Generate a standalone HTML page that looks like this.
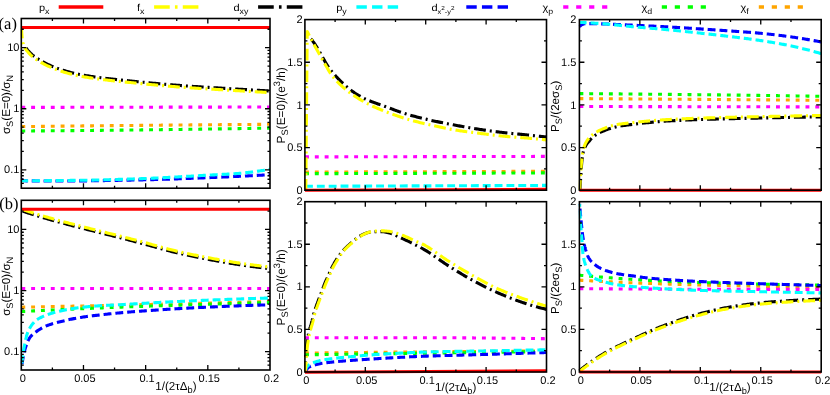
<!DOCTYPE html>
<html><head><meta charset="utf-8"><title>chart</title>
<style>html,body{margin:0;padding:0;background:#fff}svg{display:block}</style>
</head><body>
<svg width="830" height="395" viewBox="0 0 830 395">
<rect width="830" height="395" fill="#fff"/>
<clipPath id="clipLa"><rect x="20.6" y="17.8" width="250.1" height="172.3"/></clipPath>
<g clip-path="url(#clipLa)" fill="none" stroke-width="3.1" stroke-linejoin="round">
<path d="M21.30 126.60 L22.50 126.59 L23.70 126.57 L24.90 126.56 L26.10 126.54 L27.30 126.53 L28.50 126.52 L29.70 126.50 L30.90 126.49 L32.10 126.48 L33.30 126.46 L34.50 126.45 L35.70 126.44 L36.90 126.42 L38.10 126.41 L39.30 126.39 L40.50 126.38 L41.70 126.37 L42.90 126.35 L44.10 126.34 L45.30 126.33 L46.50 126.31 L47.70 126.30 L48.90 126.29 L50.10 126.27 L51.30 126.26 L52.50 126.25 L53.70 126.23 L54.90 126.22 L56.10 126.21 L57.30 126.19 L58.50 126.18 L59.70 126.17 L60.89 126.15 L62.09 126.14 L63.29 126.13 L64.49 126.12 L65.69 126.10 L66.89 126.09 L68.09 126.08 L69.29 126.06 L70.49 126.05 L71.69 126.04 L72.89 126.03 L74.09 126.01 L75.29 126.00 L76.49 125.99 L77.69 125.97 L78.89 125.96 L80.09 125.95 L81.29 125.94 L82.49 125.92 L83.69 125.91 L84.89 125.90 L86.09 125.89 L87.29 125.87 L88.49 125.86 L89.69 125.85 L90.89 125.84 L92.09 125.83 L93.29 125.81 L94.49 125.80 L95.69 125.79 L96.89 125.78 L98.09 125.76 L99.29 125.75 L100.49 125.74 L101.69 125.73 L102.89 125.72 L104.09 125.71 L105.29 125.69 L106.49 125.68 L107.69 125.67 L108.89 125.66 L110.09 125.65 L111.29 125.64 L112.49 125.62 L113.69 125.61 L114.89 125.60 L116.09 125.59 L117.29 125.58 L118.49 125.57 L119.69 125.56 L120.89 125.54 L122.09 125.53 L123.29 125.52 L124.49 125.51 L125.69 125.50 L126.89 125.49 L128.09 125.48 L129.29 125.47 L130.49 125.45 L131.69 125.44 L132.89 125.43 L134.09 125.42 L135.29 125.41 L136.49 125.40 L137.69 125.39 L138.89 125.38 L140.09 125.37 L141.29 125.35 L142.49 125.34 L143.69 125.33 L144.89 125.32 L146.09 125.31 L147.29 125.30 L148.49 125.29 L149.69 125.28 L150.89 125.27 L152.09 125.26 L153.29 125.24 L154.49 125.23 L155.69 125.22 L156.89 125.21 L158.09 125.20 L159.29 125.19 L160.49 125.18 L161.69 125.17 L162.89 125.16 L164.09 125.15 L165.29 125.14 L166.48 125.13 L167.68 125.12 L168.88 125.11 L170.08 125.09 L171.28 125.08 L172.48 125.07 L173.68 125.06 L174.88 125.05 L176.08 125.04 L177.28 125.03 L178.48 125.02 L179.68 125.01 L180.88 125.00 L182.08 124.99 L183.28 124.98 L184.48 124.97 L185.68 124.96 L186.88 124.95 L188.08 124.94 L189.28 124.93 L190.48 124.92 L191.68 124.91 L192.88 124.90 L194.08 124.89 L195.28 124.88 L196.48 124.87 L197.68 124.86 L198.88 124.85 L200.08 124.84 L201.28 124.83 L202.48 124.82 L203.68 124.81 L204.88 124.80 L206.08 124.79 L207.28 124.78 L208.48 124.77 L209.68 124.76 L210.88 124.75 L212.08 124.74 L213.28 124.73 L214.48 124.72 L215.68 124.71 L216.88 124.70 L218.08 124.69 L219.28 124.68 L220.48 124.67 L221.68 124.66 L222.88 124.65 L224.08 124.64 L225.28 124.63 L226.48 124.62 L227.68 124.61 L228.88 124.60 L230.08 124.60 L231.28 124.59 L232.48 124.58 L233.68 124.57 L234.88 124.56 L236.08 124.55 L237.28 124.54 L238.48 124.53 L239.68 124.52 L240.88 124.51 L242.08 124.50 L243.28 124.49 L244.48 124.48 L245.68 124.48 L246.88 124.47 L248.08 124.46 L249.28 124.45 L250.48 124.44 L251.68 124.43 L252.88 124.42 L254.08 124.41 L255.28 124.40 L256.48 124.40 L257.68 124.39 L258.88 124.38 L260.08 124.37 L261.28 124.36 L262.48 124.35 L263.68 124.34 L264.88 124.34 L266.08 124.33 L267.28 124.32 L268.48 124.31 L269.68 124.30 L270.00 124.30" stroke="#ffa500" stroke-dasharray="3.93 5.9"/>
<path d="M21.30 131.00 L22.50 130.99 L23.70 130.98 L24.90 130.98 L26.10 130.97 L27.30 130.96 L28.50 130.95 L29.70 130.94 L30.90 130.93 L32.10 130.93 L33.30 130.92 L34.50 130.91 L35.70 130.90 L36.90 130.89 L38.10 130.88 L39.30 130.87 L40.50 130.86 L41.70 130.86 L42.90 130.85 L44.10 130.84 L45.30 130.83 L46.50 130.82 L47.70 130.81 L48.90 130.80 L50.10 130.79 L51.30 130.78 L52.50 130.77 L53.70 130.76 L54.90 130.75 L56.10 130.74 L57.30 130.73 L58.50 130.72 L59.70 130.71 L60.90 130.70 L62.10 130.69 L63.30 130.68 L64.50 130.67 L65.70 130.66 L66.90 130.65 L68.10 130.64 L69.30 130.63 L70.50 130.62 L71.70 130.61 L72.90 130.60 L74.10 130.59 L75.30 130.58 L76.50 130.57 L77.70 130.56 L78.90 130.55 L80.10 130.54 L81.30 130.53 L82.50 130.52 L83.70 130.50 L84.90 130.49 L86.10 130.48 L87.30 130.47 L88.50 130.46 L89.70 130.45 L90.90 130.44 L92.10 130.43 L93.30 130.41 L94.50 130.40 L95.70 130.39 L96.89 130.38 L98.09 130.37 L99.29 130.36 L100.49 130.35 L101.69 130.33 L102.89 130.32 L104.09 130.31 L105.29 130.30 L106.49 130.29 L107.69 130.27 L108.89 130.26 L110.09 130.25 L111.29 130.24 L112.49 130.23 L113.69 130.21 L114.89 130.20 L116.09 130.19 L117.29 130.18 L118.49 130.16 L119.69 130.15 L120.89 130.14 L122.09 130.13 L123.29 130.11 L124.49 130.10 L125.69 130.09 L126.89 130.07 L128.09 130.06 L129.29 130.05 L130.49 130.04 L131.69 130.02 L132.89 130.01 L134.09 130.00 L135.29 129.98 L136.49 129.97 L137.69 129.96 L138.89 129.94 L140.09 129.93 L141.29 129.91 L142.49 129.90 L143.69 129.89 L144.89 129.87 L146.09 129.86 L147.29 129.85 L148.49 129.83 L149.69 129.82 L150.89 129.80 L152.09 129.79 L153.29 129.77 L154.49 129.76 L155.69 129.75 L156.89 129.73 L158.09 129.72 L159.29 129.70 L160.49 129.69 L161.69 129.67 L162.89 129.66 L164.09 129.64 L165.29 129.63 L166.49 129.61 L167.69 129.60 L168.89 129.58 L170.09 129.57 L171.29 129.55 L172.49 129.54 L173.69 129.52 L174.89 129.51 L176.08 129.49 L177.28 129.48 L178.48 129.46 L179.68 129.44 L180.88 129.43 L182.08 129.41 L183.28 129.40 L184.48 129.38 L185.68 129.37 L186.88 129.35 L188.08 129.33 L189.28 129.32 L190.48 129.30 L191.68 129.28 L192.88 129.27 L194.08 129.25 L195.28 129.24 L196.48 129.22 L197.68 129.20 L198.88 129.19 L200.08 129.17 L201.28 129.15 L202.48 129.14 L203.68 129.12 L204.88 129.10 L206.08 129.09 L207.28 129.07 L208.48 129.05 L209.68 129.03 L210.88 129.02 L212.08 129.00 L213.28 128.98 L214.48 128.97 L215.68 128.95 L216.88 128.93 L218.08 128.91 L219.28 128.90 L220.48 128.88 L221.68 128.86 L222.88 128.84 L224.08 128.82 L225.28 128.81 L226.48 128.79 L227.67 128.77 L228.87 128.75 L230.07 128.73 L231.27 128.72 L232.47 128.70 L233.67 128.68 L234.87 128.66 L236.07 128.64 L237.27 128.62 L238.47 128.61 L239.67 128.59 L240.87 128.57 L242.07 128.55 L243.27 128.53 L244.47 128.51 L245.67 128.49 L246.87 128.48 L248.07 128.46 L249.27 128.44 L250.47 128.42 L251.67 128.40 L252.87 128.38 L254.07 128.36 L255.27 128.34 L256.47 128.32 L257.67 128.30 L258.87 128.28 L260.07 128.26 L261.27 128.24 L262.47 128.22 L263.67 128.20 L264.87 128.19 L266.07 128.17 L267.26 128.15 L268.46 128.13 L269.66 128.11 L270.00 128.10" stroke="#00ff00" stroke-dasharray="3.93 5.9"/>
<path d="M21.30 107.40 L270.00 107.00" stroke="#ff00ff" stroke-dasharray="3.93 5.9"/>
<path d="M21.30 179.30 L22.19 179.91 L22.97 180.45 L23.85 180.79 L25.04 180.82 L26.23 180.83 L27.43 180.85 L28.63 180.86 L29.83 180.88 L31.03 180.89 L32.23 180.90 L33.43 180.91 L34.63 180.92 L35.83 180.93 L37.03 180.94 L38.23 180.95 L39.43 180.96 L40.63 180.96 L41.83 180.97 L43.03 180.97 L44.23 180.98 L45.43 180.98 L46.63 180.99 L47.83 180.99 L49.03 180.99 L50.23 180.99 L51.43 181.00 L52.63 181.00 L53.83 181.00 L55.03 181.00 L56.23 181.00 L57.43 181.00 L58.63 181.00 L59.83 181.00 L61.03 181.00 L62.23 181.00 L63.43 181.00 L64.63 180.99 L65.83 180.99 L67.03 180.99 L68.23 180.98 L69.43 180.98 L70.63 180.97 L71.83 180.96 L73.03 180.96 L74.23 180.95 L75.43 180.94 L76.63 180.93 L77.83 180.92 L79.03 180.91 L80.23 180.90 L81.43 180.89 L82.63 180.88 L83.83 180.86 L85.03 180.85 L86.23 180.84 L87.43 180.82 L88.63 180.81 L89.83 180.79 L91.03 180.78 L92.23 180.76 L93.43 180.74 L94.63 180.73 L95.83 180.71 L97.03 180.69 L98.23 180.67 L99.43 180.65 L100.63 180.64 L101.83 180.62 L103.03 180.60 L104.23 180.58 L105.43 180.56 L106.63 180.54 L107.83 180.52 L109.03 180.49 L110.23 180.47 L111.43 180.45 L112.63 180.43 L113.83 180.41 L115.03 180.39 L116.22 180.36 L117.42 180.34 L118.62 180.32 L119.82 180.30 L121.02 180.27 L122.22 180.25 L123.42 180.23 L124.62 180.20 L125.82 180.18 L127.02 180.16 L128.22 180.13 L129.42 180.11 L130.62 180.08 L131.82 180.06 L133.02 180.04 L134.22 180.01 L135.42 179.99 L136.62 179.97 L137.82 179.94 L139.02 179.92 L140.22 179.90 L141.42 179.87 L142.61 179.85 L143.81 179.82 L145.01 179.79 L146.21 179.77 L147.41 179.74 L148.61 179.71 L149.81 179.68 L151.01 179.65 L152.21 179.62 L153.41 179.59 L154.61 179.56 L155.81 179.52 L157.01 179.49 L158.21 179.46 L159.40 179.42 L160.60 179.39 L161.80 179.35 L163.00 179.31 L164.20 179.28 L165.40 179.24 L166.60 179.20 L167.80 179.16 L168.99 179.12 L170.19 179.08 L171.39 179.04 L172.59 179.00 L173.79 178.96 L174.99 178.92 L176.19 178.88 L177.39 178.84 L178.58 178.79 L179.78 178.75 L180.98 178.71 L182.18 178.67 L183.38 178.62 L184.58 178.58 L185.77 178.53 L186.97 178.49 L188.17 178.44 L189.37 178.40 L190.57 178.35 L191.77 178.31 L192.96 178.26 L194.16 178.22 L195.36 178.17 L196.56 178.12 L197.76 178.08 L198.96 178.03 L200.15 177.99 L201.35 177.94 L202.55 177.89 L203.75 177.85 L204.95 177.80 L206.14 177.75 L207.34 177.71 L208.54 177.66 L209.74 177.61 L210.94 177.56 L212.14 177.52 L213.33 177.47 L214.53 177.42 L215.73 177.37 L216.93 177.32 L218.13 177.27 L219.32 177.22 L220.52 177.17 L221.72 177.11 L222.92 177.06 L224.11 177.01 L225.31 176.95 L226.51 176.90 L227.71 176.85 L228.90 176.79 L230.10 176.74 L231.30 176.68 L232.50 176.63 L233.69 176.57 L234.89 176.51 L236.09 176.46 L237.29 176.40 L238.48 176.34 L239.68 176.28 L240.88 176.23 L242.07 176.17 L243.27 176.11 L244.47 176.05 L245.67 175.99 L246.86 175.93 L248.06 175.87 L249.26 175.81 L250.45 175.74 L251.65 175.68 L252.85 175.62 L254.04 175.56 L255.24 175.50 L256.44 175.43 L257.63 175.37 L258.83 175.31 L260.03 175.24 L261.22 175.18 L262.42 175.11 L263.62 175.05 L264.81 174.98 L266.01 174.92 L267.21 174.85 L268.40 174.79 L269.60 174.72 L270.00 174.70" stroke="#0000ff" stroke-dasharray="7.9 3.95" stroke-dashoffset="1"/>
<path d="M21.30 180.80 L22.50 180.80 L23.70 180.80 L24.90 180.80 L26.10 180.80 L27.30 180.79 L28.50 180.79 L29.70 180.79 L30.90 180.78 L32.10 180.78 L33.30 180.77 L34.50 180.77 L35.70 180.76 L36.90 180.75 L38.10 180.74 L39.30 180.74 L40.50 180.73 L41.70 180.72 L42.90 180.71 L44.10 180.70 L45.30 180.69 L46.50 180.68 L47.70 180.67 L48.90 180.66 L50.10 180.65 L51.30 180.64 L52.50 180.63 L53.70 180.61 L54.90 180.60 L56.10 180.59 L57.30 180.58 L58.50 180.56 L59.70 180.55 L60.90 180.54 L62.10 180.52 L63.30 180.51 L64.50 180.49 L65.70 180.48 L66.90 180.47 L68.10 180.45 L69.30 180.44 L70.50 180.42 L71.70 180.41 L72.90 180.39 L74.10 180.38 L75.30 180.36 L76.50 180.35 L77.70 180.33 L78.90 180.31 L80.09 180.30 L81.29 180.28 L82.49 180.27 L83.69 180.25 L84.89 180.23 L86.09 180.21 L87.29 180.19 L88.49 180.17 L89.69 180.15 L90.89 180.12 L92.09 180.10 L93.29 180.08 L94.49 180.05 L95.69 180.02 L96.89 180.00 L98.09 179.97 L99.29 179.94 L100.49 179.91 L101.69 179.89 L102.89 179.86 L104.09 179.82 L105.28 179.79 L106.48 179.76 L107.68 179.73 L108.88 179.70 L110.08 179.66 L111.28 179.63 L112.48 179.60 L113.68 179.56 L114.88 179.52 L116.08 179.49 L117.28 179.45 L118.47 179.42 L119.67 179.38 L120.87 179.34 L122.07 179.30 L123.27 179.27 L124.47 179.23 L125.67 179.19 L126.87 179.15 L128.06 179.11 L129.26 179.07 L130.46 179.03 L131.66 178.99 L132.86 178.95 L134.06 178.91 L135.26 178.86 L136.45 178.82 L137.65 178.78 L138.85 178.74 L140.05 178.70 L141.25 178.66 L142.45 178.61 L143.65 178.57 L144.84 178.52 L146.04 178.47 L147.24 178.42 L148.44 178.37 L149.64 178.32 L150.83 178.27 L152.03 178.22 L153.23 178.17 L154.43 178.11 L155.62 178.06 L156.82 178.00 L158.02 177.94 L159.22 177.88 L160.41 177.82 L161.61 177.76 L162.81 177.70 L164.00 177.64 L165.20 177.58 L166.40 177.52 L167.59 177.46 L168.79 177.39 L169.99 177.33 L171.18 177.26 L172.38 177.20 L173.58 177.13 L174.77 177.07 L175.97 177.00 L177.17 176.93 L178.36 176.86 L179.56 176.80 L180.75 176.73 L181.95 176.66 L183.15 176.59 L184.34 176.52 L185.54 176.45 L186.74 176.39 L187.93 176.32 L189.13 176.25 L190.32 176.18 L191.52 176.11 L192.72 176.04 L193.91 175.97 L195.11 175.90 L196.30 175.83 L197.50 175.77 L198.70 175.70 L199.89 175.63 L201.09 175.56 L202.28 175.49 L203.48 175.42 L204.68 175.36 L205.87 175.29 L207.07 175.22 L208.26 175.16 L209.46 175.09 L210.66 175.03 L211.85 174.97 L213.05 174.90 L214.25 174.84 L215.44 174.78 L216.64 174.72 L217.84 174.66 L219.04 174.60 L220.23 174.54 L221.43 174.47 L222.63 174.41 L223.82 174.35 L225.02 174.28 L226.22 174.22 L227.41 174.15 L228.61 174.08 L229.80 174.01 L231.00 173.93 L232.19 173.86 L233.39 173.78 L234.58 173.70 L235.78 173.62 L236.97 173.53 L238.17 173.44 L239.36 173.35 L240.55 173.25 L241.74 173.15 L242.93 173.04 L244.12 172.92 L245.31 172.79 L246.50 172.66 L247.68 172.53 L248.87 172.39 L250.05 172.24 L251.23 172.09 L252.41 171.94 L253.59 171.79 L254.77 171.63 L255.95 171.47 L257.13 171.31 L258.30 171.14 L259.48 170.97 L260.65 170.79 L261.82 170.60 L262.99 170.41 L264.16 170.22 L265.33 170.03 L266.50 169.83 L267.66 169.62 L268.83 169.41 L269.99 169.20 L270.00 169.20" stroke="#00ffff" stroke-dasharray="7.9 3.95" stroke-dashoffset="1"/>
<path d="M24.10 44.60 L24.40 45.12 L24.71 45.64 L25.02 46.16 L25.34 46.69 L25.67 47.22 L26.00 47.75 L26.36 48.29 L26.72 48.83 L27.12 49.38 L27.53 49.93 L27.99 50.49 L28.50 51.07 L29.02 51.66 L29.57 52.24 L30.14 52.83 L30.73 53.42 L31.35 54.00 L32.00 54.59 L32.67 55.17 L33.38 55.74 L34.11 56.31 L34.88 56.87 L35.67 57.43 L36.49 57.98 L37.32 58.52 L38.17 59.07 L39.03 59.60 L39.90 60.13 L40.78 60.65 L41.67 61.17 L42.58 61.68 L43.50 62.18 L44.43 62.67 L45.37 63.16 L46.32 63.64 L47.29 64.11 L48.26 64.57 L49.25 65.02 L50.25 65.46 L51.25 65.90 L52.27 66.32 L53.29 66.74 L54.33 67.15 L55.37 67.55 L56.42 67.94 L57.47 68.33 L58.53 68.71 L59.60 69.08 L60.68 69.44 L61.75 69.80 L62.84 70.15 L63.93 70.49 L65.02 70.83 L66.12 71.15 L67.23 71.47 L68.34 71.78 L69.45 72.08 L70.58 72.38 L71.70 72.66 L72.83 72.94 L73.96 73.21 L75.10 73.47 L76.25 73.72 L77.39 73.96 L78.54 74.20 L79.69 74.43 L80.85 74.65 L82.01 74.87 L83.17 75.08 L84.33 75.29 L85.49 75.49 L86.66 75.68 L87.83 75.87 L89.00 76.06 L90.17 76.24 L91.34 76.42 L92.52 76.59 L93.69 76.76 L94.87 76.92 L96.05 77.08 L97.22 77.24 L98.40 77.40 L99.58 77.55 L100.76 77.71 L101.94 77.86 L103.12 78.00 L104.31 78.15 L105.49 78.29 L106.67 78.43 L107.86 78.57 L109.04 78.71 L110.22 78.85 L111.41 78.98 L112.59 79.11 L113.78 79.24 L114.96 79.37 L116.15 79.50 L117.34 79.63 L118.52 79.75 L119.71 79.88 L120.90 80.00 L122.08 80.12 L123.27 80.24 L124.46 80.36 L125.65 80.48 L126.84 80.60 L128.02 80.72 L129.21 80.84 L130.40 80.96 L131.59 81.08 L132.78 81.20 L133.96 81.32 L135.15 81.44 L136.34 81.55 L137.53 81.67 L138.72 81.79 L139.91 81.91 L141.09 82.02 L142.28 82.14 L143.47 82.26 L144.66 82.37 L145.85 82.49 L147.04 82.60 L148.23 82.72 L149.42 82.83 L150.60 82.95 L151.79 83.06 L152.98 83.17 L154.17 83.28 L155.36 83.39 L156.55 83.50 L157.74 83.61 L158.93 83.72 L160.12 83.83 L161.31 83.93 L162.50 84.04 L163.69 84.14 L164.88 84.25 L166.08 84.35 L167.27 84.45 L168.46 84.55 L169.65 84.65 L170.84 84.75 L172.03 84.85 L173.22 84.95 L174.42 85.05 L175.61 85.14 L176.80 85.23 L177.99 85.33 L179.19 85.42 L180.38 85.51 L181.57 85.60 L182.77 85.69 L183.96 85.77 L185.15 85.86 L186.35 85.94 L187.54 86.03 L188.74 86.11 L189.93 86.19 L191.13 86.27 L192.32 86.35 L193.51 86.43 L194.71 86.51 L195.90 86.59 L197.10 86.66 L198.29 86.74 L199.49 86.82 L200.69 86.89 L201.88 86.96 L203.08 87.04 L204.27 87.11 L205.47 87.19 L206.66 87.26 L207.86 87.33 L209.05 87.40 L210.25 87.47 L211.45 87.55 L212.64 87.62 L213.84 87.69 L215.03 87.76 L216.23 87.83 L217.42 87.90 L218.62 87.97 L219.82 88.04 L221.01 88.12 L222.21 88.19 L223.40 88.26 L224.60 88.33 L225.79 88.40 L226.99 88.48 L228.19 88.55 L229.38 88.62 L230.58 88.69 L231.77 88.77 L232.97 88.84 L234.16 88.91 L235.36 88.98 L236.55 89.05 L237.75 89.12 L238.95 89.20 L240.14 89.27 L241.34 89.34 L242.53 89.41 L243.73 89.48 L244.92 89.55 L246.12 89.62 L247.32 89.69 L248.51 89.76 L249.71 89.83 L250.90 89.90 L252.10 89.97 L253.30 90.04 L254.49 90.11 L255.69 90.18 L256.88 90.25 L258.08 90.32 L259.28 90.39 L260.47 90.46 L261.67 90.53 L262.86 90.59 L264.06 90.66 L265.26 90.73 L266.45 90.80 L267.65 90.87 L268.84 90.93 L270.00 91.00" stroke="#000000" stroke-dasharray="11.85 3.95 1.98 3.95" stroke-dashoffset="17.83"/>
<path d="M21.50 28.30 L21.55 29.10 L21.60 29.89 L21.65 30.69 L21.70 31.48 L21.75 32.25 L21.80 33.01 L21.85 33.75 L21.90 34.47 L21.95 35.16 L22.00 35.81 L22.05 36.43 L22.10 37.00 L22.15 37.53 L22.20 38.01 L22.25 38.43 L22.30 38.80 L22.35 39.13 L22.40 39.45 L22.45 39.76 L22.50 40.07 L22.55 40.36 L22.60 40.65 L22.65 40.93 L22.70 41.20 L22.75 41.46 L22.80 41.71 L22.85 41.96 L22.90 42.20 L22.95 42.44 L23.01 42.68 L23.07 42.94 L23.13 43.20 L23.20 43.47 L23.27 43.75 L23.35 44.05 L23.44 44.35 L23.54 44.67 L23.65 45.00 L23.77 45.35 L23.90 45.72 L24.06 46.11 L24.24 46.53 L24.44 46.96 L24.66 47.41 L24.90 47.87 L25.16 48.35 L25.46 48.85 L25.80 49.37 L26.18 49.90 L26.61 50.45 L27.07 51.02 L27.57 51.60 L28.09 52.20 L28.60 52.78 L29.13 53.37 L29.68 53.96 L30.25 54.54 L30.85 55.13 L31.48 55.72 L32.13 56.30 L32.81 56.88 L33.52 57.45 L34.26 58.02 L35.03 58.58 L35.83 59.13 L36.65 59.68 L37.49 60.23 L38.33 60.77 L39.19 61.30 L40.06 61.83 L40.95 62.35 L41.85 62.87 L42.75 63.37 L43.68 63.87 L44.61 64.37 L45.55 64.85 L46.51 65.33 L47.48 65.80 L48.45 66.25 L49.44 66.71 L50.44 67.15 L51.45 67.58 L52.47 68.01 L53.49 68.42 L54.53 68.83 L55.57 69.23 L56.62 69.62 L57.68 70.00 L58.74 70.38 L59.81 70.75 L60.88 71.11 L61.96 71.47 L63.05 71.82 L64.14 72.16 L65.24 72.49 L66.34 72.82 L67.44 73.13 L68.55 73.44 L69.67 73.74 L70.79 74.03 L71.92 74.32 L73.05 74.59 L74.18 74.86 L75.32 75.12 L76.47 75.37 L77.61 75.61 L78.76 75.84 L79.92 76.07 L81.07 76.30 L82.23 76.51 L83.39 76.72 L84.56 76.93 L85.72 77.13 L86.89 77.32 L88.06 77.51 L89.23 77.69 L90.40 77.87 L91.57 78.05 L92.74 78.22 L93.92 78.39 L95.10 78.55 L96.27 78.72 L97.45 78.87 L98.63 79.03 L99.81 79.18 L100.99 79.34 L102.17 79.49 L103.35 79.63 L104.54 79.78 L105.72 79.92 L106.90 80.06 L108.08 80.20 L109.27 80.34 L110.45 80.47 L111.64 80.60 L112.82 80.74 L114.01 80.87 L115.19 81.00 L116.38 81.12 L117.57 81.25 L118.75 81.38 L119.94 81.50 L121.13 81.62 L122.31 81.75 L123.50 81.87 L124.69 81.99 L125.88 82.11 L127.07 82.23 L128.25 82.35 L129.44 82.47 L130.63 82.58 L131.82 82.70 L133.01 82.82 L134.19 82.94 L135.38 83.06 L136.57 83.18 L137.76 83.30 L138.95 83.41 L140.14 83.53 L141.32 83.65 L142.51 83.76 L143.70 83.88 L144.89 84.00 L146.08 84.11 L147.27 84.23 L148.46 84.34 L149.65 84.45 L150.83 84.57 L152.02 84.68 L153.21 84.79 L154.40 84.90 L155.59 85.01 L156.78 85.12 L157.97 85.23 L159.16 85.34 L160.35 85.45 L161.54 85.55 L162.73 85.66 L163.92 85.76 L165.12 85.87 L166.31 85.97 L167.50 86.07 L168.69 86.17 L169.88 86.27 L171.07 86.37 L172.26 86.47 L173.46 86.57 L174.65 86.66 L175.84 86.76 L177.03 86.85 L178.23 86.94 L179.42 87.04 L180.61 87.13 L181.80 87.22 L183.00 87.30 L184.19 87.39 L185.39 87.47 L186.58 87.56 L187.77 87.64 L188.97 87.73 L190.16 87.81 L191.36 87.89 L192.55 87.97 L193.75 88.05 L194.94 88.12 L196.14 88.20 L197.33 88.28 L198.53 88.35 L199.72 88.43 L200.92 88.50 L202.11 88.58 L203.31 88.65 L204.50 88.73 L205.70 88.80 L206.89 88.87 L208.09 88.94 L209.29 89.02 L210.48 89.09 L211.68 89.16 L212.87 89.23 L214.07 89.30 L215.26 89.37 L216.46 89.44 L217.66 89.52 L218.85 89.59 L220.05 89.66 L221.24 89.73 L222.44 89.80 L223.63 89.87 L224.83 89.94 L226.03 90.02 L227.22 90.09 L228.42 90.16 L229.61 90.23 L230.81 90.31 L232.00 90.38 L233.20 90.45 L234.39 90.52 L235.59 90.60 L236.79 90.67 L237.98 90.74 L239.18 90.81 L240.37 90.88 L241.57 90.95 L242.76 91.02 L243.96 91.09 L245.16 91.16 L246.35 91.24 L247.55 91.31 L248.74 91.38 L249.94 91.45 L251.14 91.52 L252.33 91.59 L253.53 91.66 L254.72 91.73 L255.92 91.79 L257.12 91.86 L258.31 91.93 L259.51 92.00 L260.70 92.07 L261.90 92.14 L263.10 92.21 L264.29 92.28 L265.49 92.34 L266.68 92.41 L267.88 92.48 L269.08 92.55 L270.00 92.60" stroke="#ffff00" stroke-dasharray="11.85 3.95 1.98 3.95" stroke-dashoffset="1.79"/>
<path d="M21.30 27.50 L270.00 27.50" stroke="#ff0000"/>
</g>
<clipPath id="clipLb"><rect x="20.6" y="199.6" width="250.1" height="172.3"/></clipPath>
<g clip-path="url(#clipLb)" fill="none" stroke-width="3.1" stroke-linejoin="round">
<path d="M21.30 307.20 L22.50 307.18 L23.70 307.15 L24.90 307.13 L26.10 307.11 L27.30 307.08 L28.50 307.06 L29.70 307.04 L30.90 307.01 L32.10 306.99 L33.30 306.96 L34.49 306.94 L35.69 306.92 L36.89 306.89 L38.09 306.87 L39.29 306.84 L40.49 306.82 L41.69 306.80 L42.89 306.77 L44.09 306.75 L45.29 306.72 L46.49 306.70 L47.69 306.68 L48.89 306.65 L50.09 306.63 L51.29 306.60 L52.49 306.58 L53.69 306.55 L54.89 306.53 L56.09 306.50 L57.29 306.48 L58.49 306.45 L59.68 306.43 L60.88 306.41 L62.08 306.38 L63.28 306.36 L64.48 306.33 L65.68 306.31 L66.88 306.28 L68.08 306.26 L69.28 306.23 L70.48 306.21 L71.68 306.18 L72.88 306.16 L74.08 306.13 L75.28 306.11 L76.48 306.08 L77.68 306.06 L78.88 306.03 L80.08 306.00 L81.28 305.98 L82.47 305.95 L83.67 305.93 L84.87 305.90 L86.07 305.88 L87.27 305.85 L88.47 305.83 L89.67 305.80 L90.87 305.77 L92.07 305.75 L93.27 305.72 L94.47 305.70 L95.67 305.67 L96.87 305.65 L98.07 305.62 L99.27 305.59 L100.47 305.57 L101.67 305.54 L102.87 305.52 L104.06 305.49 L105.26 305.46 L106.46 305.44 L107.66 305.41 L108.86 305.38 L110.06 305.36 L111.26 305.33 L112.46 305.31 L113.66 305.28 L114.86 305.25 L116.06 305.23 L117.26 305.20 L118.46 305.17 L119.66 305.15 L120.86 305.12 L122.06 305.09 L123.26 305.07 L124.45 305.04 L125.65 305.01 L126.85 304.99 L128.05 304.96 L129.25 304.93 L130.45 304.91 L131.65 304.88 L132.85 304.85 L134.05 304.83 L135.25 304.80 L136.45 304.77 L137.65 304.74 L138.85 304.72 L140.05 304.69 L141.25 304.66 L142.45 304.64 L143.65 304.61 L144.84 304.58 L146.04 304.55 L147.24 304.53 L148.44 304.50 L149.64 304.47 L150.84 304.44 L152.04 304.42 L153.24 304.39 L154.44 304.36 L155.64 304.33 L156.84 304.31 L158.04 304.28 L159.24 304.25 L160.44 304.22 L161.64 304.19 L162.83 304.17 L164.03 304.14 L165.23 304.11 L166.43 304.08 L167.63 304.05 L168.83 304.03 L170.03 304.00 L171.23 303.97 L172.43 303.94 L173.63 303.91 L174.83 303.88 L176.03 303.86 L177.23 303.83 L178.43 303.80 L179.63 303.77 L180.82 303.74 L182.02 303.71 L183.22 303.68 L184.42 303.66 L185.62 303.63 L186.82 303.60 L188.02 303.57 L189.22 303.54 L190.42 303.51 L191.62 303.48 L192.82 303.45 L194.02 303.42 L195.22 303.39 L196.42 303.37 L197.62 303.34 L198.81 303.31 L200.01 303.28 L201.21 303.25 L202.41 303.22 L203.61 303.19 L204.81 303.16 L206.01 303.13 L207.21 303.10 L208.41 303.07 L209.61 303.04 L210.81 303.01 L212.01 302.98 L213.21 302.95 L214.40 302.92 L215.60 302.89 L216.80 302.86 L218.00 302.83 L219.20 302.80 L220.40 302.77 L221.60 302.74 L222.80 302.71 L224.00 302.68 L225.20 302.65 L226.40 302.62 L227.60 302.59 L228.80 302.56 L230.00 302.53 L231.19 302.50 L232.39 302.47 L233.59 302.44 L234.79 302.41 L235.99 302.38 L237.19 302.35 L238.39 302.32 L239.59 302.29 L240.79 302.26 L241.99 302.23 L243.19 302.20 L244.39 302.17 L245.59 302.14 L246.78 302.10 L247.98 302.07 L249.18 302.04 L250.38 302.01 L251.58 301.98 L252.78 301.95 L253.98 301.92 L255.18 301.89 L256.38 301.86 L257.58 301.83 L258.78 301.79 L259.98 301.76 L261.17 301.73 L262.37 301.70 L263.57 301.67 L264.77 301.64 L265.97 301.61 L267.17 301.57 L268.37 301.54 L269.57 301.51 L270.00 301.50" stroke="#ffa500" stroke-dasharray="3.93 5.9"/>
<path d="M21.30 311.50 L22.50 311.44 L23.69 311.38 L24.89 311.33 L26.09 311.27 L27.29 311.21 L28.48 311.15 L29.68 311.09 L30.88 311.04 L32.07 310.98 L33.27 310.92 L34.47 310.86 L35.67 310.81 L36.86 310.75 L38.06 310.69 L39.26 310.64 L40.46 310.58 L41.65 310.52 L42.85 310.47 L44.05 310.41 L45.25 310.36 L46.44 310.30 L47.64 310.25 L48.84 310.19 L50.03 310.13 L51.23 310.08 L52.43 310.02 L53.63 309.97 L54.82 309.91 L56.02 309.86 L57.22 309.81 L58.42 309.75 L59.61 309.70 L60.81 309.64 L62.01 309.59 L63.21 309.54 L64.41 309.48 L65.60 309.43 L66.80 309.37 L68.00 309.32 L69.20 309.27 L70.39 309.22 L71.59 309.16 L72.79 309.11 L73.99 309.06 L75.18 309.01 L76.38 308.95 L77.58 308.90 L78.78 308.85 L79.98 308.80 L81.17 308.75 L82.37 308.70 L83.57 308.64 L84.77 308.59 L85.96 308.54 L87.16 308.49 L88.36 308.44 L89.56 308.39 L90.76 308.34 L91.95 308.29 L93.15 308.24 L94.35 308.19 L95.55 308.14 L96.75 308.09 L97.94 308.04 L99.14 308.00 L100.34 307.95 L101.54 307.90 L102.74 307.85 L103.93 307.80 L105.13 307.75 L106.33 307.71 L107.53 307.66 L108.73 307.61 L109.92 307.56 L111.12 307.52 L112.32 307.47 L113.52 307.42 L114.72 307.38 L115.91 307.33 L117.11 307.28 L118.31 307.24 L119.51 307.19 L120.71 307.15 L121.91 307.10 L123.10 307.06 L124.30 307.01 L125.50 306.97 L126.70 306.92 L127.90 306.88 L129.10 306.83 L130.29 306.79 L131.49 306.75 L132.69 306.70 L133.89 306.66 L135.09 306.62 L136.29 306.57 L137.48 306.53 L138.68 306.49 L139.88 306.44 L141.08 306.40 L142.28 306.36 L143.48 306.32 L144.68 306.28 L145.87 306.24 L147.07 306.19 L148.27 306.15 L149.47 306.11 L150.67 306.07 L151.87 306.03 L153.07 305.99 L154.26 305.95 L155.46 305.91 L156.66 305.87 L157.86 305.83 L159.06 305.78 L160.26 305.74 L161.46 305.70 L162.66 305.66 L163.85 305.62 L165.05 305.58 L166.25 305.54 L167.45 305.50 L168.65 305.47 L169.85 305.43 L171.05 305.39 L172.24 305.35 L173.44 305.31 L174.64 305.27 L175.84 305.23 L177.04 305.19 L178.24 305.15 L179.44 305.11 L180.64 305.08 L181.83 305.04 L183.03 305.00 L184.23 304.96 L185.43 304.92 L186.63 304.89 L187.83 304.85 L189.03 304.81 L190.23 304.77 L191.43 304.74 L192.62 304.70 L193.82 304.66 L195.02 304.62 L196.22 304.59 L197.42 304.55 L198.62 304.51 L199.82 304.48 L201.02 304.44 L202.21 304.40 L203.41 304.37 L204.61 304.33 L205.81 304.30 L207.01 304.26 L208.21 304.23 L209.41 304.19 L210.61 304.16 L211.81 304.12 L213.01 304.09 L214.20 304.05 L215.40 304.02 L216.60 303.98 L217.80 303.95 L219.00 303.91 L220.20 303.88 L221.40 303.84 L222.60 303.81 L223.80 303.78 L225.00 303.74 L226.19 303.71 L227.39 303.68 L228.59 303.64 L229.79 303.61 L230.99 303.58 L232.19 303.55 L233.39 303.51 L234.59 303.48 L235.79 303.45 L236.99 303.42 L238.19 303.38 L239.38 303.35 L240.58 303.32 L241.78 303.29 L242.98 303.26 L244.18 303.23 L245.38 303.20 L246.58 303.17 L247.78 303.14 L248.98 303.11 L250.18 303.08 L251.38 303.05 L252.58 303.02 L253.78 302.99 L254.97 302.96 L256.17 302.93 L257.37 302.90 L258.57 302.87 L259.77 302.84 L260.97 302.81 L262.17 302.78 L263.37 302.75 L264.57 302.73 L265.77 302.70 L266.97 302.67 L268.17 302.64 L269.37 302.61 L270.00 302.60" stroke="#00ff00" stroke-dasharray="3.93 5.9"/>
<path d="M21.30 288.50 L270.00 288.50" stroke="#ff00ff" stroke-dasharray="3.93 5.9"/>
<path d="M22.00 364.00 L22.05 363.70 L22.10 363.40 L22.15 363.11 L22.20 362.81 L22.25 362.51 L22.30 362.22 L22.35 361.92 L22.40 361.63 L22.45 361.33 L22.50 361.04 L22.55 360.75 L22.60 360.46 L22.65 360.17 L22.70 359.88 L22.75 359.60 L22.80 359.31 L22.85 359.03 L22.90 358.75 L22.95 358.47 L23.00 358.19 L23.05 357.91 L23.10 357.64 L23.15 357.36 L23.20 357.09 L23.25 356.82 L23.30 356.56 L23.35 356.29 L23.40 356.03 L23.45 355.77 L23.50 355.51 L23.55 355.26 L23.60 355.01 L23.65 354.76 L23.70 354.51 L23.75 354.27 L23.80 354.03 L23.85 353.79 L23.90 353.55 L23.96 353.30 L24.01 353.05 L24.07 352.80 L24.12 352.55 L24.18 352.29 L24.25 352.02 L24.31 351.75 L24.38 351.48 L24.45 351.20 L24.53 350.91 L24.61 350.61 L24.70 350.31 L24.79 349.99 L24.89 349.67 L24.99 349.34 L25.08 349.01 L25.19 348.68 L25.29 348.34 L25.40 348.00 L25.50 347.66 L25.61 347.32 L25.73 346.97 L25.84 346.62 L25.96 346.26 L26.08 345.91 L26.20 345.54 L26.33 345.18 L26.46 344.80 L26.60 344.43 L26.74 344.04 L26.89 343.66 L27.04 343.26 L27.19 342.86 L27.36 342.46 L27.53 342.05 L27.71 341.62 L27.89 341.20 L28.09 340.76 L28.30 340.31 L28.53 339.85 L28.77 339.38 L29.04 338.90 L29.33 338.40 L29.65 337.89 L30.02 337.37 L30.45 336.81 L30.92 336.25 L31.43 335.68 L31.98 335.10 L32.58 334.52 L33.23 333.95 L33.92 333.38 L34.66 332.81 L35.43 332.25 L36.23 331.69 L37.03 331.13 L37.84 330.58 L38.67 330.03 L39.52 329.49 L40.38 328.96 L41.26 328.44 L42.16 327.93 L43.08 327.44 L44.02 326.96 L44.98 326.49 L45.96 326.05 L46.97 325.63 L48.01 325.23 L49.06 324.85 L50.13 324.49 L51.22 324.15 L52.32 323.82 L53.42 323.51 L54.53 323.20 L55.65 322.90 L56.78 322.61 L57.90 322.32 L59.03 322.04 L60.16 321.75 L61.28 321.47 L62.41 321.19 L63.55 320.92 L64.68 320.64 L65.82 320.38 L66.95 320.11 L68.09 319.85 L69.24 319.60 L70.38 319.35 L71.53 319.11 L72.68 318.87 L73.83 318.64 L74.99 318.42 L76.14 318.20 L77.30 317.99 L78.47 317.79 L79.63 317.59 L80.80 317.41 L81.97 317.23 L83.15 317.05 L84.32 316.88 L85.50 316.71 L86.67 316.55 L87.85 316.39 L89.03 316.24 L90.21 316.09 L91.39 315.94 L92.58 315.80 L93.76 315.65 L94.94 315.51 L96.12 315.37 L97.31 315.24 L98.49 315.10 L99.68 314.96 L100.86 314.83 L102.05 314.69 L103.23 314.56 L104.42 314.43 L105.60 314.30 L106.79 314.17 L107.97 314.04 L109.16 313.91 L110.35 313.79 L111.53 313.66 L112.72 313.54 L113.91 313.42 L115.10 313.31 L116.28 313.19 L117.47 313.07 L118.66 312.96 L119.85 312.85 L121.04 312.74 L122.23 312.63 L123.42 312.53 L124.61 312.42 L125.80 312.32 L127.00 312.22 L128.19 312.12 L129.38 312.02 L130.57 311.92 L131.76 311.82 L132.95 311.73 L134.15 311.64 L135.34 311.54 L136.53 311.45 L137.73 311.36 L138.92 311.27 L140.11 311.19 L141.31 311.10 L142.50 311.01 L143.69 310.93 L144.89 310.84 L146.08 310.76 L147.28 310.68 L148.47 310.60 L149.66 310.51 L150.86 310.43 L152.05 310.35 L153.25 310.27 L154.44 310.19 L155.64 310.11 L156.83 310.03 L158.03 309.95 L159.22 309.87 L160.42 309.79 L161.61 309.71 L162.81 309.63 L164.00 309.55 L165.20 309.48 L166.39 309.40 L167.59 309.32 L168.78 309.25 L169.98 309.17 L171.17 309.10 L172.37 309.02 L173.56 308.95 L174.76 308.88 L175.95 308.80 L177.15 308.73 L178.34 308.66 L179.54 308.59 L180.74 308.52 L181.93 308.45 L183.13 308.38 L184.32 308.32 L185.52 308.25 L186.72 308.18 L187.91 308.12 L189.11 308.05 L190.31 307.99 L191.50 307.93 L192.70 307.86 L193.90 307.80 L195.09 307.74 L196.29 307.68 L197.49 307.62 L198.68 307.56 L199.88 307.51 L201.08 307.45 L202.28 307.39 L203.47 307.34 L204.67 307.28 L205.87 307.22 L207.07 307.17 L208.26 307.11 L209.46 307.06 L210.66 307.00 L211.86 306.95 L213.05 306.89 L214.25 306.84 L215.45 306.79 L216.65 306.73 L217.84 306.68 L219.04 306.63 L220.24 306.58 L221.44 306.52 L222.63 306.47 L223.83 306.42 L225.03 306.37 L226.23 306.32 L227.43 306.27 L228.62 306.22 L229.82 306.17 L231.02 306.12 L232.22 306.07 L233.42 306.03 L234.61 305.98 L235.81 305.93 L237.01 305.88 L238.21 305.84 L239.41 305.79 L240.60 305.75 L241.80 305.70 L243.00 305.66 L244.20 305.61 L245.40 305.57 L246.60 305.53 L247.79 305.48 L248.99 305.44 L250.19 305.40 L251.39 305.36 L252.59 305.32 L253.79 305.28 L254.99 305.24 L256.19 305.20 L257.38 305.16 L258.58 305.13 L259.78 305.09 L260.98 305.05 L262.18 305.02 L263.38 304.98 L264.58 304.95 L265.78 304.91 L266.98 304.88 L268.17 304.85 L269.37 304.82 L270.00 304.80" stroke="#0000ff" stroke-dasharray="7.9 3.95"/>
<path d="M21.90 363.20 L21.95 362.79 L22.00 362.38 L22.05 361.96 L22.10 361.56 L22.15 361.15 L22.20 360.74 L22.25 360.34 L22.30 359.93 L22.35 359.53 L22.40 359.13 L22.45 358.73 L22.50 358.34 L22.55 357.94 L22.60 357.55 L22.65 357.17 L22.70 356.78 L22.75 356.40 L22.80 356.02 L22.85 355.64 L22.90 355.27 L22.95 354.90 L23.00 354.53 L23.05 354.17 L23.10 353.81 L23.15 353.45 L23.20 353.10 L23.25 352.75 L23.30 352.41 L23.35 352.07 L23.40 351.73 L23.45 351.40 L23.50 351.08 L23.55 350.75 L23.60 350.44 L23.65 350.13 L23.70 349.82 L23.75 349.52 L23.80 349.23 L23.85 348.94 L23.90 348.65 L23.95 348.37 L24.00 348.10 L24.05 347.83 L24.10 347.56 L24.15 347.30 L24.20 347.03 L24.25 346.76 L24.30 346.50 L24.35 346.23 L24.40 345.97 L24.45 345.71 L24.50 345.45 L24.55 345.19 L24.60 344.93 L24.65 344.67 L24.70 344.42 L24.75 344.16 L24.80 343.91 L24.85 343.66 L24.90 343.41 L24.95 343.16 L25.00 342.91 L25.05 342.66 L25.10 342.42 L25.15 342.17 L25.20 341.93 L25.25 341.69 L25.30 341.45 L25.35 341.21 L25.40 340.97 L25.45 340.72 L25.51 340.48 L25.56 340.23 L25.61 339.98 L25.67 339.73 L25.73 339.48 L25.78 339.23 L25.84 338.97 L25.90 338.71 L25.96 338.45 L26.02 338.19 L26.09 337.92 L26.15 337.65 L26.22 337.38 L26.29 337.10 L26.36 336.82 L26.43 336.54 L26.51 336.25 L26.58 335.95 L26.66 335.66 L26.75 335.35 L26.84 335.05 L26.93 334.73 L27.03 334.41 L27.13 334.08 L27.24 333.74 L27.36 333.39 L27.48 333.03 L27.63 332.65 L27.78 332.26 L27.97 331.85 L28.17 331.40 L28.39 330.95 L28.61 330.49 L28.84 330.02 L29.08 329.55 L29.33 329.07 L29.59 328.58 L29.87 328.08 L30.16 327.58 L30.46 327.07 L30.78 326.55 L31.12 326.02 L31.48 325.48 L31.86 324.93 L32.26 324.38 L32.70 323.82 L33.17 323.25 L33.67 322.68 L34.21 322.10 L34.79 321.53 L35.43 320.96 L36.12 320.39 L36.86 319.84 L37.66 319.29 L38.49 318.76 L39.37 318.25 L40.28 317.75 L41.22 317.28 L42.20 316.83 L43.20 316.40 L44.22 315.98 L45.25 315.58 L46.30 315.18 L47.35 314.78 L48.40 314.39 L49.46 314.01 L50.53 313.64 L51.60 313.29 L52.69 312.94 L53.79 312.61 L54.89 312.30 L56.00 312.00 L57.13 311.71 L58.26 311.44 L59.40 311.18 L60.54 310.92 L61.68 310.67 L62.82 310.42 L63.97 310.18 L65.12 309.94 L66.28 309.71 L67.43 309.49 L68.59 309.28 L69.75 309.07 L70.91 308.86 L72.08 308.67 L73.25 308.48 L74.42 308.30 L75.59 308.13 L76.77 307.96 L77.95 307.80 L79.13 307.66 L80.31 307.52 L81.49 307.38 L82.68 307.25 L83.87 307.12 L85.05 307.00 L86.24 306.88 L87.43 306.77 L88.62 306.66 L89.81 306.55 L91.00 306.45 L92.19 306.35 L93.38 306.25 L94.57 306.16 L95.77 306.07 L96.96 305.98 L98.15 305.90 L99.35 305.82 L100.54 305.74 L101.74 305.66 L102.93 305.59 L104.13 305.52 L105.33 305.45 L106.52 305.39 L107.72 305.32 L108.92 305.26 L110.11 305.21 L111.31 305.15 L112.51 305.09 L113.70 305.04 L114.90 304.98 L116.10 304.93 L117.30 304.87 L118.49 304.81 L119.69 304.75 L120.89 304.69 L122.09 304.63 L123.28 304.56 L124.48 304.49 L125.67 304.42 L126.87 304.35 L128.07 304.28 L129.26 304.21 L130.46 304.13 L131.65 304.06 L132.85 303.98 L134.04 303.91 L135.24 303.83 L136.43 303.76 L137.63 303.68 L138.82 303.61 L140.02 303.54 L141.21 303.47 L142.41 303.40 L143.61 303.33 L144.80 303.26 L146.00 303.19 L147.20 303.13 L148.39 303.06 L149.59 303.00 L150.78 302.93 L151.98 302.87 L153.18 302.80 L154.37 302.74 L155.57 302.67 L156.77 302.61 L157.96 302.54 L159.16 302.48 L160.36 302.41 L161.55 302.35 L162.75 302.29 L163.95 302.22 L165.14 302.16 L166.34 302.10 L167.54 302.04 L168.73 301.97 L169.93 301.91 L171.13 301.85 L172.32 301.79 L173.52 301.73 L174.72 301.67 L175.91 301.61 L177.11 301.55 L178.31 301.49 L179.51 301.43 L180.70 301.38 L181.90 301.32 L183.10 301.26 L184.29 301.20 L185.49 301.15 L186.69 301.09 L187.89 301.04 L189.08 300.98 L190.28 300.93 L191.48 300.87 L192.68 300.82 L193.87 300.76 L195.07 300.71 L196.27 300.66 L197.47 300.61 L198.67 300.56 L199.86 300.51 L201.06 300.46 L202.26 300.41 L203.46 300.36 L204.65 300.31 L205.85 300.26 L207.05 300.21 L208.25 300.16 L209.45 300.11 L210.64 300.06 L211.84 300.01 L213.04 299.96 L214.24 299.92 L215.44 299.87 L216.64 299.82 L217.83 299.77 L219.03 299.73 L220.23 299.68 L221.43 299.63 L222.63 299.59 L223.82 299.54 L225.02 299.50 L226.22 299.45 L227.42 299.41 L228.62 299.36 L229.82 299.32 L231.01 299.27 L232.21 299.23 L233.41 299.18 L234.61 299.14 L235.81 299.10 L237.01 299.05 L238.20 299.01 L239.40 298.97 L240.60 298.93 L241.80 298.88 L243.00 298.84 L244.20 298.80 L245.40 298.76 L246.59 298.72 L247.79 298.68 L248.99 298.64 L250.19 298.60 L251.39 298.56 L252.59 298.52 L253.79 298.48 L254.99 298.45 L256.18 298.41 L257.38 298.37 L258.58 298.33 L259.78 298.30 L260.98 298.26 L262.18 298.23 L263.38 298.19 L264.58 298.15 L265.78 298.12 L266.97 298.09 L268.17 298.05 L269.37 298.02 L270.00 298.00" stroke="#00ffff" stroke-dasharray="7.9 3.95"/>
<path d="M21.50 210.80 L22.58 211.15 L23.67 211.51 L24.75 211.86 L25.84 212.21 L26.93 212.56 L28.02 212.91 L29.11 213.25 L30.20 213.60 L31.29 213.94 L32.38 214.29 L33.47 214.63 L34.56 214.97 L35.66 215.31 L36.75 215.65 L37.85 215.98 L38.95 216.32 L40.05 216.65 L41.14 216.98 L42.24 217.31 L43.35 217.64 L44.45 217.97 L45.55 218.29 L46.66 218.62 L47.76 218.94 L48.87 219.26 L49.98 219.58 L51.09 219.90 L52.20 220.21 L53.31 220.52 L54.42 220.83 L55.53 221.14 L56.65 221.45 L57.76 221.76 L58.88 222.06 L60.00 222.37 L61.11 222.67 L62.23 222.97 L63.35 223.27 L64.47 223.57 L65.59 223.86 L66.71 224.16 L67.84 224.45 L68.96 224.75 L70.08 225.04 L71.21 225.34 L72.33 225.63 L73.45 225.92 L74.58 226.21 L75.70 226.50 L76.83 226.79 L77.95 227.08 L79.08 227.37 L80.20 227.66 L81.33 227.95 L82.46 228.24 L83.58 228.53 L84.71 228.82 L85.83 229.11 L86.96 229.40 L88.08 229.69 L89.21 229.97 L90.34 230.26 L91.46 230.54 L92.59 230.83 L93.72 231.11 L94.85 231.40 L95.98 231.68 L97.11 231.96 L98.24 232.24 L99.37 232.52 L100.50 232.80 L101.63 233.08 L102.76 233.36 L103.89 233.64 L105.02 233.92 L106.15 234.20 L107.28 234.48 L108.41 234.76 L109.54 235.04 L110.67 235.32 L111.80 235.60 L112.93 235.89 L114.06 236.17 L115.19 236.45 L116.32 236.74 L117.45 237.02 L118.58 237.31 L119.71 237.59 L120.83 237.88 L121.96 238.17 L123.08 238.46 L124.21 238.75 L125.34 239.04 L126.46 239.33 L127.58 239.62 L128.71 239.91 L129.83 240.21 L130.96 240.50 L132.08 240.79 L133.20 241.09 L134.33 241.38 L135.45 241.68 L136.57 241.97 L137.69 242.27 L138.82 242.56 L139.94 242.86 L141.06 243.16 L142.18 243.45 L143.30 243.75 L144.42 244.06 L145.54 244.36 L146.65 244.67 L147.77 244.97 L148.88 245.28 L150.00 245.59 L151.11 245.90 L152.22 246.22 L153.34 246.53 L154.45 246.84 L155.56 247.15 L156.67 247.46 L157.79 247.78 L158.90 248.09 L160.01 248.40 L161.13 248.70 L162.24 249.01 L163.36 249.32 L164.48 249.62 L165.60 249.92 L166.71 250.22 L167.84 250.51 L168.96 250.81 L170.08 251.09 L171.21 251.38 L172.34 251.66 L173.47 251.94 L174.60 252.21 L175.74 252.48 L176.88 252.75 L178.01 253.01 L179.15 253.27 L180.29 253.53 L181.43 253.79 L182.58 254.05 L183.72 254.30 L184.86 254.55 L186.01 254.80 L187.15 255.05 L188.30 255.30 L189.45 255.54 L190.60 255.79 L191.74 256.03 L192.89 256.27 L194.04 256.51 L195.20 256.74 L196.35 256.98 L197.50 257.21 L198.65 257.44 L199.81 257.67 L200.96 257.90 L202.12 258.13 L203.27 258.35 L204.43 258.58 L205.58 258.80 L206.74 259.02 L207.90 259.24 L209.06 259.46 L210.22 259.67 L211.38 259.89 L212.54 260.10 L213.70 260.32 L214.86 260.53 L216.02 260.74 L217.18 260.95 L218.35 261.16 L219.51 261.37 L220.67 261.58 L221.83 261.78 L223.00 261.99 L224.16 262.19 L225.33 262.39 L226.49 262.59 L227.66 262.79 L228.82 262.99 L229.99 263.18 L231.16 263.38 L232.33 263.57 L233.49 263.76 L234.66 263.95 L235.83 264.14 L237.00 264.32 L238.18 264.50 L239.35 264.68 L240.52 264.86 L241.69 265.04 L242.87 265.21 L244.04 265.38 L245.22 265.55 L246.40 265.71 L247.57 265.88 L248.75 266.04 L249.93 266.20 L251.11 266.35 L252.29 266.51 L253.47 266.66 L254.65 266.82 L255.83 266.97 L257.01 267.11 L258.19 267.26 L259.37 267.40 L260.55 267.54 L261.74 267.68 L262.92 267.82 L264.11 267.96 L265.29 268.09 L266.48 268.22 L267.66 268.35 L268.85 268.48 L270.00 268.60" stroke="#000000" stroke-dasharray="11.6 3.87 1.93 3.87" stroke-dashoffset="20.02"/>
<path d="M21.50 209.20 L22.58 209.55 L23.67 209.91 L24.75 210.26 L25.84 210.61 L26.93 210.96 L28.02 211.31 L29.11 211.65 L30.20 212.00 L31.29 212.34 L32.38 212.69 L33.47 213.03 L34.56 213.37 L35.66 213.71 L36.75 214.05 L37.85 214.38 L38.95 214.72 L40.05 215.05 L41.14 215.38 L42.24 215.71 L43.35 216.04 L44.45 216.37 L45.55 216.69 L46.66 217.02 L47.76 217.34 L48.87 217.66 L49.98 217.98 L51.09 218.30 L52.20 218.61 L53.31 218.92 L54.42 219.23 L55.53 219.54 L56.65 219.85 L57.76 220.16 L58.88 220.46 L60.00 220.77 L61.11 221.07 L62.23 221.37 L63.35 221.67 L64.47 221.97 L65.59 222.26 L66.71 222.56 L67.84 222.85 L68.96 223.15 L70.08 223.44 L71.21 223.74 L72.33 224.03 L73.45 224.32 L74.58 224.61 L75.70 224.90 L76.83 225.19 L77.95 225.48 L79.08 225.77 L80.20 226.06 L81.33 226.35 L82.46 226.64 L83.58 226.93 L84.71 227.22 L85.83 227.51 L86.96 227.80 L88.08 228.09 L89.21 228.37 L90.34 228.66 L91.46 228.94 L92.59 229.23 L93.72 229.51 L94.85 229.80 L95.98 230.08 L97.11 230.36 L98.24 230.64 L99.37 230.92 L100.50 231.20 L101.63 231.48 L102.76 231.76 L103.89 232.04 L105.02 232.32 L106.15 232.60 L107.28 232.88 L108.41 233.16 L109.54 233.44 L110.67 233.72 L111.80 234.00 L112.93 234.29 L114.06 234.57 L115.19 234.85 L116.32 235.14 L117.45 235.42 L118.58 235.71 L119.71 235.99 L120.83 236.28 L121.96 236.57 L123.08 236.86 L124.21 237.15 L125.34 237.44 L126.46 237.73 L127.58 238.02 L128.71 238.31 L129.83 238.61 L130.96 238.90 L132.08 239.19 L133.20 239.49 L134.33 239.78 L135.45 240.08 L136.57 240.37 L137.69 240.67 L138.82 240.96 L139.94 241.26 L141.06 241.56 L142.18 241.85 L143.30 242.15 L144.42 242.46 L145.54 242.76 L146.65 243.07 L147.77 243.37 L148.88 243.68 L150.00 243.99 L151.11 244.30 L152.22 244.62 L153.34 244.93 L154.45 245.24 L155.56 245.55 L156.67 245.86 L157.79 246.18 L158.90 246.49 L160.01 246.80 L161.13 247.10 L162.24 247.41 L163.36 247.72 L164.48 248.02 L165.60 248.32 L166.71 248.62 L167.84 248.91 L168.96 249.21 L170.08 249.49 L171.21 249.78 L172.34 250.06 L173.47 250.34 L174.60 250.61 L175.74 250.88 L176.88 251.15 L178.01 251.41 L179.15 251.67 L180.29 251.93 L181.43 252.19 L182.58 252.45 L183.72 252.70 L184.86 252.95 L186.01 253.20 L187.15 253.45 L188.30 253.70 L189.45 253.94 L190.60 254.19 L191.74 254.43 L192.89 254.67 L194.04 254.91 L195.20 255.14 L196.35 255.38 L197.50 255.61 L198.65 255.84 L199.81 256.07 L200.96 256.30 L202.12 256.53 L203.27 256.75 L204.43 256.98 L205.58 257.20 L206.74 257.42 L207.90 257.64 L209.06 257.86 L210.22 258.07 L211.38 258.29 L212.54 258.50 L213.70 258.72 L214.86 258.93 L216.02 259.14 L217.18 259.35 L218.35 259.56 L219.51 259.77 L220.67 259.98 L221.83 260.18 L223.00 260.39 L224.16 260.59 L225.33 260.79 L226.49 260.99 L227.66 261.19 L228.82 261.39 L229.99 261.58 L231.16 261.78 L232.33 261.97 L233.49 262.16 L234.66 262.35 L235.83 262.54 L237.00 262.72 L238.18 262.90 L239.35 263.08 L240.52 263.26 L241.69 263.44 L242.87 263.61 L244.04 263.78 L245.22 263.95 L246.40 264.11 L247.57 264.28 L248.75 264.44 L249.93 264.60 L251.11 264.75 L252.29 264.91 L253.47 265.06 L254.65 265.22 L255.83 265.37 L257.01 265.51 L258.19 265.66 L259.37 265.80 L260.55 265.94 L261.74 266.08 L262.92 266.22 L264.11 266.36 L265.29 266.49 L266.48 266.62 L267.66 266.75 L268.85 266.88 L270.00 267.00" stroke="#ffff00" stroke-dasharray="11.6 3.87 1.93 3.87" stroke-dashoffset="20.02"/>
<path d="M21.30 209.20 L270.00 209.20" stroke="#ff0000"/>
</g>
<clipPath id="clipMa"><rect x="304.2" y="18.9" width="243" height="173.2"/></clipPath>
<g clip-path="url(#clipMa)" fill="none" stroke-width="3.1" stroke-linejoin="round">
<path d="M305.00 172.10 L546.50 171.30" stroke="#ffa500" stroke-dasharray="3.93 5.9"/>
<path d="M305.00 173.70 L546.50 172.90" stroke="#00ff00" stroke-dasharray="3.93 5.9"/>
<path d="M305.00 156.90 L546.50 156.40" stroke="#ff00ff" stroke-dasharray="3.93 5.9"/>
<path d="M305.00 186.30 L546.50 185.40" stroke="#00ffff" stroke-dasharray="7.9 3.95"/>
<path d="M309.40 38.40 L310.60 38.60 L311.72 39.59 L312.15 40.20 L312.52 40.76 L312.89 41.30 L313.28 41.84 L313.70 42.43 L314.11 43.00 L314.50 43.57 L314.88 44.13 L315.24 44.69 L315.60 45.25 L315.95 45.79 L316.29 46.34 L316.63 46.88 L316.96 47.42 L317.28 47.96 L317.61 48.49 L317.93 49.02 L318.25 49.55 L318.57 50.08 L318.89 50.62 L319.20 51.15 L319.50 51.67 L319.80 52.20 L320.09 52.71 L320.38 53.22 L320.66 53.73 L320.93 54.24 L321.21 54.75 L321.49 55.25 L321.76 55.76 L322.04 56.26 L322.31 56.77 L322.59 57.27 L322.87 57.78 L323.16 58.29 L323.45 58.80 L323.75 59.31 L324.05 59.83 L324.36 60.35 L324.66 60.88 L324.96 61.40 L325.26 61.92 L325.56 62.44 L325.86 62.96 L326.17 63.48 L326.48 64.00 L326.80 64.52 L327.12 65.05 L327.45 65.58 L327.79 66.12 L328.15 66.66 L328.52 67.20 L328.91 67.75 L329.32 68.32 L329.74 68.88 L330.17 69.45 L330.61 70.03 L331.06 70.60 L331.52 71.18 L331.99 71.76 L332.47 72.34 L332.97 72.93 L333.47 73.52 L333.98 74.10 L334.50 74.70 L335.03 75.29 L335.57 75.88 L336.11 76.47 L336.66 77.07 L337.22 77.67 L337.78 78.26 L338.34 78.86 L338.91 79.45 L339.49 80.05 L340.08 80.64 L340.68 81.24 L341.30 81.83 L341.92 82.42 L342.56 83.01 L343.22 83.61 L343.88 84.20 L344.55 84.80 L345.22 85.39 L345.89 85.98 L346.57 86.57 L347.26 87.17 L347.95 87.75 L348.65 88.34 L349.35 88.93 L350.07 89.51 L350.80 90.09 L351.54 90.67 L352.30 91.24 L353.07 91.80 L353.86 92.36 L354.67 92.91 L355.50 93.46 L356.34 94.00 L357.20 94.53 L358.08 95.06 L358.96 95.58 L359.86 96.09 L360.77 96.60 L361.69 97.10 L362.62 97.59 L363.57 98.07 L364.53 98.55 L365.50 99.02 L366.48 99.47 L367.47 99.92 L368.47 100.36 L369.48 100.78 L370.51 101.20 L371.54 101.61 L372.59 102.01 L373.64 102.40 L374.69 102.78 L375.75 103.17 L376.82 103.54 L377.89 103.92 L378.96 104.29 L380.03 104.66 L381.10 105.03 L382.17 105.41 L383.23 105.79 L384.30 106.17 L385.36 106.56 L386.41 106.95 L387.47 107.34 L388.53 107.73 L389.58 108.12 L390.63 108.52 L391.69 108.91 L392.74 109.30 L393.79 109.70 L394.85 110.09 L395.90 110.47 L396.96 110.86 L398.02 111.24 L399.09 111.62 L400.15 112.00 L401.22 112.37 L402.29 112.73 L403.37 113.09 L404.45 113.45 L405.54 113.79 L406.63 114.13 L407.73 114.46 L408.83 114.78 L409.94 115.10 L411.05 115.41 L412.16 115.72 L413.28 116.02 L414.40 116.32 L415.52 116.62 L416.64 116.91 L417.77 117.20 L418.90 117.48 L420.03 117.76 L421.16 118.03 L422.29 118.31 L423.43 118.58 L424.56 118.85 L425.70 119.11 L426.84 119.37 L427.98 119.63 L429.12 119.89 L430.26 120.15 L431.41 120.40 L432.55 120.66 L433.69 120.91 L434.84 121.15 L435.99 121.40 L437.13 121.64 L438.28 121.88 L439.43 122.12 L440.58 122.36 L441.74 122.59 L442.89 122.82 L444.04 123.05 L445.20 123.28 L446.35 123.51 L447.51 123.73 L448.67 123.95 L449.82 124.17 L450.98 124.39 L452.14 124.61 L453.30 124.83 L454.46 125.04 L455.62 125.26 L456.78 125.47 L457.94 125.68 L459.10 125.89 L460.27 126.11 L461.43 126.31 L462.59 126.52 L463.75 126.73 L464.92 126.94 L466.08 127.14 L467.24 127.34 L468.41 127.55 L469.57 127.75 L470.74 127.94 L471.91 128.14 L473.07 128.33 L474.24 128.52 L475.41 128.71 L476.58 128.90 L477.75 129.08 L478.92 129.26 L480.10 129.44 L481.27 129.61 L482.45 129.79 L483.62 129.96 L484.79 130.13 L485.97 130.30 L487.15 130.46 L488.32 130.63 L489.50 130.79 L490.68 130.95 L491.86 131.11 L493.03 131.27 L494.21 131.43 L495.39 131.58 L496.57 131.73 L497.76 131.88 L498.94 132.03 L500.12 132.17 L501.30 132.31 L502.48 132.46 L503.67 132.59 L504.85 132.73 L506.04 132.86 L507.22 132.99 L508.41 133.12 L509.60 133.24 L510.78 133.36 L511.97 133.48 L513.16 133.60 L514.35 133.71 L515.54 133.83 L516.73 133.94 L517.92 134.05 L519.10 134.16 L520.29 134.28 L521.48 134.39 L522.67 134.50 L523.86 134.62 L525.05 134.73 L526.24 134.85 L527.43 134.97 L528.62 135.09 L529.80 135.21 L530.99 135.34 L532.18 135.46 L533.36 135.59 L534.55 135.71 L535.74 135.84 L536.92 135.96 L538.11 136.09 L539.30 136.22 L540.48 136.35 L541.67 136.47 L542.86 136.60 L544.04 136.73 L545.23 136.86 L546.41 136.99 L546.50 137.00" stroke="#000000" stroke-dasharray="11.85 3.95 1.98 3.95" stroke-dashoffset="20.07"/>
<path d="M305.80 190.00 L307.20 31.60 L307.48 32.11 L307.75 32.61 L308.03 33.12 L308.30 33.62 L308.57 34.12 L308.83 34.62 L309.10 35.12 L309.36 35.62 L309.62 36.12 L309.87 36.61 L310.12 37.10 L310.36 37.58 L310.61 38.07 L310.85 38.55 L311.10 39.03 L311.35 39.51 L311.60 40.00 L311.86 40.49 L312.12 40.99 L312.38 41.48 L312.65 41.98 L312.92 42.48 L313.18 42.98 L313.45 43.48 L313.73 43.98 L314.00 44.48 L314.27 44.98 L314.55 45.49 L314.83 45.99 L315.10 46.50 L315.38 47.00 L315.66 47.51 L315.94 48.02 L316.22 48.52 L316.50 49.03 L316.78 49.54 L317.06 50.05 L317.34 50.56 L317.62 51.06 L317.90 51.57 L318.18 52.08 L318.47 52.59 L318.75 53.10 L319.03 53.61 L319.32 54.12 L319.60 54.63 L319.89 55.14 L320.18 55.65 L320.46 56.16 L320.75 56.67 L321.04 57.19 L321.33 57.70 L321.62 58.21 L321.92 58.73 L322.21 59.24 L322.51 59.76 L322.80 60.28 L323.10 60.79 L323.40 61.31 L323.70 61.83 L324.00 62.35 L324.30 62.87 L324.60 63.39 L324.90 63.91 L325.21 64.43 L325.51 64.95 L325.82 65.47 L326.12 66.00 L326.43 66.52 L326.74 67.04 L327.05 67.57 L327.35 68.09 L327.66 68.62 L327.96 69.14 L328.25 69.66 L328.54 70.17 L328.83 70.69 L329.12 71.20 L329.41 71.71 L329.72 72.22 L330.03 72.74 L330.36 73.27 L330.72 73.80 L331.10 74.34 L331.52 74.91 L331.96 75.48 L332.40 76.05 L332.86 76.63 L333.33 77.21 L333.81 77.79 L334.30 78.37 L334.81 78.96 L335.33 79.55 L335.86 80.14 L336.40 80.73 L336.96 81.32 L337.53 81.91 L338.11 82.51 L338.70 83.10 L339.31 83.69 L339.93 84.29 L340.56 84.88 L341.19 85.48 L341.84 86.07 L342.50 86.66 L343.16 87.26 L343.84 87.85 L344.52 88.43 L345.22 89.02 L345.92 89.60 L346.64 90.19 L347.38 90.76 L348.12 91.34 L348.88 91.92 L349.64 92.49 L350.42 93.05 L351.20 93.62 L352.00 94.18 L352.80 94.74 L353.62 95.30 L354.44 95.85 L355.26 96.41 L356.09 96.96 L356.93 97.50 L357.78 98.05 L358.63 98.59 L359.49 99.12 L360.36 99.66 L361.23 100.18 L362.12 100.71 L363.01 101.22 L363.92 101.74 L364.83 102.24 L365.75 102.74 L366.69 103.23 L367.63 103.72 L368.58 104.20 L369.55 104.67 L370.51 105.14 L371.49 105.61 L372.47 106.07 L373.46 106.52 L374.45 106.97 L375.45 107.41 L376.46 107.85 L377.47 108.29 L378.48 108.72 L379.50 109.14 L380.52 109.57 L381.55 109.98 L382.58 110.40 L383.62 110.81 L384.66 111.22 L385.70 111.62 L386.74 112.03 L387.78 112.43 L388.83 112.83 L389.88 113.22 L390.93 113.62 L391.98 114.01 L393.04 114.40 L394.10 114.78 L395.16 115.16 L396.23 115.54 L397.29 115.91 L398.37 116.28 L399.44 116.64 L400.52 117.00 L401.60 117.36 L402.68 117.71 L403.77 118.06 L404.86 118.40 L405.96 118.73 L407.06 119.06 L408.16 119.39 L409.27 119.71 L410.37 120.02 L411.49 120.33 L412.60 120.64 L413.72 120.94 L414.84 121.23 L415.96 121.53 L417.09 121.82 L418.21 122.10 L419.34 122.38 L420.47 122.66 L421.60 122.94 L422.74 123.21 L423.87 123.48 L425.01 123.75 L426.15 124.01 L427.29 124.27 L428.43 124.53 L429.57 124.79 L430.71 125.05 L431.85 125.30 L433.00 125.55 L434.14 125.81 L435.29 126.06 L436.43 126.31 L437.58 126.56 L438.72 126.81 L439.87 127.05 L441.02 127.29 L442.17 127.54 L443.32 127.77 L444.47 128.01 L445.62 128.24 L446.77 128.47 L447.93 128.70 L449.08 128.92 L450.24 129.14 L451.40 129.35 L452.57 129.56 L453.73 129.76 L454.90 129.95 L456.06 130.15 L457.23 130.33 L458.40 130.51 L459.58 130.69 L460.75 130.86 L461.93 131.03 L463.10 131.19 L464.28 131.35 L465.46 131.51 L466.64 131.67 L467.82 131.82 L469.00 131.97 L470.18 132.12 L471.36 132.27 L472.54 132.41 L473.72 132.56 L474.91 132.71 L476.09 132.85 L477.27 133.00 L478.45 133.14 L479.63 133.29 L480.82 133.44 L482.00 133.59 L483.18 133.74 L484.36 133.89 L485.54 134.05 L486.72 134.20 L487.90 134.35 L489.08 134.50 L490.26 134.65 L491.44 134.80 L492.62 134.95 L493.80 135.10 L494.99 135.24 L496.17 135.39 L497.35 135.53 L498.53 135.66 L499.72 135.80 L500.90 135.92 L502.09 136.05 L503.28 136.17 L504.47 136.29 L505.66 136.40 L506.85 136.51 L508.04 136.61 L509.23 136.71 L510.42 136.81 L511.61 136.90 L512.80 136.99 L514.00 137.08 L515.19 137.17 L516.38 137.26 L517.58 137.34 L518.77 137.43 L519.97 137.52 L521.16 137.60 L522.35 137.69 L523.55 137.78 L524.74 137.87 L525.93 137.97 L527.12 138.07 L528.32 138.17 L529.51 138.27 L530.70 138.38 L531.89 138.48 L533.08 138.59 L534.27 138.70 L535.46 138.81 L536.65 138.92 L537.84 139.04 L539.03 139.15 L540.22 139.27 L541.40 139.39 L542.59 139.50 L543.78 139.62 L544.97 139.74 L546.16 139.86 L546.50 139.90" stroke="#ffff00" stroke-dasharray="11.85 3.95 1.98 3.95" stroke-dashoffset="0.95"/>
<path d="M305.00 190.20 L546.50 189.30" stroke="#ff0000"/>
</g>
<clipPath id="clipMb"><rect x="304.2" y="201" width="243" height="172.9"/></clipPath>
<g clip-path="url(#clipMb)" fill="none" stroke-width="3.1" stroke-linejoin="round">
<path d="M305.00 353.10 L306.20 353.09 L307.40 353.07 L308.60 353.06 L309.80 353.04 L311.00 353.03 L312.20 353.02 L313.40 353.00 L314.60 352.99 L315.80 352.98 L317.00 352.96 L318.20 352.95 L319.40 352.93 L320.60 352.92 L321.80 352.91 L323.00 352.89 L324.20 352.88 L325.40 352.87 L326.60 352.85 L327.80 352.84 L329.00 352.83 L330.20 352.81 L331.40 352.80 L332.60 352.79 L333.80 352.77 L335.00 352.76 L336.20 352.75 L337.40 352.73 L338.60 352.72 L339.80 352.71 L341.00 352.69 L342.20 352.68 L343.40 352.67 L344.59 352.66 L345.79 352.64 L346.99 352.63 L348.19 352.62 L349.39 352.60 L350.59 352.59 L351.79 352.58 L352.99 352.57 L354.19 352.55 L355.39 352.54 L356.59 352.53 L357.79 352.52 L358.99 352.50 L360.19 352.49 L361.39 352.48 L362.59 352.47 L363.79 352.46 L364.99 352.44 L366.19 352.43 L367.39 352.42 L368.59 352.41 L369.79 352.40 L370.99 352.38 L372.19 352.37 L373.39 352.36 L374.59 352.35 L375.79 352.34 L376.99 352.33 L378.19 352.32 L379.39 352.31 L380.59 352.29 L381.79 352.28 L382.99 352.27 L384.19 352.26 L385.39 352.25 L386.59 352.24 L387.79 352.23 L388.99 352.22 L390.19 352.21 L391.39 352.20 L392.59 352.19 L393.79 352.17 L394.99 352.16 L396.19 352.15 L397.39 352.14 L398.59 352.13 L399.79 352.12 L400.99 352.11 L402.19 352.10 L403.39 352.09 L404.59 352.08 L405.79 352.07 L406.99 352.06 L408.19 352.05 L409.39 352.03 L410.59 352.02 L411.79 352.01 L412.99 352.00 L414.19 351.99 L415.39 351.98 L416.59 351.97 L417.79 351.96 L418.99 351.95 L420.19 351.94 L421.39 351.93 L422.59 351.92 L423.79 351.91 L424.99 351.90 L426.19 351.89 L427.39 351.88 L428.59 351.87 L429.79 351.86 L430.99 351.85 L432.19 351.84 L433.39 351.83 L434.59 351.82 L435.79 351.81 L436.99 351.80 L438.19 351.79 L439.39 351.78 L440.59 351.77 L441.79 351.76 L442.99 351.75 L444.19 351.74 L445.39 351.73 L446.59 351.72 L447.79 351.71 L448.99 351.70 L450.19 351.69 L451.39 351.68 L452.59 351.67 L453.79 351.66 L454.99 351.65 L456.19 351.64 L457.39 351.63 L458.59 351.62 L459.79 351.61 L460.99 351.60 L462.19 351.59 L463.39 351.58 L464.59 351.57 L465.78 351.56 L466.98 351.55 L468.18 351.54 L469.38 351.53 L470.58 351.52 L471.78 351.51 L472.98 351.50 L474.18 351.49 L475.38 351.49 L476.58 351.48 L477.78 351.47 L478.98 351.46 L480.18 351.45 L481.38 351.44 L482.58 351.43 L483.78 351.42 L484.98 351.41 L486.18 351.40 L487.38 351.39 L488.58 351.39 L489.78 351.38 L490.98 351.37 L492.18 351.36 L493.38 351.35 L494.58 351.34 L495.78 351.33 L496.98 351.32 L498.18 351.32 L499.38 351.31 L500.58 351.30 L501.78 351.29 L502.98 351.28 L504.18 351.27 L505.38 351.26 L506.58 351.26 L507.78 351.25 L508.98 351.24 L510.18 351.23 L511.38 351.22 L512.58 351.21 L513.78 351.21 L514.98 351.20 L516.18 351.19 L517.38 351.18 L518.58 351.17 L519.78 351.17 L520.98 351.16 L522.18 351.15 L523.38 351.14 L524.58 351.14 L525.78 351.13 L526.98 351.12 L528.18 351.11 L529.38 351.10 L530.58 351.10 L531.78 351.09 L532.98 351.08 L534.18 351.07 L535.38 351.07 L536.58 351.06 L537.78 351.05 L538.98 351.04 L540.18 351.04 L541.38 351.03 L542.58 351.02 L543.78 351.02 L544.98 351.01 L546.18 351.00 L546.50 351.00" stroke="#ffa500" stroke-dasharray="3.93 5.9"/>
<path d="M305.00 354.80 L306.20 354.78 L307.40 354.77 L308.60 354.75 L309.80 354.74 L311.00 354.72 L312.20 354.70 L313.40 354.69 L314.60 354.67 L315.80 354.66 L317.00 354.64 L318.20 354.62 L319.40 354.61 L320.60 354.59 L321.80 354.58 L323.00 354.56 L324.20 354.54 L325.40 354.53 L326.60 354.51 L327.80 354.50 L329.00 354.48 L330.20 354.46 L331.40 354.45 L332.60 354.43 L333.79 354.42 L334.99 354.40 L336.19 354.38 L337.39 354.37 L338.59 354.35 L339.79 354.34 L340.99 354.32 L342.19 354.30 L343.39 354.29 L344.59 354.27 L345.79 354.26 L346.99 354.24 L348.19 354.22 L349.39 354.21 L350.59 354.19 L351.79 354.18 L352.99 354.16 L354.19 354.14 L355.39 354.13 L356.59 354.11 L357.79 354.10 L358.99 354.08 L360.19 354.06 L361.39 354.05 L362.59 354.03 L363.79 354.02 L364.99 354.00 L366.19 353.98 L367.39 353.97 L368.59 353.95 L369.79 353.94 L370.99 353.92 L372.19 353.90 L373.39 353.89 L374.59 353.87 L375.79 353.86 L376.99 353.84 L378.19 353.82 L379.39 353.81 L380.59 353.79 L381.79 353.78 L382.99 353.76 L384.19 353.74 L385.39 353.73 L386.59 353.71 L387.79 353.70 L388.99 353.68 L390.18 353.66 L391.38 353.65 L392.58 353.63 L393.78 353.62 L394.98 353.60 L396.18 353.59 L397.38 353.57 L398.58 353.55 L399.78 353.54 L400.98 353.52 L402.18 353.51 L403.38 353.49 L404.58 353.47 L405.78 353.46 L406.98 353.44 L408.18 353.43 L409.38 353.41 L410.58 353.39 L411.78 353.38 L412.98 353.36 L414.18 353.35 L415.38 353.33 L416.58 353.31 L417.78 353.30 L418.98 353.28 L420.18 353.27 L421.38 353.25 L422.58 353.24 L423.78 353.22 L424.98 353.20 L426.18 353.19 L427.38 353.17 L428.58 353.16 L429.78 353.14 L430.98 353.12 L432.18 353.11 L433.38 353.09 L434.58 353.08 L435.78 353.06 L436.98 353.04 L438.18 353.03 L439.38 353.01 L440.58 353.00 L441.78 352.98 L442.98 352.97 L444.18 352.95 L445.38 352.93 L446.57 352.92 L447.77 352.90 L448.97 352.89 L450.17 352.87 L451.37 352.85 L452.57 352.84 L453.77 352.82 L454.97 352.81 L456.17 352.79 L457.37 352.77 L458.57 352.76 L459.77 352.74 L460.97 352.73 L462.17 352.71 L463.37 352.70 L464.57 352.68 L465.77 352.66 L466.97 352.65 L468.17 352.63 L469.37 352.62 L470.57 352.60 L471.77 352.58 L472.97 352.57 L474.17 352.55 L475.37 352.54 L476.57 352.52 L477.77 352.51 L478.97 352.49 L480.17 352.47 L481.37 352.46 L482.57 352.44 L483.77 352.43 L484.97 352.41 L486.17 352.39 L487.37 352.38 L488.57 352.36 L489.77 352.35 L490.97 352.33 L492.17 352.32 L493.37 352.30 L494.57 352.28 L495.77 352.27 L496.97 352.25 L498.17 352.24 L499.37 352.22 L500.57 352.20 L501.77 352.19 L502.97 352.17 L504.16 352.16 L505.36 352.14 L506.56 352.13 L507.76 352.11 L508.96 352.09 L510.16 352.08 L511.36 352.06 L512.56 352.05 L513.76 352.03 L514.96 352.01 L516.16 352.00 L517.36 351.98 L518.56 351.97 L519.76 351.95 L520.96 351.94 L522.16 351.92 L523.36 351.90 L524.56 351.89 L525.76 351.87 L526.96 351.86 L528.16 351.84 L529.36 351.83 L530.56 351.81 L531.76 351.79 L532.96 351.78 L534.16 351.76 L535.36 351.75 L536.56 351.73 L537.76 351.71 L538.96 351.70 L540.16 351.68 L541.36 351.67 L542.56 351.65 L543.76 351.64 L544.96 351.62 L546.16 351.60 L546.50 351.60" stroke="#00ff00" stroke-dasharray="3.93 5.9"/>
<path d="M305.00 337.80 L306.20 337.80 L307.40 337.79 L308.60 337.79 L309.80 337.79 L311.00 337.79 L312.20 337.78 L313.40 337.78 L314.60 337.78 L315.80 337.77 L317.00 337.77 L318.20 337.77 L319.40 337.77 L320.60 337.76 L321.80 337.76 L323.00 337.76 L324.20 337.76 L325.40 337.76 L326.60 337.75 L327.80 337.75 L329.00 337.75 L330.20 337.75 L331.40 337.75 L332.60 337.74 L333.80 337.74 L335.00 337.74 L336.20 337.74 L337.40 337.74 L338.60 337.74 L339.80 337.73 L341.00 337.73 L342.20 337.73 L343.40 337.73 L344.60 337.73 L345.80 337.73 L347.00 337.73 L348.20 337.72 L349.40 337.72 L350.60 337.72 L351.80 337.72 L353.00 337.72 L354.20 337.72 L355.40 337.72 L356.60 337.72 L357.80 337.72 L359.00 337.71 L360.20 337.71 L361.40 337.71 L362.60 337.71 L363.80 337.71 L365.00 337.71 L366.20 337.71 L367.40 337.71 L368.60 337.71 L369.80 337.71 L371.00 337.71 L372.20 337.71 L373.40 337.71 L374.60 337.71 L375.80 337.71 L377.00 337.71 L378.20 337.70 L379.40 337.70 L380.60 337.70 L381.80 337.70 L383.00 337.70 L384.20 337.70 L385.40 337.70 L386.60 337.70 L387.80 337.70 L389.00 337.70 L390.20 337.70 L391.40 337.70 L392.60 337.70 L393.80 337.70 L395.00 337.70 L396.20 337.70 L397.40 337.70 L398.60 337.70 L399.80 337.70 L401.00 337.70 L402.20 337.70 L403.40 337.70 L404.60 337.70 L405.80 337.70 L407.00 337.70 L408.20 337.70 L409.40 337.70 L410.60 337.70 L411.80 337.70 L413.00 337.70 L414.20 337.70 L415.40 337.70 L416.60 337.70 L417.80 337.70 L419.00 337.70 L420.20 337.70 L421.40 337.70 L422.60 337.70 L423.80 337.70 L425.00 337.70 L426.20 337.70 L427.40 337.70 L428.60 337.71 L429.80 337.71 L431.00 337.71 L432.20 337.71 L433.40 337.72 L434.60 337.72 L435.80 337.72 L437.00 337.72 L438.20 337.73 L439.40 337.73 L440.60 337.74 L441.80 337.74 L443.00 337.74 L444.20 337.75 L445.40 337.75 L446.60 337.76 L447.80 337.76 L449.00 337.77 L450.20 337.78 L451.40 337.78 L452.60 337.79 L453.80 337.79 L455.00 337.80 L456.20 337.81 L457.40 337.81 L458.60 337.82 L459.80 337.83 L461.00 337.83 L462.20 337.84 L463.40 337.85 L464.60 337.86 L465.80 337.87 L467.00 337.87 L468.20 337.88 L469.40 337.89 L470.60 337.90 L471.80 337.91 L473.00 337.92 L474.20 337.93 L475.40 337.94 L476.60 337.95 L477.80 337.96 L479.00 337.97 L480.20 337.98 L481.40 337.99 L482.60 338.00 L483.80 338.01 L485.00 338.02 L486.20 338.03 L487.40 338.04 L488.60 338.05 L489.80 338.06 L491.00 338.07 L492.20 338.08 L493.40 338.10 L494.60 338.11 L495.80 338.12 L497.00 338.13 L498.20 338.14 L499.40 338.16 L500.60 338.17 L501.80 338.18 L503.00 338.19 L504.20 338.21 L505.40 338.22 L506.60 338.23 L507.80 338.24 L509.00 338.26 L510.20 338.27 L511.40 338.28 L512.60 338.30 L513.79 338.31 L514.99 338.32 L516.19 338.34 L517.39 338.35 L518.59 338.36 L519.79 338.38 L520.99 338.39 L522.19 338.41 L523.39 338.42 L524.59 338.43 L525.79 338.45 L526.99 338.46 L528.19 338.48 L529.39 338.49 L530.59 338.50 L531.79 338.52 L532.99 338.53 L534.19 338.55 L535.39 338.56 L536.59 338.58 L537.79 338.59 L538.99 338.61 L540.19 338.62 L541.39 338.64 L542.59 338.65 L543.79 338.67 L544.99 338.68 L546.19 338.70 L546.50 338.70" stroke="#ff00ff" stroke-dasharray="3.93 5.9"/>
<path d="M305.50 371.50 L305.73 371.03 L305.97 370.57 L306.24 370.10 L306.57 369.58 L306.93 369.04 L307.32 368.51 L307.75 367.98 L308.29 367.48 L309.07 367.01 L310.00 366.56 L311.02 366.17 L312.09 365.83 L313.19 365.51 L314.30 365.18 L315.40 364.85 L316.50 364.53 L317.61 364.22 L318.74 363.94 L319.87 363.69 L321.02 363.48 L322.19 363.29 L323.36 363.11 L324.54 362.94 L325.71 362.78 L326.89 362.64 L328.08 362.50 L329.26 362.36 L330.45 362.24 L331.63 362.12 L332.82 362.00 L334.01 361.88 L335.20 361.76 L336.39 361.65 L337.58 361.53 L338.77 361.43 L339.96 361.32 L341.15 361.22 L342.34 361.12 L343.53 361.02 L344.72 360.93 L345.91 360.83 L347.11 360.74 L348.30 360.65 L349.49 360.56 L350.69 360.47 L351.88 360.38 L353.07 360.29 L354.27 360.21 L355.46 360.12 L356.65 360.03 L357.85 359.94 L359.04 359.86 L360.24 359.77 L361.43 359.69 L362.62 359.61 L363.82 359.53 L365.01 359.44 L366.21 359.36 L367.40 359.28 L368.60 359.21 L369.79 359.13 L370.99 359.05 L372.18 358.98 L373.38 358.90 L374.57 358.83 L375.77 358.75 L376.96 358.68 L378.16 358.60 L379.35 358.53 L380.55 358.46 L381.75 358.39 L382.94 358.32 L384.14 358.25 L385.33 358.18 L386.53 358.11 L387.72 358.04 L388.92 357.97 L390.12 357.90 L391.31 357.83 L392.51 357.76 L393.70 357.70 L394.90 357.63 L396.10 357.56 L397.29 357.50 L398.49 357.43 L399.69 357.37 L400.88 357.31 L402.08 357.24 L403.28 357.18 L404.47 357.12 L405.67 357.06 L406.87 357.00 L408.06 356.94 L409.26 356.88 L410.46 356.82 L411.66 356.77 L412.85 356.71 L414.05 356.65 L415.25 356.60 L416.45 356.54 L417.64 356.49 L418.84 356.44 L420.04 356.39 L421.24 356.34 L422.43 356.29 L423.63 356.24 L424.83 356.20 L426.03 356.16 L427.23 356.11 L428.43 356.07 L429.63 356.03 L430.82 355.99 L432.02 355.95 L433.22 355.91 L434.42 355.87 L435.62 355.84 L436.82 355.80 L438.02 355.76 L439.22 355.73 L440.41 355.69 L441.61 355.66 L442.81 355.62 L444.01 355.59 L445.21 355.55 L446.41 355.52 L447.61 355.49 L448.81 355.45 L450.01 355.42 L451.21 355.39 L452.40 355.36 L453.60 355.33 L454.80 355.29 L456.00 355.26 L457.20 355.23 L458.40 355.20 L459.60 355.17 L460.80 355.13 L462.00 355.10 L463.20 355.07 L464.40 355.04 L465.60 355.01 L466.79 354.97 L467.99 354.94 L469.19 354.91 L470.39 354.88 L471.59 354.84 L472.79 354.81 L473.99 354.78 L475.19 354.74 L476.39 354.71 L477.59 354.67 L478.79 354.64 L479.98 354.60 L481.18 354.56 L482.38 354.53 L483.58 354.49 L484.78 354.46 L485.98 354.42 L487.18 354.38 L488.38 354.35 L489.58 354.31 L490.77 354.27 L491.97 354.24 L493.17 354.20 L494.37 354.16 L495.57 354.12 L496.77 354.09 L497.97 354.05 L499.17 354.01 L500.37 353.98 L501.56 353.94 L502.76 353.90 L503.96 353.86 L505.16 353.83 L506.36 353.79 L507.56 353.75 L508.76 353.71 L509.96 353.68 L511.15 353.64 L512.35 353.60 L513.55 353.56 L514.75 353.53 L515.95 353.49 L517.15 353.45 L518.35 353.41 L519.55 353.37 L520.74 353.34 L521.94 353.30 L523.14 353.26 L524.34 353.22 L525.54 353.18 L526.74 353.14 L527.94 353.11 L529.14 353.07 L530.34 353.03 L531.53 352.99 L532.73 352.95 L533.93 352.91 L535.13 352.87 L536.33 352.83 L537.53 352.79 L538.73 352.76 L539.92 352.72 L541.12 352.68 L542.32 352.64 L543.52 352.60 L544.72 352.56 L545.92 352.52 L546.50 352.50" stroke="#0000ff" stroke-dasharray="7.9 3.95"/>
<path d="M305.50 371.00 L305.56 370.74 L305.62 370.48 L305.67 370.23 L305.73 369.97 L305.79 369.72 L305.85 369.45 L305.92 369.18 L305.99 368.91 L306.07 368.62 L306.17 368.31 L306.31 367.99 L306.53 367.54 L306.81 367.07 L307.14 366.58 L307.57 366.06 L308.12 365.53 L308.81 364.99 L309.60 364.47 L310.46 363.97 L311.40 363.51 L312.40 363.08 L313.43 362.68 L314.47 362.28 L315.53 361.91 L316.60 361.55 L317.69 361.21 L318.79 360.90 L319.91 360.62 L321.05 360.37 L322.20 360.14 L323.36 359.92 L324.52 359.72 L325.68 359.53 L326.85 359.35 L328.03 359.17 L329.20 359.01 L330.38 358.85 L331.56 358.70 L332.74 358.55 L333.92 358.41 L335.11 358.26 L336.29 358.12 L337.47 357.98 L338.66 357.85 L339.84 357.72 L341.03 357.59 L342.22 357.47 L343.40 357.35 L344.59 357.23 L345.78 357.11 L346.97 357.00 L348.16 356.89 L349.35 356.78 L350.54 356.67 L351.73 356.56 L352.92 356.45 L354.11 356.34 L355.30 356.24 L356.49 356.13 L357.68 356.02 L358.87 355.92 L360.06 355.81 L361.25 355.71 L362.44 355.60 L363.63 355.50 L364.82 355.40 L366.02 355.30 L367.21 355.20 L368.40 355.11 L369.59 355.01 L370.78 354.92 L371.98 354.83 L373.17 354.74 L374.36 354.65 L375.56 354.57 L376.75 354.49 L377.95 354.41 L379.14 354.33 L380.34 354.26 L381.53 354.18 L382.73 354.11 L383.92 354.03 L385.12 353.96 L386.31 353.89 L387.51 353.82 L388.71 353.75 L389.90 353.68 L391.10 353.62 L392.29 353.55 L393.49 353.48 L394.69 353.42 L395.88 353.36 L397.08 353.29 L398.28 353.23 L399.47 353.17 L400.67 353.11 L401.87 353.05 L403.06 352.99 L404.26 352.93 L405.46 352.87 L406.66 352.81 L407.85 352.75 L409.05 352.69 L410.25 352.63 L411.44 352.57 L412.64 352.51 L413.84 352.45 L415.04 352.40 L416.23 352.34 L417.43 352.28 L418.63 352.23 L419.82 352.18 L421.02 352.13 L422.22 352.08 L423.42 352.04 L424.62 352.01 L425.82 351.97 L427.02 351.94 L428.22 351.91 L429.41 351.88 L430.61 351.85 L431.81 351.82 L433.01 351.79 L434.21 351.77 L435.41 351.74 L436.61 351.72 L437.81 351.69 L439.01 351.67 L440.21 351.64 L441.41 351.62 L442.61 351.60 L443.81 351.58 L445.01 351.56 L446.21 351.53 L447.41 351.51 L448.61 351.49 L449.81 351.47 L451.01 351.45 L452.21 351.44 L453.41 351.42 L454.60 351.40 L455.80 351.38 L457.00 351.36 L458.20 351.34 L459.40 351.33 L460.60 351.31 L461.80 351.29 L463.00 351.27 L464.20 351.25 L465.40 351.24 L466.60 351.22 L467.80 351.20 L469.00 351.18 L470.20 351.16 L471.40 351.14 L472.60 351.13 L473.80 351.11 L475.00 351.09 L476.20 351.07 L477.40 351.05 L478.60 351.02 L479.80 351.00 L481.00 350.98 L482.20 350.96 L483.40 350.94 L484.60 350.92 L485.80 350.90 L487.00 350.87 L488.20 350.85 L489.40 350.83 L490.60 350.81 L491.79 350.79 L492.99 350.77 L494.19 350.74 L495.39 350.72 L496.59 350.70 L497.79 350.68 L498.99 350.66 L500.19 350.64 L501.39 350.61 L502.59 350.59 L503.79 350.57 L504.99 350.55 L506.19 350.53 L507.39 350.51 L508.59 350.48 L509.79 350.46 L510.99 350.44 L512.19 350.42 L513.39 350.40 L514.59 350.38 L515.79 350.35 L516.99 350.33 L518.19 350.31 L519.39 350.29 L520.59 350.27 L521.79 350.25 L522.98 350.22 L524.18 350.20 L525.38 350.18 L526.58 350.16 L527.78 350.14 L528.98 350.12 L530.18 350.09 L531.38 350.07 L532.58 350.05 L533.78 350.03 L534.98 350.01 L536.18 349.99 L537.38 349.96 L538.58 349.94 L539.78 349.92 L540.98 349.90 L542.18 349.88 L543.38 349.86 L544.58 349.83 L545.78 349.81 L546.50 349.80" stroke="#00ffff" stroke-dasharray="7.9 3.95"/>
<path d="M304.30 371.60 L304.35 371.12 L304.40 370.65 L304.45 370.16 L304.50 369.67 L304.55 369.17 L304.60 368.66 L304.65 368.14 L304.70 367.60 L304.75 367.04 L304.80 366.47 L304.85 365.87 L304.90 365.25 L304.95 364.62 L305.00 363.97 L305.05 363.31 L305.10 362.64 L305.15 361.96 L305.20 361.26 L305.25 360.57 L305.30 359.87 L305.35 359.16 L305.40 358.46 L305.45 357.75 L305.50 357.05 L305.55 356.35 L305.60 355.65 L305.65 354.97 L305.70 354.29 L305.75 353.63 L305.80 352.97 L305.85 352.33 L305.90 351.71 L305.95 351.10 L306.00 350.52 L306.05 349.95 L306.10 349.41 L306.15 348.89 L306.20 348.40 L306.25 347.93 L306.30 347.50 L306.35 347.08 L306.40 346.68 L306.45 346.27 L306.50 345.88 L306.55 345.49 L306.60 345.11 L306.65 344.73 L306.70 344.36 L306.75 343.99 L306.80 343.63 L306.85 343.28 L306.90 342.93 L306.95 342.59 L307.00 342.25 L307.05 341.92 L307.10 341.59 L307.15 341.27 L307.20 340.95 L307.25 340.63 L307.30 340.32 L307.35 340.02 L307.40 339.72 L307.45 339.42 L307.50 339.13 L307.55 338.84 L307.60 338.56 L307.65 338.28 L307.70 338.00 L307.75 337.73 L307.80 337.46 L307.85 337.19 L307.90 336.93 L307.95 336.67 L308.00 336.41 L308.05 336.16 L308.10 335.90 L308.15 335.65 L308.20 335.41 L308.25 335.16 L308.30 334.92 L308.35 334.68 L308.40 334.44 L308.45 334.20 L308.50 333.96 L308.55 333.71 L308.61 333.47 L308.66 333.22 L308.72 332.97 L308.77 332.72 L308.83 332.46 L308.89 332.20 L308.95 331.94 L309.02 331.67 L309.09 331.40 L309.15 331.12 L309.22 330.84 L309.30 330.56 L309.37 330.27 L309.45 329.98 L309.53 329.68 L309.61 329.38 L309.70 329.07 L309.78 328.76 L309.87 328.45 L309.96 328.14 L310.06 327.82 L310.15 327.49 L310.25 327.17 L310.35 326.84 L310.44 326.51 L310.54 326.18 L310.64 325.85 L310.74 325.52 L310.84 325.19 L310.94 324.86 L311.04 324.53 L311.13 324.20 L311.23 323.88 L311.32 323.56 L311.41 323.24 L311.50 322.92 L311.58 322.61 L311.67 322.31 L311.75 322.00 L311.82 321.70 L311.90 321.41 L311.97 321.12 L312.05 320.83 L312.12 320.55 L312.19 320.27 L312.25 319.99 L312.32 319.71 L312.39 319.44 L312.45 319.17 L312.52 318.89 L312.58 318.62 L312.65 318.35 L312.71 318.08 L312.78 317.81 L312.84 317.54 L312.90 317.27 L312.97 317.00 L313.03 316.73 L313.10 316.46 L313.16 316.19 L313.23 315.91 L313.30 315.64 L313.37 315.36 L313.44 315.08 L313.51 314.80 L313.58 314.52 L313.65 314.23 L313.73 313.94 L313.81 313.65 L313.89 313.35 L313.97 313.05 L314.06 312.74 L314.15 312.42 L314.25 312.10 L314.35 311.77 L314.45 311.44 L314.55 311.11 L314.66 310.77 L314.77 310.42 L314.88 310.08 L314.99 309.73 L315.11 309.38 L315.23 309.02 L315.35 308.66 L315.47 308.29 L315.60 307.93 L315.73 307.56 L315.86 307.18 L316.00 306.81 L316.13 306.43 L316.27 306.05 L316.41 305.67 L316.55 305.28 L316.69 304.90 L316.83 304.51 L316.97 304.12 L317.11 303.73 L317.26 303.35 L317.40 302.96 L317.54 302.57 L317.68 302.19 L317.82 301.80 L317.96 301.42 L318.10 301.03 L318.25 300.64 L318.39 300.25 L318.54 299.86 L318.69 299.46 L318.84 299.07 L318.99 298.67 L319.14 298.27 L319.30 297.87 L319.45 297.47 L319.61 297.06 L319.76 296.66 L319.92 296.26 L320.08 295.85 L320.23 295.45 L320.39 295.05 L320.55 294.64 L320.70 294.24 L320.86 293.83 L321.01 293.43 L321.17 293.02 L321.32 292.62 L321.48 292.22 L321.63 291.82 L321.78 291.42 L321.93 291.02 L322.08 290.63 L322.23 290.23 L322.37 289.84 L322.51 289.45 L322.66 289.06 L322.80 288.67 L322.94 288.28 L323.09 287.89 L323.23 287.51 L323.37 287.12 L323.52 286.73 L323.66 286.34 L323.81 285.95 L323.96 285.55 L324.11 285.16 L324.26 284.76 L324.41 284.36 L324.57 283.96 L324.72 283.56 L324.89 283.15 L325.05 282.74 L325.22 282.32 L325.40 281.90 L325.58 281.48 L325.77 281.05 L325.96 280.61 L326.17 280.16 L326.37 279.71 L326.59 279.26 L326.80 278.80 L327.02 278.34 L327.25 277.87 L327.47 277.40 L327.69 276.94 L327.91 276.47 L328.12 276.01 L328.33 275.55 L328.54 275.09 L328.74 274.64 L328.93 274.20 L329.12 273.76 L329.30 273.32 L329.48 272.89 L329.66 272.46 L329.85 272.03 L330.03 271.61 L330.21 271.18 L330.39 270.74 L330.58 270.31 L330.77 269.88 L330.97 269.44 L331.17 268.99 L331.39 268.54 L331.61 268.08 L331.85 267.61 L332.09 267.13 L332.35 266.64 L332.61 266.15 L332.87 265.66 L333.14 265.16 L333.41 264.66 L333.70 264.16 L333.98 263.65 L334.28 263.13 L334.58 262.62 L334.89 262.10 L335.20 261.57 L335.52 261.05 L335.86 260.52 L336.19 259.98 L336.54 259.44 L336.90 258.90 L337.26 258.35 L337.64 257.80 L338.02 257.24 L338.41 256.68 L338.81 256.12 L339.22 255.56 L339.63 254.99 L340.06 254.43 L340.50 253.85 L340.94 253.28 L341.40 252.70 L341.88 252.12 L342.36 251.54 L342.86 250.96 L343.38 250.37 L343.91 249.79 L344.47 249.20 L345.04 248.60 L345.62 248.01 L346.23 247.42 L346.85 246.83 L347.48 246.24 L348.13 245.64 L348.79 245.05 L349.46 244.46 L350.14 243.87 L350.82 243.28 L351.52 242.69 L352.21 242.10 L352.91 241.51 L353.60 240.90 L354.28 240.30 L354.95 239.71 L355.62 239.12 L356.30 238.53 L357.00 237.95 L357.73 237.39 L358.50 236.85 L359.34 236.34 L360.26 235.86 L361.21 235.38 L362.17 234.90 L363.13 234.43 L364.11 233.98 L365.11 233.55 L366.14 233.14 L367.19 232.77 L368.27 232.45 L369.39 232.18 L370.54 231.99 L371.72 231.89 L372.92 231.82 L374.12 231.76 L375.31 231.71 L376.51 231.67 L377.71 231.64 L378.91 231.61 L380.11 231.60 L381.31 231.61 L382.51 231.69 L383.70 231.83 L384.88 232.01 L386.04 232.22 L387.20 232.44 L388.36 232.67 L389.50 232.96 L390.62 233.29 L391.70 233.68 L392.76 234.09 L393.78 234.52 L394.79 234.97 L395.78 235.44 L396.76 235.91 L397.74 236.38 L398.71 236.85 L399.68 237.31 L400.66 237.77 L401.66 238.21 L402.66 238.66 L403.65 239.12 L404.65 239.58 L405.63 240.04 L406.61 240.50 L407.59 240.97 L408.57 241.44 L409.54 241.92 L410.50 242.39 L411.47 242.87 L412.43 243.35 L413.39 243.84 L414.34 244.32 L415.30 244.80 L416.25 245.29 L417.21 245.77 L418.16 246.26 L419.10 246.75 L420.05 247.25 L420.99 247.75 L421.92 248.25 L422.84 248.76 L423.76 249.28 L424.66 249.80 L425.56 250.33 L426.44 250.87 L427.31 251.41 L428.17 251.96 L429.02 252.51 L429.86 253.06 L430.69 253.62 L431.52 254.18 L432.34 254.74 L433.15 255.30 L433.96 255.87 L434.76 256.43 L435.57 257.00 L436.37 257.56 L437.17 258.13 L437.97 258.70 L438.76 259.26 L439.56 259.83 L440.37 260.39 L441.17 260.95 L441.98 261.51 L442.79 262.07 L443.61 262.63 L444.43 263.18 L445.26 263.73 L446.10 264.28 L446.95 264.82 L447.80 265.37 L448.65 265.91 L449.50 266.45 L450.36 267.00 L451.21 267.54 L452.07 268.08 L452.93 268.62 L453.78 269.16 L454.64 269.70 L455.51 270.24 L456.37 270.78 L457.23 271.32 L458.10 271.85 L458.97 272.39 L459.84 272.92 L460.72 273.45 L461.59 273.99 L462.47 274.51 L463.35 275.04 L464.24 275.57 L465.13 276.09 L466.02 276.61 L466.91 277.14 L467.81 277.65 L468.72 278.17 L469.62 278.68 L470.53 279.19 L471.45 279.70 L472.37 280.20 L473.30 280.71 L474.22 281.21 L475.16 281.70 L476.09 282.20 L477.03 282.70 L477.97 283.19 L478.91 283.68 L479.85 284.17 L480.80 284.66 L481.75 285.15 L482.70 285.63 L483.66 286.11 L484.61 286.59 L485.57 287.07 L486.54 287.54 L487.51 288.02 L488.48 288.49 L489.45 288.95 L490.43 289.42 L491.41 289.88 L492.39 290.34 L493.38 290.79 L494.37 291.25 L495.36 291.70 L496.36 292.14 L497.36 292.59 L498.37 293.03 L499.38 293.46 L500.39 293.89 L501.41 294.33 L502.43 294.75 L503.45 295.18 L504.47 295.60 L505.49 296.03 L506.52 296.45 L507.55 296.86 L508.58 297.28 L509.62 297.69 L510.66 298.10 L511.70 298.50 L512.74 298.90 L513.79 299.30 L514.84 299.70 L515.89 300.09 L516.94 300.48 L518.00 300.86 L519.06 301.24 L520.13 301.62 L521.20 301.99 L522.27 302.36 L523.34 302.73 L524.42 303.09 L525.50 303.44 L526.59 303.79 L527.67 304.14 L528.77 304.48 L529.86 304.82 L530.95 305.16 L532.05 305.49 L533.15 305.82 L534.26 306.14 L535.36 306.46 L536.47 306.78 L537.58 307.09 L538.70 307.39 L539.81 307.70 L540.93 308.00 L542.05 308.29 L543.18 308.58 L544.31 308.86 L545.44 309.14 L546.50 309.40" stroke="#000000" stroke-dasharray="11.85 3.95 1.98 3.95" stroke-dashoffset="1.35"/>
<path d="M305.20 372.00 L305.25 371.52 L305.30 371.05 L305.35 370.56 L305.40 370.07 L305.45 369.57 L305.50 369.06 L305.55 368.54 L305.60 368.00 L305.65 367.44 L305.70 366.87 L305.75 366.27 L305.80 365.65 L305.85 365.02 L305.90 364.37 L305.95 363.71 L306.00 363.04 L306.05 362.36 L306.10 361.66 L306.15 360.97 L306.20 360.27 L306.25 359.56 L306.30 358.86 L306.35 358.15 L306.40 357.45 L306.45 356.75 L306.50 356.05 L306.55 355.37 L306.60 354.69 L306.65 354.03 L306.70 353.37 L306.75 352.73 L306.80 352.11 L306.85 351.50 L306.90 350.92 L306.95 350.35 L307.00 349.81 L307.05 349.29 L307.10 348.80 L307.15 348.33 L307.20 347.90 L307.25 347.48 L307.30 347.08 L307.35 346.67 L307.40 346.28 L307.45 345.89 L307.50 345.51 L307.55 345.13 L307.60 344.76 L307.65 344.39 L307.70 344.03 L307.75 343.68 L307.80 343.33 L307.85 342.99 L307.90 342.65 L307.95 342.32 L308.00 341.99 L308.05 341.67 L308.10 341.35 L308.15 341.03 L308.20 340.72 L308.25 340.42 L308.30 340.12 L308.35 339.82 L308.40 339.53 L308.45 339.24 L308.50 338.96 L308.55 338.68 L308.60 338.40 L308.65 338.13 L308.70 337.86 L308.75 337.59 L308.80 337.33 L308.85 337.07 L308.90 336.81 L308.95 336.56 L309.00 336.30 L309.05 336.05 L309.10 335.81 L309.15 335.56 L309.20 335.32 L309.25 335.08 L309.30 334.84 L309.35 334.60 L309.40 334.36 L309.45 334.11 L309.51 333.87 L309.56 333.62 L309.62 333.37 L309.67 333.12 L309.73 332.86 L309.79 332.60 L309.85 332.34 L309.92 332.07 L309.99 331.80 L310.05 331.52 L310.12 331.24 L310.20 330.96 L310.27 330.67 L310.35 330.38 L310.43 330.08 L310.51 329.78 L310.60 329.47 L310.68 329.16 L310.77 328.85 L310.86 328.54 L310.96 328.22 L311.05 327.89 L311.15 327.57 L311.25 327.24 L311.34 326.91 L311.44 326.58 L311.54 326.25 L311.64 325.92 L311.74 325.59 L311.84 325.26 L311.94 324.93 L312.03 324.60 L312.13 324.28 L312.22 323.96 L312.31 323.64 L312.40 323.32 L312.48 323.01 L312.57 322.71 L312.65 322.40 L312.72 322.10 L312.80 321.81 L312.87 321.52 L312.95 321.23 L313.02 320.95 L313.09 320.67 L313.15 320.39 L313.22 320.11 L313.29 319.84 L313.35 319.57 L313.42 319.29 L313.48 319.02 L313.55 318.75 L313.61 318.48 L313.68 318.21 L313.74 317.94 L313.80 317.67 L313.87 317.40 L313.93 317.13 L314.00 316.86 L314.06 316.59 L314.13 316.31 L314.20 316.04 L314.27 315.76 L314.34 315.48 L314.41 315.20 L314.48 314.92 L314.55 314.63 L314.63 314.34 L314.71 314.05 L314.79 313.75 L314.87 313.45 L314.96 313.14 L315.05 312.82 L315.15 312.50 L315.25 312.17 L315.35 311.84 L315.45 311.51 L315.56 311.17 L315.67 310.82 L315.78 310.48 L315.89 310.13 L316.01 309.78 L316.13 309.42 L316.25 309.06 L316.37 308.69 L316.50 308.33 L316.63 307.96 L316.76 307.58 L316.90 307.21 L317.03 306.83 L317.17 306.45 L317.31 306.07 L317.45 305.68 L317.59 305.30 L317.73 304.91 L317.87 304.52 L318.01 304.13 L318.16 303.75 L318.30 303.36 L318.44 302.97 L318.58 302.59 L318.72 302.20 L318.86 301.82 L319.00 301.43 L319.15 301.04 L319.29 300.65 L319.44 300.26 L319.59 299.86 L319.74 299.47 L319.89 299.07 L320.04 298.67 L320.20 298.27 L320.35 297.87 L320.51 297.46 L320.66 297.06 L320.82 296.66 L320.98 296.25 L321.13 295.85 L321.29 295.45 L321.45 295.04 L321.60 294.64 L321.76 294.23 L321.91 293.83 L322.07 293.42 L322.22 293.02 L322.38 292.62 L322.53 292.22 L322.68 291.82 L322.83 291.42 L322.98 291.03 L323.13 290.63 L323.27 290.24 L323.41 289.85 L323.56 289.46 L323.70 289.07 L323.84 288.68 L323.99 288.29 L324.13 287.91 L324.27 287.52 L324.42 287.13 L324.56 286.74 L324.71 286.35 L324.86 285.95 L325.01 285.56 L325.16 285.16 L325.31 284.76 L325.47 284.36 L325.62 283.96 L325.79 283.55 L325.95 283.14 L326.12 282.72 L326.30 282.30 L326.48 281.88 L326.67 281.45 L326.86 281.01 L327.07 280.56 L327.27 280.11 L327.49 279.66 L327.70 279.20 L327.92 278.74 L328.15 278.27 L328.37 277.80 L328.59 277.34 L328.81 276.87 L329.02 276.41 L329.23 275.95 L329.44 275.49 L329.64 275.04 L329.83 274.60 L330.02 274.16 L330.20 273.72 L330.38 273.29 L330.56 272.86 L330.75 272.43 L330.93 272.01 L331.11 271.58 L331.29 271.14 L331.48 270.71 L331.67 270.28 L331.87 269.84 L332.07 269.39 L332.29 268.94 L332.51 268.48 L332.75 268.01 L333.00 267.53 L333.25 267.04 L333.51 266.55 L333.78 266.05 L334.05 265.55 L334.33 265.05 L334.62 264.54 L334.92 264.03 L335.22 263.51 L335.52 262.99 L335.84 262.47 L336.16 261.94 L336.48 261.41 L336.82 260.88 L337.15 260.34 L337.50 259.80 L337.84 259.26 L338.20 258.72 L338.55 258.17 L338.91 257.62 L339.26 257.07 L339.62 256.53 L339.99 255.98 L340.35 255.43 L340.72 254.88 L341.10 254.32 L341.49 253.77 L341.88 253.21 L342.29 252.65 L342.71 252.08 L343.14 251.52 L343.60 250.95 L344.08 250.37 L344.58 249.79 L345.12 249.21 L345.68 248.62 L346.25 248.03 L346.85 247.44 L347.47 246.85 L348.11 246.26 L348.76 245.67 L349.43 245.08 L350.11 244.49 L350.81 243.90 L351.50 243.31 L352.21 242.72 L352.91 242.13 L353.61 241.53 L354.30 240.94 L354.98 240.34 L355.66 239.75 L356.34 239.16 L357.04 238.58 L357.76 238.00 L358.50 237.44 L359.29 236.90 L360.13 236.38 L361.04 235.87 L361.95 235.36 L362.87 234.86 L363.80 234.37 L364.75 233.89 L365.72 233.44 L366.71 233.00 L367.73 232.60 L368.78 232.23 L369.88 231.92 L371.00 231.68 L372.17 231.51 L373.34 231.35 L374.53 231.20 L375.71 231.07 L376.90 230.96 L378.09 230.88 L379.28 230.82 L380.48 230.80 L381.68 230.81 L382.88 230.85 L384.08 230.91 L385.28 230.98 L386.47 231.07 L387.66 231.17 L388.85 231.29 L390.04 231.47 L391.20 231.69 L392.35 231.96 L393.48 232.26 L394.59 232.59 L395.69 232.94 L396.77 233.30 L397.85 233.67 L398.92 234.04 L399.99 234.41 L401.06 234.78 L402.13 235.16 L403.20 235.55 L404.24 235.96 L405.27 236.39 L406.29 236.83 L407.30 237.28 L408.29 237.73 L409.28 238.19 L410.27 238.65 L411.25 239.11 L412.24 239.57 L413.22 240.03 L414.21 240.48 L415.21 240.93 L416.22 241.37 L417.22 241.80 L418.24 242.24 L419.25 242.68 L420.26 243.12 L421.26 243.57 L422.25 244.03 L423.24 244.50 L424.20 244.99 L425.16 245.48 L426.09 246.00 L427.00 246.52 L427.89 247.05 L428.77 247.59 L429.63 248.14 L430.48 248.69 L431.32 249.25 L432.15 249.81 L432.97 250.37 L433.78 250.94 L434.58 251.50 L435.38 252.07 L436.18 252.64 L436.97 253.21 L437.76 253.78 L438.55 254.35 L439.34 254.92 L440.13 255.48 L440.93 256.05 L441.72 256.61 L442.53 257.18 L443.33 257.73 L444.15 258.29 L444.97 258.84 L445.81 259.39 L446.65 259.93 L447.50 260.47 L448.36 261.01 L449.22 261.56 L450.08 262.10 L450.94 262.64 L451.80 263.17 L452.67 263.71 L453.53 264.25 L454.40 264.79 L455.27 265.32 L456.14 265.86 L457.01 266.39 L457.89 266.92 L458.76 267.45 L459.64 267.98 L460.52 268.51 L461.40 269.04 L462.29 269.57 L463.17 270.09 L464.06 270.62 L464.95 271.14 L465.85 271.66 L466.74 272.19 L467.64 272.70 L468.54 273.22 L469.44 273.74 L470.35 274.25 L471.26 274.77 L472.17 275.28 L473.08 275.79 L474.00 276.30 L474.91 276.81 L475.83 277.32 L476.75 277.83 L477.66 278.34 L478.58 278.85 L479.50 279.35 L480.42 279.86 L481.34 280.36 L482.26 280.87 L483.19 281.37 L484.12 281.87 L485.05 282.37 L485.98 282.87 L486.92 283.37 L487.86 283.86 L488.80 284.35 L489.74 284.84 L490.69 285.32 L491.65 285.80 L492.61 286.28 L493.57 286.75 L494.54 287.22 L495.52 287.69 L496.50 288.15 L497.48 288.60 L498.47 289.06 L499.47 289.50 L500.48 289.94 L501.49 290.37 L502.50 290.80 L503.52 291.23 L504.54 291.65 L505.57 292.07 L506.60 292.49 L507.64 292.90 L508.67 293.30 L509.72 293.71 L510.76 294.11 L511.81 294.51 L512.86 294.90 L513.91 295.29 L514.97 295.68 L516.02 296.07 L517.08 296.45 L518.15 296.83 L519.21 297.21 L520.27 297.59 L521.34 297.97 L522.41 298.34 L523.48 298.72 L524.55 299.09 L525.62 299.46 L526.69 299.83 L527.76 300.20 L528.83 300.57 L529.91 300.94 L530.98 301.30 L532.06 301.66 L533.14 302.02 L534.23 302.37 L535.31 302.72 L536.40 303.08 L537.48 303.42 L538.57 303.77 L539.66 304.11 L540.76 304.45 L541.85 304.79 L542.95 305.13 L544.04 305.46 L545.14 305.79 L546.24 306.12 L546.50 306.20" stroke="#ffff00" stroke-dasharray="11.85 3.95 1.98 3.95" stroke-dashoffset="1.35"/>
<path d="M305.00 372.30 L546.50 370.80" stroke="#ff0000"/>
</g>
<clipPath id="clipRa"><rect x="578.7" y="18.9" width="243.2" height="173.2"/></clipPath>
<g clip-path="url(#clipRa)" fill="none" stroke-width="3.1" stroke-linejoin="round">
<path d="M579.40 98.60 L580.60 98.61 L581.80 98.61 L583.00 98.62 L584.20 98.63 L585.40 98.64 L586.60 98.65 L587.80 98.65 L589.00 98.66 L590.20 98.67 L591.40 98.68 L592.60 98.68 L593.80 98.69 L595.00 98.70 L596.20 98.71 L597.40 98.71 L598.60 98.72 L599.80 98.73 L601.00 98.74 L602.20 98.74 L603.40 98.75 L604.60 98.76 L605.80 98.77 L607.00 98.77 L608.20 98.78 L609.40 98.79 L610.60 98.80 L611.80 98.81 L613.00 98.81 L614.20 98.82 L615.40 98.83 L616.60 98.84 L617.80 98.84 L619.00 98.85 L620.20 98.86 L621.40 98.87 L622.60 98.88 L623.80 98.88 L625.00 98.89 L626.20 98.90 L627.40 98.91 L628.60 98.92 L629.80 98.92 L631.00 98.93 L632.20 98.94 L633.40 98.95 L634.60 98.95 L635.80 98.96 L637.00 98.97 L638.20 98.98 L639.40 98.99 L640.60 98.99 L641.80 99.00 L643.00 99.01 L644.20 99.02 L645.40 99.03 L646.60 99.03 L647.80 99.04 L649.00 99.05 L650.20 99.06 L651.40 99.07 L652.60 99.07 L653.80 99.08 L655.00 99.09 L656.20 99.10 L657.40 99.11 L658.60 99.11 L659.80 99.12 L661.00 99.13 L662.20 99.14 L663.40 99.15 L664.60 99.16 L665.80 99.16 L667.00 99.17 L668.20 99.18 L669.40 99.19 L670.60 99.20 L671.80 99.20 L673.00 99.21 L674.20 99.22 L675.40 99.23 L676.60 99.24 L677.80 99.25 L679.00 99.25 L680.20 99.26 L681.40 99.27 L682.60 99.28 L683.80 99.29 L685.00 99.30 L686.20 99.30 L687.40 99.31 L688.60 99.32 L689.80 99.33 L691.00 99.34 L692.20 99.35 L693.40 99.35 L694.59 99.36 L695.79 99.37 L696.99 99.38 L698.19 99.39 L699.39 99.40 L700.59 99.40 L701.79 99.41 L702.99 99.42 L704.19 99.43 L705.39 99.44 L706.59 99.45 L707.79 99.45 L708.99 99.46 L710.19 99.47 L711.39 99.48 L712.59 99.49 L713.79 99.50 L714.99 99.51 L716.19 99.51 L717.39 99.52 L718.59 99.53 L719.79 99.54 L720.99 99.55 L722.19 99.56 L723.39 99.57 L724.59 99.57 L725.79 99.58 L726.99 99.59 L728.19 99.60 L729.39 99.61 L730.59 99.62 L731.79 99.63 L732.99 99.64 L734.19 99.64 L735.39 99.65 L736.59 99.66 L737.79 99.67 L738.99 99.68 L740.19 99.69 L741.39 99.70 L742.59 99.70 L743.79 99.71 L744.99 99.72 L746.19 99.73 L747.39 99.74 L748.59 99.75 L749.79 99.76 L750.99 99.77 L752.19 99.78 L753.39 99.78 L754.59 99.79 L755.79 99.80 L756.99 99.81 L758.19 99.82 L759.39 99.83 L760.59 99.84 L761.79 99.85 L762.99 99.86 L764.19 99.86 L765.39 99.87 L766.59 99.88 L767.79 99.89 L768.99 99.90 L770.19 99.91 L771.39 99.92 L772.59 99.93 L773.79 99.94 L774.99 99.95 L776.19 99.95 L777.39 99.96 L778.59 99.97 L779.79 99.98 L780.99 99.99 L782.19 100.00 L783.39 100.01 L784.59 100.02 L785.79 100.03 L786.99 100.04 L788.19 100.05 L789.39 100.05 L790.59 100.06 L791.79 100.07 L792.99 100.08 L794.19 100.09 L795.39 100.10 L796.59 100.11 L797.79 100.12 L798.99 100.13 L800.19 100.14 L801.39 100.15 L802.59 100.16 L803.79 100.16 L804.99 100.17 L806.19 100.18 L807.39 100.19 L808.59 100.20 L809.79 100.21 L810.99 100.22 L812.19 100.23 L813.39 100.24 L814.59 100.25 L815.79 100.26 L816.99 100.27 L818.19 100.28 L819.39 100.29 L820.59 100.30 L821.20 100.30" stroke="#ffa500" stroke-dasharray="3.93 5.9"/>
<path d="M579.40 93.60 L580.60 93.61 L581.80 93.62 L583.00 93.63 L584.20 93.63 L585.40 93.64 L586.60 93.65 L587.80 93.66 L589.00 93.67 L590.20 93.68 L591.40 93.69 L592.60 93.70 L593.80 93.71 L595.00 93.72 L596.20 93.72 L597.40 93.73 L598.60 93.74 L599.80 93.75 L601.00 93.76 L602.20 93.77 L603.40 93.78 L604.60 93.79 L605.80 93.80 L607.00 93.81 L608.20 93.82 L609.40 93.83 L610.60 93.84 L611.80 93.85 L613.00 93.86 L614.20 93.87 L615.40 93.88 L616.60 93.89 L617.80 93.90 L619.00 93.91 L620.20 93.92 L621.40 93.93 L622.60 93.94 L623.80 93.95 L625.00 93.96 L626.20 93.97 L627.40 93.98 L628.60 93.99 L629.80 94.00 L631.00 94.02 L632.20 94.03 L633.40 94.04 L634.60 94.05 L635.80 94.06 L637.00 94.07 L638.20 94.08 L639.40 94.09 L640.60 94.10 L641.80 94.11 L643.00 94.12 L644.20 94.14 L645.40 94.15 L646.60 94.16 L647.80 94.17 L649.00 94.18 L650.20 94.19 L651.39 94.20 L652.59 94.22 L653.79 94.23 L654.99 94.24 L656.19 94.25 L657.39 94.26 L658.59 94.27 L659.79 94.29 L660.99 94.30 L662.19 94.31 L663.39 94.32 L664.59 94.33 L665.79 94.34 L666.99 94.36 L668.19 94.37 L669.39 94.38 L670.59 94.39 L671.79 94.40 L672.99 94.42 L674.19 94.43 L675.39 94.44 L676.59 94.45 L677.79 94.47 L678.99 94.48 L680.19 94.49 L681.39 94.50 L682.59 94.52 L683.79 94.53 L684.99 94.54 L686.19 94.55 L687.39 94.57 L688.59 94.58 L689.79 94.59 L690.99 94.60 L692.19 94.62 L693.39 94.63 L694.59 94.64 L695.79 94.65 L696.99 94.67 L698.19 94.68 L699.39 94.69 L700.59 94.71 L701.79 94.72 L702.99 94.73 L704.19 94.75 L705.39 94.76 L706.59 94.77 L707.79 94.79 L708.99 94.80 L710.19 94.81 L711.39 94.83 L712.59 94.84 L713.79 94.85 L714.99 94.87 L716.19 94.88 L717.39 94.89 L718.59 94.91 L719.79 94.92 L720.99 94.94 L722.19 94.95 L723.39 94.96 L724.59 94.98 L725.79 94.99 L726.99 95.01 L728.19 95.02 L729.39 95.04 L730.59 95.05 L731.79 95.07 L732.99 95.08 L734.19 95.09 L735.39 95.11 L736.58 95.12 L737.78 95.14 L738.98 95.15 L740.18 95.17 L741.38 95.18 L742.58 95.20 L743.78 95.21 L744.98 95.23 L746.18 95.24 L747.38 95.26 L748.58 95.28 L749.78 95.29 L750.98 95.31 L752.18 95.32 L753.38 95.34 L754.58 95.35 L755.78 95.37 L756.98 95.38 L758.18 95.40 L759.38 95.42 L760.58 95.43 L761.78 95.45 L762.98 95.46 L764.18 95.48 L765.38 95.50 L766.58 95.51 L767.78 95.53 L768.98 95.55 L770.18 95.56 L771.38 95.58 L772.58 95.59 L773.78 95.61 L774.98 95.63 L776.18 95.64 L777.38 95.66 L778.58 95.68 L779.78 95.69 L780.98 95.71 L782.18 95.73 L783.38 95.74 L784.58 95.76 L785.78 95.78 L786.98 95.80 L788.18 95.81 L789.38 95.83 L790.58 95.85 L791.78 95.86 L792.97 95.88 L794.17 95.90 L795.37 95.92 L796.57 95.93 L797.77 95.95 L798.97 95.97 L800.17 95.99 L801.37 96.00 L802.57 96.02 L803.77 96.04 L804.97 96.06 L806.17 96.07 L807.37 96.09 L808.57 96.11 L809.77 96.13 L810.97 96.15 L812.17 96.16 L813.37 96.18 L814.57 96.20 L815.77 96.22 L816.97 96.24 L818.17 96.25 L819.37 96.27 L820.57 96.29 L821.20 96.30" stroke="#00ff00" stroke-dasharray="3.93 5.9"/>
<path d="M579.40 106.50 L821.20 106.90" stroke="#ff00ff" stroke-dasharray="3.93 5.9"/>
<path d="M579.50 26.70 L580.06 26.11 L580.65 25.54 L581.30 25.00 L582.09 24.56 L583.11 24.15 L584.17 23.82 L585.29 23.62 L586.48 23.60 L587.68 23.61 L588.88 23.62 L590.08 23.64 L591.28 23.66 L592.48 23.68 L593.68 23.70 L594.88 23.73 L596.08 23.76 L597.28 23.79 L598.48 23.83 L599.68 23.86 L600.88 23.89 L602.08 23.92 L603.28 23.95 L604.48 23.99 L605.67 24.03 L606.87 24.07 L608.07 24.11 L609.27 24.15 L610.47 24.20 L611.67 24.25 L612.86 24.30 L614.06 24.35 L615.26 24.40 L616.46 24.45 L617.66 24.51 L618.85 24.56 L620.05 24.62 L621.25 24.67 L622.45 24.73 L623.64 24.78 L624.84 24.84 L626.04 24.90 L627.23 24.95 L628.43 25.01 L629.63 25.07 L630.83 25.12 L632.02 25.17 L633.22 25.23 L634.42 25.28 L635.62 25.33 L636.81 25.39 L638.01 25.44 L639.21 25.50 L640.41 25.55 L641.61 25.60 L642.80 25.66 L644.00 25.71 L645.20 25.77 L646.40 25.83 L647.59 25.88 L648.79 25.94 L649.99 25.99 L651.18 26.05 L652.38 26.11 L653.58 26.17 L654.78 26.23 L655.97 26.29 L657.17 26.35 L658.37 26.41 L659.56 26.47 L660.76 26.53 L661.96 26.59 L663.15 26.65 L664.35 26.72 L665.55 26.78 L666.74 26.85 L667.94 26.92 L669.14 26.98 L670.33 27.05 L671.53 27.12 L672.72 27.19 L673.92 27.26 L675.12 27.33 L676.31 27.40 L677.51 27.48 L678.70 27.55 L679.90 27.62 L681.09 27.70 L682.29 27.77 L683.48 27.85 L684.68 27.92 L685.88 28.00 L687.07 28.07 L688.27 28.15 L689.46 28.23 L690.66 28.30 L691.85 28.38 L693.05 28.46 L694.24 28.53 L695.44 28.61 L696.63 28.69 L697.83 28.76 L699.02 28.84 L700.22 28.92 L701.41 29.00 L702.61 29.08 L703.80 29.15 L705.00 29.23 L706.19 29.31 L707.39 29.39 L708.58 29.47 L709.77 29.56 L710.97 29.64 L712.16 29.72 L713.36 29.80 L714.55 29.88 L715.75 29.96 L716.94 30.05 L718.14 30.13 L719.33 30.21 L720.52 30.29 L721.72 30.38 L722.91 30.46 L724.11 30.55 L725.30 30.63 L726.49 30.71 L727.69 30.80 L728.88 30.88 L730.08 30.96 L731.27 31.04 L732.47 31.13 L733.66 31.21 L734.85 31.29 L736.05 31.37 L737.24 31.45 L738.44 31.53 L739.63 31.61 L740.83 31.70 L742.02 31.78 L743.22 31.86 L744.41 31.95 L745.60 32.04 L746.80 32.12 L747.99 32.21 L749.18 32.30 L750.38 32.40 L751.57 32.49 L752.76 32.59 L753.95 32.69 L755.15 32.79 L756.34 32.89 L757.53 32.99 L758.72 33.10 L759.91 33.21 L761.10 33.32 L762.29 33.44 L763.48 33.56 L764.66 33.68 L765.85 33.80 L767.04 33.92 L768.22 34.05 L769.41 34.18 L770.60 34.31 L771.78 34.44 L772.97 34.58 L774.15 34.72 L775.33 34.86 L776.52 35.00 L777.70 35.14 L778.88 35.29 L780.07 35.43 L781.25 35.58 L782.43 35.73 L783.61 35.88 L784.79 36.04 L785.97 36.19 L787.15 36.35 L788.33 36.51 L789.51 36.67 L790.68 36.83 L791.86 37.00 L793.04 37.17 L794.21 37.34 L795.39 37.51 L796.56 37.69 L797.73 37.87 L798.90 38.05 L800.08 38.24 L801.25 38.43 L802.42 38.62 L803.58 38.81 L804.75 39.01 L805.92 39.20 L807.08 39.40 L808.25 39.61 L809.41 39.81 L810.58 40.02 L811.74 40.22 L812.90 40.44 L814.06 40.65 L815.23 40.86 L816.39 41.08 L817.54 41.30 L818.70 41.52 L819.86 41.74 L821.02 41.96 L821.20 42.00" stroke="#0000ff" stroke-dasharray="7.9 3.95" stroke-dashoffset="1.1"/>
<path d="M579.50 22.40 L580.70 22.45 L581.90 22.49 L583.09 22.55 L584.29 22.60 L585.49 22.66 L586.69 22.71 L587.88 22.78 L589.08 22.84 L590.28 22.90 L591.47 22.97 L592.67 23.04 L593.87 23.11 L595.06 23.19 L596.26 23.26 L597.45 23.34 L598.65 23.42 L599.84 23.50 L601.04 23.58 L602.23 23.67 L603.42 23.76 L604.62 23.85 L605.81 23.95 L607.00 24.06 L608.19 24.17 L609.38 24.28 L610.57 24.40 L611.76 24.52 L612.94 24.64 L614.13 24.76 L615.32 24.89 L616.50 25.01 L617.69 25.14 L618.88 25.27 L620.06 25.40 L621.25 25.53 L622.43 25.66 L623.62 25.79 L624.81 25.92 L625.99 26.04 L627.18 26.17 L628.37 26.29 L629.55 26.41 L630.74 26.52 L631.93 26.64 L633.12 26.75 L634.31 26.86 L635.50 26.96 L636.69 27.07 L637.88 27.17 L639.07 27.27 L640.27 27.38 L641.46 27.48 L642.65 27.58 L643.84 27.68 L645.03 27.77 L646.22 27.87 L647.42 27.97 L648.61 28.07 L649.80 28.17 L650.99 28.27 L652.18 28.37 L653.37 28.47 L654.57 28.57 L655.76 28.67 L656.95 28.77 L658.14 28.87 L659.33 28.98 L660.52 29.08 L661.71 29.19 L662.90 29.30 L664.09 29.41 L665.28 29.52 L666.47 29.63 L667.66 29.75 L668.85 29.86 L670.04 29.98 L671.23 30.09 L672.42 30.21 L673.60 30.33 L674.79 30.45 L675.98 30.57 L677.17 30.69 L678.36 30.81 L679.54 30.93 L680.73 31.06 L681.92 31.18 L683.10 31.30 L684.29 31.43 L685.48 31.55 L686.67 31.68 L687.85 31.80 L689.04 31.93 L690.23 32.06 L691.41 32.18 L692.60 32.31 L693.78 32.44 L694.97 32.56 L696.16 32.69 L697.34 32.82 L698.53 32.95 L699.72 33.08 L700.90 33.21 L702.09 33.34 L703.27 33.47 L704.46 33.60 L705.65 33.73 L706.83 33.86 L708.02 33.99 L709.20 34.12 L710.39 34.25 L711.57 34.39 L712.76 34.52 L713.94 34.66 L715.13 34.79 L716.31 34.93 L717.49 35.06 L718.68 35.20 L719.86 35.34 L721.05 35.48 L722.23 35.62 L723.41 35.76 L724.60 35.90 L725.78 36.04 L726.96 36.18 L728.15 36.32 L729.33 36.46 L730.51 36.60 L731.70 36.75 L732.88 36.89 L734.06 37.03 L735.25 37.17 L736.43 37.32 L737.61 37.46 L738.79 37.60 L739.98 37.75 L741.16 37.90 L742.34 38.04 L743.52 38.19 L744.70 38.34 L745.88 38.49 L747.06 38.65 L748.24 38.80 L749.42 38.96 L750.60 39.12 L751.78 39.28 L752.96 39.44 L754.13 39.60 L755.31 39.77 L756.49 39.94 L757.66 40.11 L758.84 40.28 L760.01 40.46 L761.19 40.63 L762.36 40.81 L763.53 40.99 L764.70 41.17 L765.88 41.36 L767.05 41.54 L768.22 41.73 L769.39 41.92 L770.55 42.11 L771.72 42.31 L772.89 42.50 L774.06 42.70 L775.22 42.90 L776.39 43.11 L777.55 43.32 L778.71 43.52 L779.88 43.74 L781.04 43.95 L782.20 44.17 L783.36 44.39 L784.51 44.61 L785.67 44.83 L786.83 45.06 L787.98 45.29 L789.13 45.53 L790.29 45.77 L791.44 46.01 L792.58 46.25 L793.73 46.50 L794.87 46.76 L796.02 47.01 L797.16 47.27 L798.30 47.54 L799.44 47.81 L800.57 48.08 L801.71 48.35 L802.84 48.63 L803.97 48.91 L805.10 49.20 L806.23 49.48 L807.35 49.77 L808.48 50.07 L809.60 50.36 L810.72 50.66 L811.84 50.96 L812.96 51.27 L814.08 51.58 L815.19 51.88 L816.30 52.20 L817.42 52.51 L818.53 52.83 L819.64 53.15 L820.74 53.47 L821.20 53.60" stroke="#00ffff" stroke-dasharray="7.9 3.95" stroke-dashoffset="0.8"/>
<path d="M579.91 190.02 L579.96 189.19 L580.01 188.36 L580.06 187.53 L580.11 186.72 L580.16 185.90 L580.21 185.10 L580.26 184.29 L580.31 183.49 L580.36 182.70 L580.41 181.91 L580.46 181.13 L580.51 180.35 L580.56 179.58 L580.61 178.81 L580.66 178.05 L580.71 177.30 L580.76 176.54 L580.81 175.80 L580.86 175.06 L580.91 174.32 L580.96 173.58 L581.01 172.83 L581.06 172.07 L581.11 171.31 L581.16 170.55 L581.21 169.79 L581.26 169.03 L581.31 168.28 L581.36 167.55 L581.41 166.82 L581.46 166.12 L581.51 165.43 L581.56 164.77 L581.61 164.14 L581.66 163.53 L581.71 162.96 L581.76 162.43 L581.81 161.93 L581.86 161.46 L581.91 160.99 L581.96 160.53 L582.01 160.07 L582.06 159.62 L582.11 159.18 L582.16 158.74 L582.21 158.31 L582.26 157.89 L582.31 157.48 L582.36 157.07 L582.41 156.66 L582.46 156.27 L582.51 155.88 L582.56 155.50 L582.61 155.13 L582.66 154.77 L582.71 154.41 L582.78 154.07 L582.85 153.73 L582.91 153.41 L582.98 153.09 L583.05 152.78 L583.11 152.48 L583.18 152.19 L583.25 151.91 L583.31 151.64 L583.38 151.37 L583.45 151.12 L583.51 150.88 L583.58 150.65 L583.65 150.42 L583.72 150.19 L583.81 149.94 L583.90 149.68 L584.01 149.39 L584.13 149.09 L584.25 148.79 L584.38 148.48 L584.51 148.17 L584.65 147.85 L584.79 147.53 L584.94 147.20 L585.10 146.87 L585.27 146.53 L585.45 146.18 L585.63 145.83 L585.83 145.47 L586.05 145.10 L586.27 144.73 L586.51 144.35 L586.78 143.96 L587.06 143.57 L587.36 143.17 L587.70 142.76 L588.06 142.35 L588.45 141.93 L588.88 141.51 L589.30 141.07 L589.67 140.56 L590.06 140.05 L590.49 139.54 L590.94 139.02 L591.44 138.50 L591.97 137.97 L592.56 137.44 L593.19 136.91 L593.86 136.38 L594.58 135.85 L595.31 135.32 L596.08 134.80 L596.87 134.29 L597.68 133.79 L598.52 133.30 L599.38 132.83 L600.27 132.38 L601.20 131.94 L602.15 131.52 L603.14 131.11 L604.13 130.70 L605.14 130.30 L606.16 129.90 L607.18 129.51 L608.21 129.13 L609.25 128.76 L610.30 128.41 L611.35 128.07 L612.41 127.74 L613.49 127.44 L614.57 127.15 L615.66 126.89 L616.77 126.65 L617.89 126.42 L619.02 126.22 L620.17 126.03 L621.32 125.84 L622.48 125.67 L623.64 125.51 L624.81 125.35 L625.98 125.20 L627.16 125.05 L628.34 124.91 L629.52 124.77 L630.71 124.62 L631.89 124.48 L633.07 124.33 L634.26 124.19 L635.44 124.04 L636.62 123.90 L637.80 123.75 L638.99 123.62 L640.17 123.48 L641.35 123.34 L642.53 123.21 L643.72 123.08 L644.90 122.95 L646.09 122.83 L647.27 122.71 L648.46 122.59 L649.64 122.47 L650.83 122.35 L652.02 122.24 L653.21 122.13 L654.39 122.02 L655.58 121.91 L656.77 121.80 L657.96 121.70 L659.15 121.60 L660.34 121.50 L661.53 121.40 L662.72 121.31 L663.91 121.22 L665.10 121.14 L666.29 121.07 L667.49 121.00 L668.68 120.94 L669.88 120.87 L671.07 120.81 L672.27 120.75 L673.46 120.69 L674.66 120.64 L675.85 120.58 L677.05 120.52 L678.25 120.47 L679.45 120.41 L680.64 120.35 L681.84 120.29 L683.04 120.24 L684.23 120.18 L685.43 120.12 L686.63 120.07 L687.82 120.01 L689.02 119.96 L690.22 119.90 L691.41 119.85 L692.61 119.80 L693.80 119.76 L695.00 119.71 L696.20 119.67 L697.39 119.63 L698.59 119.59 L699.79 119.54 L700.99 119.50 L702.18 119.47 L703.38 119.43 L704.58 119.39 L705.78 119.35 L706.98 119.32 L708.17 119.28 L709.37 119.25 L710.57 119.21 L711.77 119.18 L712.97 119.14 L714.17 119.11 L715.37 119.08 L716.56 119.05 L717.76 119.01 L718.96 118.98 L720.16 118.95 L721.36 118.92 L722.56 118.89 L723.76 118.86 L724.96 118.83 L726.16 118.80 L727.35 118.77 L728.55 118.74 L729.75 118.71 L730.95 118.68 L732.15 118.65 L733.35 118.62 L734.55 118.59 L735.75 118.57 L736.95 118.54 L738.14 118.51 L739.34 118.48 L740.54 118.46 L741.74 118.43 L742.94 118.40 L744.14 118.38 L745.34 118.35 L746.54 118.33 L747.74 118.30 L748.94 118.27 L750.14 118.25 L751.34 118.22 L752.54 118.20 L753.74 118.17 L754.94 118.15 L756.13 118.12 L757.33 118.09 L758.53 118.07 L759.73 118.04 L760.93 118.01 L762.13 117.99 L763.33 117.96 L764.53 117.93 L765.73 117.91 L766.93 117.88 L768.13 117.85 L769.33 117.83 L770.53 117.80 L771.73 117.77 L772.93 117.75 L774.13 117.72 L775.33 117.70 L776.52 117.67 L777.72 117.64 L778.92 117.62 L780.12 117.59 L781.32 117.57 L782.52 117.54 L783.72 117.52 L784.92 117.50 L786.12 117.47 L787.32 117.45 L788.52 117.43 L789.71 117.41 L790.91 117.38 L792.11 117.36 L793.31 117.34 L794.51 117.32 L795.71 117.30 L796.91 117.28 L798.11 117.26 L799.31 117.24 L800.51 117.22 L801.71 117.20 L802.91 117.18 L804.11 117.16 L805.31 117.14 L806.51 117.12 L807.71 117.10 L808.91 117.08 L810.10 117.06 L811.30 117.04 L812.50 117.02 L813.70 117.01 L814.90 116.99 L816.10 116.97 L817.30 116.95 L818.50 116.94 L819.70 116.92 L820.90 116.90 L821.22 116.90" stroke="#000000" stroke-dasharray="11.85 3.95 1.98 3.95" stroke-dashoffset="0.71"/>
<path d="M579.60 190.00 L579.65 189.17 L579.70 188.34 L579.75 187.52 L579.80 186.70 L579.85 185.88 L579.90 185.08 L579.95 184.27 L580.00 183.47 L580.05 182.68 L580.10 181.89 L580.15 181.11 L580.20 180.33 L580.25 179.56 L580.30 178.79 L580.35 178.03 L580.40 177.27 L580.45 176.52 L580.50 175.78 L580.55 175.04 L580.60 174.30 L580.65 173.56 L580.70 172.81 L580.75 172.05 L580.80 171.29 L580.85 170.53 L580.90 169.77 L580.95 169.01 L581.00 168.26 L581.05 167.52 L581.10 166.80 L581.15 166.09 L581.20 165.41 L581.25 164.75 L581.30 164.11 L581.35 163.51 L581.40 162.93 L581.45 162.40 L581.50 161.90 L581.55 161.43 L581.60 160.96 L581.65 160.50 L581.70 160.04 L581.75 159.59 L581.80 159.15 L581.85 158.71 L581.90 158.28 L581.95 157.85 L582.00 157.44 L582.05 157.03 L582.10 156.62 L582.15 156.23 L582.20 155.84 L582.25 155.46 L582.30 155.09 L582.35 154.73 L582.40 154.37 L582.45 154.02 L582.50 153.68 L582.55 153.35 L582.60 153.03 L582.65 152.71 L582.70 152.41 L582.75 152.11 L582.80 151.83 L582.85 151.55 L582.90 151.28 L582.95 151.02 L583.00 150.78 L583.05 150.54 L583.10 150.30 L583.16 150.05 L583.22 149.79 L583.30 149.51 L583.38 149.21 L583.47 148.90 L583.56 148.59 L583.66 148.26 L583.76 147.94 L583.86 147.60 L583.97 147.26 L584.09 146.91 L584.21 146.56 L584.34 146.19 L584.47 145.82 L584.62 145.43 L584.77 145.04 L584.94 144.63 L585.11 144.22 L585.31 143.79 L585.51 143.35 L585.74 142.89 L585.99 142.42 L586.25 141.93 L586.55 141.43 L586.87 140.92 L587.22 140.39 L587.60 139.84 L588.00 139.29 L588.43 138.73 L588.90 138.16 L589.40 137.59 L589.95 137.02 L590.54 136.44 L591.18 135.86 L591.86 135.29 L592.58 134.72 L593.33 134.15 L594.11 133.59 L594.92 133.04 L595.75 132.51 L596.61 131.98 L597.50 131.47 L598.41 130.97 L599.35 130.49 L600.31 130.03 L601.31 129.60 L602.32 129.17 L603.35 128.75 L604.38 128.34 L605.42 127.94 L606.47 127.55 L607.53 127.18 L608.60 126.81 L609.68 126.46 L610.77 126.12 L611.87 125.80 L612.98 125.50 L614.11 125.21 L615.24 124.95 L616.38 124.72 L617.54 124.50 L618.70 124.31 L619.87 124.12 L621.05 123.95 L622.22 123.79 L623.40 123.64 L624.58 123.49 L625.77 123.35 L626.95 123.22 L628.14 123.09 L629.32 122.96 L630.51 122.83 L631.69 122.70 L632.88 122.57 L634.06 122.43 L635.25 122.30 L636.44 122.17 L637.62 122.05 L638.81 121.92 L639.99 121.80 L641.18 121.67 L642.37 121.55 L643.56 121.44 L644.75 121.32 L645.94 121.21 L647.13 121.10 L648.32 121.00 L649.51 120.90 L650.70 120.79 L651.89 120.69 L653.08 120.59 L654.27 120.50 L655.47 120.40 L656.66 120.31 L657.85 120.22 L659.04 120.13 L660.24 120.05 L661.43 119.97 L662.63 119.89 L663.82 119.81 L665.02 119.74 L666.21 119.67 L667.41 119.60 L668.61 119.54 L669.80 119.47 L671.00 119.41 L672.20 119.35 L673.39 119.30 L674.59 119.24 L675.79 119.18 L676.98 119.12 L678.18 119.07 L679.38 119.01 L680.58 118.95 L681.77 118.90 L682.97 118.84 L684.17 118.78 L685.37 118.72 L686.56 118.67 L687.76 118.61 L688.96 118.56 L690.16 118.51 L691.35 118.46 L692.55 118.41 L693.75 118.36 L694.95 118.31 L696.15 118.27 L697.34 118.23 L698.54 118.19 L699.74 118.15 L700.94 118.11 L702.14 118.07 L703.34 118.03 L704.54 117.99 L705.74 117.95 L706.93 117.92 L708.13 117.88 L709.33 117.85 L710.53 117.81 L711.73 117.78 L712.93 117.74 L714.13 117.71 L715.33 117.68 L716.53 117.65 L717.73 117.61 L718.92 117.58 L720.12 117.55 L721.32 117.52 L722.52 117.49 L723.72 117.46 L724.92 117.43 L726.12 117.40 L727.32 117.37 L728.52 117.34 L729.72 117.31 L730.92 117.28 L732.12 117.25 L733.32 117.22 L734.51 117.19 L735.71 117.17 L736.91 117.14 L738.11 117.11 L739.31 117.08 L740.51 117.06 L741.71 117.03 L742.91 117.00 L744.11 116.98 L745.31 116.95 L746.51 116.93 L747.71 116.90 L748.91 116.88 L750.11 116.85 L751.31 116.82 L752.51 116.80 L753.71 116.77 L754.90 116.75 L756.10 116.72 L757.30 116.69 L758.50 116.67 L759.70 116.64 L760.90 116.61 L762.10 116.59 L763.30 116.56 L764.50 116.53 L765.70 116.51 L766.90 116.48 L768.10 116.45 L769.30 116.43 L770.50 116.40 L771.70 116.37 L772.90 116.35 L774.10 116.32 L775.30 116.30 L776.49 116.27 L777.69 116.24 L778.89 116.22 L780.09 116.19 L781.29 116.17 L782.49 116.15 L783.69 116.12 L784.89 116.10 L786.09 116.07 L787.29 116.05 L788.49 116.03 L789.69 116.01 L790.89 115.98 L792.09 115.96 L793.29 115.94 L794.49 115.92 L795.69 115.90 L796.89 115.88 L798.09 115.86 L799.29 115.84 L800.49 115.82 L801.69 115.80 L802.89 115.78 L804.08 115.76 L805.28 115.74 L806.48 115.72 L807.68 115.70 L808.88 115.68 L810.08 115.66 L811.28 115.64 L812.48 115.62 L813.68 115.61 L814.88 115.59 L816.08 115.57 L817.28 115.55 L818.48 115.54 L819.68 115.52 L820.88 115.50 L821.20 115.50" stroke="#ffff00" stroke-dasharray="11.85 3.95 1.98 3.95" stroke-dashoffset="2"/>
<path d="M579.40 190.20 L821.20 190.20" stroke="#ff0000"/>
</g>
<clipPath id="clipRb"><rect x="578.7" y="201" width="243.2" height="172.9"/></clipPath>
<g clip-path="url(#clipRb)" fill="none" stroke-width="3.1" stroke-linejoin="round">
<path d="M579.40 280.20 L580.60 280.27 L581.79 280.34 L582.99 280.41 L584.18 280.47 L585.38 280.54 L586.58 280.61 L587.77 280.67 L588.97 280.74 L590.17 280.81 L591.36 280.87 L592.56 280.94 L593.76 281.00 L594.95 281.06 L596.15 281.13 L597.35 281.19 L598.54 281.25 L599.74 281.31 L600.94 281.38 L602.13 281.44 L603.33 281.50 L604.53 281.56 L605.72 281.62 L606.92 281.68 L608.12 281.74 L609.31 281.80 L610.51 281.85 L611.71 281.91 L612.91 281.97 L614.10 282.03 L615.30 282.08 L616.50 282.14 L617.70 282.19 L618.89 282.25 L620.09 282.30 L621.29 282.36 L622.49 282.41 L623.68 282.46 L624.88 282.52 L626.08 282.57 L627.28 282.62 L628.47 282.67 L629.67 282.72 L630.87 282.77 L632.07 282.82 L633.27 282.87 L634.46 282.92 L635.66 282.97 L636.86 283.01 L638.06 283.06 L639.26 283.11 L640.45 283.15 L641.65 283.20 L642.85 283.24 L644.05 283.29 L645.25 283.33 L646.45 283.37 L647.64 283.42 L648.84 283.46 L650.04 283.50 L651.24 283.54 L652.44 283.58 L653.64 283.62 L654.84 283.66 L656.03 283.70 L657.23 283.74 L658.43 283.78 L659.63 283.82 L660.83 283.85 L662.03 283.89 L663.23 283.93 L664.43 283.96 L665.63 284.00 L666.82 284.04 L668.02 284.07 L669.22 284.11 L670.42 284.14 L671.62 284.17 L672.82 284.21 L674.02 284.24 L675.22 284.27 L676.42 284.31 L677.62 284.34 L678.81 284.37 L680.01 284.40 L681.21 284.43 L682.41 284.47 L683.61 284.50 L684.81 284.53 L686.01 284.56 L687.21 284.59 L688.41 284.62 L689.61 284.65 L690.81 284.68 L692.01 284.71 L693.21 284.74 L694.40 284.77 L695.60 284.79 L696.80 284.82 L698.00 284.85 L699.20 284.88 L700.40 284.91 L701.60 284.94 L702.80 284.97 L704.00 284.99 L705.20 285.02 L706.40 285.05 L707.60 285.08 L708.80 285.11 L710.00 285.14 L711.20 285.16 L712.39 285.19 L713.59 285.22 L714.79 285.25 L715.99 285.28 L717.19 285.30 L718.39 285.33 L719.59 285.36 L720.79 285.39 L721.99 285.41 L723.19 285.44 L724.39 285.47 L725.59 285.49 L726.79 285.52 L727.99 285.55 L729.19 285.58 L730.38 285.60 L731.58 285.63 L732.78 285.66 L733.98 285.68 L735.18 285.71 L736.38 285.74 L737.58 285.76 L738.78 285.79 L739.98 285.81 L741.18 285.84 L742.38 285.87 L743.58 285.89 L744.78 285.92 L745.98 285.94 L747.18 285.97 L748.38 285.99 L749.58 286.02 L750.78 286.05 L751.97 286.07 L753.17 286.10 L754.37 286.12 L755.57 286.15 L756.77 286.17 L757.97 286.19 L759.17 286.22 L760.37 286.24 L761.57 286.27 L762.77 286.29 L763.97 286.32 L765.17 286.34 L766.37 286.36 L767.57 286.39 L768.77 286.41 L769.97 286.43 L771.17 286.46 L772.37 286.48 L773.57 286.50 L774.77 286.53 L775.97 286.55 L777.16 286.57 L778.36 286.59 L779.56 286.62 L780.76 286.64 L781.96 286.66 L783.16 286.68 L784.36 286.70 L785.56 286.73 L786.76 286.75 L787.96 286.77 L789.16 286.79 L790.36 286.81 L791.56 286.83 L792.76 286.85 L793.96 286.87 L795.16 286.89 L796.36 286.92 L797.56 286.94 L798.76 286.96 L799.96 286.98 L801.16 287.00 L802.36 287.01 L803.56 287.03 L804.76 287.05 L805.96 287.07 L807.16 287.09 L808.36 287.11 L809.56 287.13 L810.75 287.15 L811.95 287.17 L813.15 287.18 L814.35 287.20 L815.55 287.22 L816.75 287.24 L817.95 287.25 L819.15 287.27 L820.35 287.29 L821.20 287.30" stroke="#ffa500" stroke-dasharray="3.93 5.9"/>
<path d="M579.40 275.20 L580.59 275.31 L581.78 275.42 L582.97 275.53 L584.16 275.63 L585.35 275.74 L586.54 275.85 L587.73 275.95 L588.92 276.06 L590.11 276.16 L591.30 276.26 L592.50 276.37 L593.69 276.47 L594.88 276.57 L596.07 276.67 L597.26 276.77 L598.45 276.87 L599.64 276.97 L600.84 277.07 L602.03 277.16 L603.22 277.26 L604.41 277.36 L605.61 277.45 L606.80 277.54 L607.99 277.64 L609.18 277.73 L610.38 277.82 L611.57 277.91 L612.76 278.00 L613.96 278.09 L615.15 278.18 L616.34 278.27 L617.54 278.36 L618.73 278.44 L619.92 278.53 L621.12 278.61 L622.31 278.70 L623.51 278.78 L624.70 278.86 L625.89 278.94 L627.09 279.02 L628.28 279.10 L629.48 279.18 L630.67 279.26 L631.87 279.34 L633.06 279.42 L634.26 279.49 L635.45 279.57 L636.65 279.64 L637.84 279.71 L639.04 279.78 L640.24 279.85 L641.43 279.92 L642.63 279.99 L643.82 280.06 L645.02 280.13 L646.22 280.20 L647.41 280.26 L648.61 280.33 L649.80 280.39 L651.00 280.45 L652.20 280.51 L653.40 280.58 L654.59 280.64 L655.79 280.70 L656.99 280.76 L658.18 280.82 L659.38 280.88 L660.58 280.94 L661.77 281.00 L662.97 281.05 L664.17 281.11 L665.37 281.17 L666.56 281.22 L667.76 281.28 L668.96 281.33 L670.16 281.39 L671.35 281.44 L672.55 281.49 L673.75 281.54 L674.95 281.60 L676.14 281.65 L677.34 281.70 L678.54 281.75 L679.74 281.79 L680.94 281.84 L682.13 281.89 L683.33 281.94 L684.53 281.98 L685.73 282.03 L686.93 282.07 L688.13 282.11 L689.32 282.16 L690.52 282.20 L691.72 282.24 L692.92 282.28 L694.12 282.32 L695.32 282.36 L696.52 282.40 L697.71 282.43 L698.91 282.47 L700.11 282.50 L701.31 282.54 L702.51 282.57 L703.71 282.61 L704.91 282.64 L706.11 282.68 L707.31 282.71 L708.51 282.75 L709.70 282.78 L710.90 282.81 L712.10 282.85 L713.30 282.88 L714.50 282.92 L715.70 282.95 L716.90 282.98 L718.10 283.02 L719.30 283.05 L720.50 283.09 L721.69 283.12 L722.89 283.15 L724.09 283.19 L725.29 283.22 L726.49 283.25 L727.69 283.28 L728.89 283.32 L730.09 283.35 L731.29 283.38 L732.49 283.41 L733.69 283.44 L734.89 283.48 L736.08 283.51 L737.28 283.54 L738.48 283.57 L739.68 283.60 L740.88 283.63 L742.08 283.66 L743.28 283.69 L744.48 283.72 L745.68 283.75 L746.88 283.78 L748.08 283.81 L749.28 283.84 L750.48 283.87 L751.67 283.90 L752.87 283.93 L754.07 283.96 L755.27 283.99 L756.47 284.01 L757.67 284.04 L758.87 284.07 L760.07 284.09 L761.27 284.12 L762.47 284.15 L763.67 284.17 L764.87 284.20 L766.07 284.23 L767.27 284.25 L768.47 284.28 L769.67 284.30 L770.86 284.32 L772.06 284.35 L773.26 284.37 L774.46 284.40 L775.66 284.42 L776.86 284.44 L778.06 284.46 L779.26 284.49 L780.46 284.51 L781.66 284.53 L782.86 284.55 L784.06 284.57 L785.26 284.59 L786.46 284.61 L787.66 284.63 L788.86 284.65 L790.06 284.67 L791.26 284.69 L792.46 284.70 L793.66 284.72 L794.86 284.74 L796.06 284.76 L797.26 284.77 L798.46 284.79 L799.66 284.80 L800.86 284.82 L802.06 284.83 L803.26 284.85 L804.46 284.86 L805.66 284.87 L806.86 284.89 L808.06 284.90 L809.26 284.91 L810.46 284.92 L811.66 284.93 L812.86 284.94 L814.06 284.95 L815.26 284.96 L816.45 284.97 L817.65 284.98 L818.85 284.99 L820.05 284.99 L821.20 285.00" stroke="#00ff00" stroke-dasharray="3.93 5.9"/>
<path d="M579.40 288.60 L580.60 288.61 L581.80 288.62 L583.00 288.63 L584.20 288.64 L585.40 288.65 L586.60 288.66 L587.80 288.67 L589.00 288.68 L590.20 288.69 L591.40 288.70 L592.60 288.72 L593.80 288.73 L595.00 288.74 L596.20 288.75 L597.40 288.76 L598.60 288.77 L599.80 288.78 L601.00 288.79 L602.20 288.80 L603.40 288.81 L604.60 288.82 L605.80 288.83 L607.00 288.84 L608.20 288.85 L609.40 288.86 L610.60 288.87 L611.80 288.88 L613.00 288.89 L614.20 288.90 L615.40 288.90 L616.60 288.91 L617.80 288.92 L619.00 288.93 L620.20 288.94 L621.40 288.95 L622.60 288.96 L623.80 288.97 L625.00 288.97 L626.20 288.98 L627.40 288.99 L628.60 289.00 L629.80 289.00 L631.00 289.01 L632.20 289.02 L633.40 289.03 L634.60 289.03 L635.80 289.04 L637.00 289.05 L638.20 289.05 L639.40 289.06 L640.60 289.06 L641.80 289.07 L643.00 289.07 L644.20 289.08 L645.40 289.08 L646.60 289.09 L647.80 289.09 L649.00 289.10 L650.20 289.10 L651.40 289.10 L652.60 289.11 L653.80 289.11 L655.00 289.12 L656.20 289.12 L657.40 289.12 L658.60 289.13 L659.80 289.13 L661.00 289.13 L662.20 289.14 L663.40 289.14 L664.60 289.14 L665.80 289.15 L667.00 289.15 L668.20 289.15 L669.40 289.16 L670.60 289.16 L671.80 289.16 L673.00 289.17 L674.20 289.17 L675.40 289.17 L676.60 289.18 L677.80 289.18 L679.00 289.18 L680.20 289.19 L681.40 289.19 L682.60 289.19 L683.80 289.20 L685.00 289.20 L686.20 289.20 L687.40 289.21 L688.60 289.21 L689.80 289.21 L691.00 289.22 L692.20 289.22 L693.40 289.22 L694.60 289.23 L695.80 289.23 L697.00 289.23 L698.20 289.23 L699.40 289.24 L700.60 289.24 L701.80 289.24 L703.00 289.25 L704.20 289.25 L705.40 289.25 L706.60 289.25 L707.80 289.26 L709.00 289.26 L710.20 289.26 L711.40 289.27 L712.60 289.27 L713.80 289.27 L715.00 289.27 L716.20 289.28 L717.40 289.28 L718.60 289.28 L719.80 289.28 L721.00 289.29 L722.20 289.29 L723.40 289.29 L724.60 289.29 L725.80 289.30 L727.00 289.30 L728.20 289.30 L729.40 289.30 L730.60 289.31 L731.80 289.31 L733.00 289.31 L734.20 289.31 L735.40 289.32 L736.60 289.32 L737.80 289.32 L739.00 289.32 L740.20 289.32 L741.40 289.33 L742.60 289.33 L743.80 289.33 L745.00 289.33 L746.20 289.33 L747.40 289.34 L748.60 289.34 L749.80 289.34 L751.00 289.34 L752.20 289.34 L753.40 289.35 L754.60 289.35 L755.80 289.35 L757.00 289.35 L758.20 289.35 L759.40 289.35 L760.60 289.36 L761.80 289.36 L763.00 289.36 L764.20 289.36 L765.40 289.36 L766.60 289.36 L767.80 289.37 L769.00 289.37 L770.20 289.37 L771.40 289.37 L772.60 289.37 L773.80 289.37 L775.00 289.37 L776.20 289.38 L777.40 289.38 L778.60 289.38 L779.80 289.38 L781.00 289.38 L782.20 289.38 L783.40 289.38 L784.60 289.38 L785.80 289.38 L787.00 289.39 L788.20 289.39 L789.40 289.39 L790.60 289.39 L791.80 289.39 L793.00 289.39 L794.20 289.39 L795.40 289.39 L796.60 289.39 L797.80 289.39 L799.00 289.39 L800.20 289.39 L801.40 289.40 L802.60 289.40 L803.80 289.40 L805.00 289.40 L806.20 289.40 L807.40 289.40 L808.60 289.40 L809.80 289.40 L811.00 289.40 L812.20 289.40 L813.40 289.40 L814.60 289.40 L815.80 289.40 L817.00 289.40 L818.20 289.40 L819.40 289.40 L820.60 289.40 L821.20 289.40" stroke="#ff00ff" stroke-dasharray="3.93 5.9"/>
<path d="M579.60 204.00 L579.65 204.61 L579.70 205.22 L579.75 205.83 L579.80 206.43 L579.85 207.03 L579.90 207.63 L579.95 208.22 L580.00 208.81 L580.05 209.39 L580.10 209.98 L580.15 210.56 L580.20 211.13 L580.25 211.70 L580.30 212.27 L580.35 212.84 L580.40 213.40 L580.45 213.96 L580.50 214.52 L580.55 215.07 L580.60 215.62 L580.65 216.17 L580.70 216.71 L580.75 217.25 L580.80 217.79 L580.85 218.32 L580.90 218.86 L580.95 219.38 L581.00 219.91 L581.05 220.43 L581.10 220.95 L581.15 221.47 L581.20 221.98 L581.25 222.49 L581.30 223.00 L581.35 223.50 L581.40 224.01 L581.45 224.50 L581.50 225.00 L581.55 225.50 L581.60 225.99 L581.65 226.49 L581.70 226.99 L581.75 227.49 L581.80 227.99 L581.85 228.48 L581.90 228.97 L581.95 229.46 L582.00 229.94 L582.05 230.41 L582.10 230.88 L582.15 231.34 L582.20 231.80 L582.25 232.24 L582.30 232.67 L582.35 233.09 L582.40 233.50 L582.45 233.90 L582.50 234.28 L582.55 234.65 L582.60 235.00 L582.65 235.34 L582.70 235.68 L582.75 236.02 L582.80 236.35 L582.85 236.67 L582.90 237.00 L582.95 237.32 L583.00 237.63 L583.05 237.95 L583.10 238.25 L583.15 238.56 L583.20 238.86 L583.25 239.16 L583.30 239.45 L583.35 239.74 L583.40 240.03 L583.45 240.32 L583.50 240.60 L583.55 240.87 L583.60 241.15 L583.65 241.42 L583.70 241.68 L583.75 241.95 L583.80 242.21 L583.85 242.46 L583.90 242.72 L583.95 242.97 L584.00 243.21 L584.05 243.46 L584.10 243.70 L584.15 243.94 L584.20 244.18 L584.26 244.42 L584.31 244.67 L584.37 244.92 L584.43 245.18 L584.49 245.44 L584.55 245.71 L584.61 245.97 L584.68 246.25 L584.75 246.52 L584.82 246.81 L584.90 247.09 L584.98 247.39 L585.06 247.69 L585.14 247.99 L585.22 248.29 L585.31 248.60 L585.39 248.91 L585.48 249.22 L585.57 249.53 L585.66 249.85 L585.76 250.17 L585.85 250.49 L585.95 250.82 L586.05 251.15 L586.15 251.48 L586.26 251.82 L586.37 252.16 L586.48 252.51 L586.60 252.86 L586.72 253.22 L586.85 253.58 L586.98 253.95 L587.12 254.33 L587.26 254.72 L587.42 255.11 L587.58 255.51 L587.76 255.93 L587.95 256.36 L588.16 256.80 L588.39 257.25 L588.66 257.73 L588.97 258.24 L589.31 258.76 L589.68 259.30 L590.07 259.85 L590.50 260.41 L590.96 260.97 L591.46 261.54 L592.00 262.12 L592.59 262.70 L593.21 263.28 L593.88 263.85 L594.59 264.43 L595.32 265.00 L596.07 265.57 L596.85 266.13 L597.66 266.67 L598.51 267.20 L599.38 267.72 L600.29 268.21 L601.23 268.68 L602.21 269.12 L603.23 269.54 L604.26 269.94 L605.31 270.34 L606.37 270.71 L607.44 271.08 L608.52 271.43 L609.61 271.76 L610.71 272.08 L611.82 272.39 L612.94 272.68 L614.07 272.96 L615.20 273.22 L616.35 273.47 L617.50 273.70 L618.65 273.92 L619.82 274.12 L620.98 274.31 L622.15 274.49 L623.33 274.66 L624.50 274.83 L625.68 274.98 L626.86 275.14 L628.04 275.29 L629.22 275.44 L630.40 275.59 L631.58 275.75 L632.76 275.91 L633.94 276.07 L635.11 276.24 L636.29 276.41 L637.46 276.59 L638.64 276.76 L639.81 276.93 L640.99 277.10 L642.17 277.26 L643.34 277.42 L644.52 277.58 L645.70 277.73 L646.88 277.87 L648.07 278.00 L649.25 278.13 L650.44 278.24 L651.63 278.35 L652.82 278.46 L654.01 278.56 L655.20 278.67 L656.39 278.77 L657.59 278.87 L658.78 278.97 L659.97 279.06 L661.16 279.16 L662.35 279.25 L663.55 279.34 L664.74 279.43 L665.93 279.52 L667.13 279.60 L668.32 279.69 L669.52 279.77 L670.71 279.85 L671.90 279.93 L673.10 280.01 L674.29 280.09 L675.49 280.17 L676.68 280.24 L677.88 280.32 L679.08 280.39 L680.27 280.46 L681.47 280.53 L682.66 280.60 L683.86 280.67 L685.05 280.73 L686.25 280.80 L687.45 280.87 L688.64 280.93 L689.84 280.99 L691.04 281.06 L692.23 281.12 L693.43 281.18 L694.63 281.24 L695.82 281.30 L697.02 281.36 L698.22 281.41 L699.42 281.47 L700.61 281.53 L701.81 281.59 L703.01 281.64 L704.21 281.69 L705.40 281.75 L706.60 281.80 L707.80 281.85 L709.00 281.91 L710.19 281.96 L711.39 282.01 L712.59 282.06 L713.79 282.10 L714.99 282.15 L716.18 282.20 L717.38 282.25 L718.58 282.29 L719.78 282.34 L720.98 282.38 L722.18 282.43 L723.37 282.47 L724.57 282.52 L725.77 282.56 L726.97 282.60 L728.17 282.65 L729.37 282.69 L730.56 282.73 L731.76 282.77 L732.96 282.81 L734.16 282.86 L735.36 282.90 L736.56 282.94 L737.76 282.98 L738.95 283.02 L740.15 283.06 L741.35 283.10 L742.55 283.13 L743.75 283.17 L744.95 283.21 L746.15 283.25 L747.35 283.29 L748.54 283.33 L749.74 283.37 L750.94 283.41 L752.14 283.45 L753.34 283.48 L754.54 283.52 L755.74 283.56 L756.94 283.60 L758.13 283.64 L759.33 283.68 L760.53 283.72 L761.73 283.76 L762.93 283.80 L764.13 283.83 L765.33 283.87 L766.53 283.91 L767.72 283.95 L768.92 283.99 L770.12 284.03 L771.32 284.06 L772.52 284.10 L773.72 284.14 L774.92 284.18 L776.12 284.21 L777.31 284.25 L778.51 284.29 L779.71 284.32 L780.91 284.36 L782.11 284.40 L783.31 284.43 L784.51 284.47 L785.71 284.51 L786.91 284.54 L788.10 284.58 L789.30 284.61 L790.50 284.65 L791.70 284.69 L792.90 284.72 L794.10 284.76 L795.30 284.79 L796.50 284.82 L797.70 284.86 L798.90 284.89 L800.09 284.93 L801.29 284.96 L802.49 285.00 L803.69 285.03 L804.89 285.06 L806.09 285.10 L807.29 285.13 L808.49 285.16 L809.69 285.19 L810.89 285.23 L812.09 285.26 L813.28 285.29 L814.48 285.32 L815.68 285.36 L816.88 285.39 L818.08 285.42 L819.28 285.45 L820.48 285.48 L821.20 285.50" stroke="#0000ff" stroke-dasharray="7.9 3.95" stroke-dashoffset="7.24"/>
<path d="M579.60 204.00 L579.65 205.11 L579.70 206.22 L579.75 207.31 L579.80 208.39 L579.85 209.45 L579.90 210.50 L579.95 211.54 L580.00 212.56 L580.05 213.57 L580.10 214.56 L580.15 215.53 L580.20 216.49 L580.25 217.43 L580.30 218.35 L580.35 219.25 L580.40 220.13 L580.45 221.00 L580.50 221.84 L580.55 222.66 L580.60 223.46 L580.65 224.24 L580.70 225.00 L580.75 225.73 L580.80 226.44 L580.85 227.13 L580.90 227.79 L580.95 228.44 L581.00 229.07 L581.05 229.69 L581.10 230.29 L581.15 230.88 L581.20 231.47 L581.25 232.04 L581.30 232.61 L581.35 233.17 L581.40 233.73 L581.45 234.29 L581.50 234.85 L581.55 235.42 L581.60 235.99 L581.65 236.56 L581.70 237.15 L581.75 237.74 L581.80 238.35 L581.85 238.97 L581.90 239.60 L581.95 240.26 L582.00 240.96 L582.05 241.68 L582.10 242.43 L582.15 243.20 L582.20 243.98 L582.25 244.76 L582.30 245.55 L582.35 246.33 L582.40 247.11 L582.45 247.87 L582.50 248.61 L582.55 249.33 L582.60 250.02 L582.65 250.67 L582.70 251.28 L582.75 251.84 L582.80 252.35 L582.85 252.81 L582.90 253.20 L582.95 253.56 L583.00 253.90 L583.05 254.24 L583.10 254.58 L583.15 254.91 L583.20 255.23 L583.25 255.54 L583.30 255.85 L583.35 256.15 L583.40 256.44 L583.45 256.73 L583.50 257.01 L583.55 257.29 L583.60 257.56 L583.65 257.83 L583.70 258.09 L583.75 258.34 L583.80 258.59 L583.85 258.83 L583.90 259.07 L583.95 259.31 L584.00 259.56 L584.06 259.81 L584.12 260.06 L584.18 260.32 L584.24 260.59 L584.31 260.86 L584.38 261.14 L584.45 261.42 L584.53 261.71 L584.61 262.01 L584.70 262.32 L584.79 262.63 L584.89 262.95 L584.99 263.28 L585.10 263.62 L585.21 263.96 L585.32 264.31 L585.45 264.67 L585.57 265.04 L585.70 265.41 L585.84 265.78 L585.97 266.16 L586.11 266.54 L586.26 266.93 L586.41 267.32 L586.56 267.72 L586.72 268.13 L586.89 268.54 L587.07 268.96 L587.25 269.38 L587.44 269.82 L587.65 270.26 L587.86 270.71 L588.09 271.17 L588.34 271.64 L588.60 272.13 L588.89 272.62 L589.20 273.13 L589.55 273.65 L589.95 274.19 L590.40 274.74 L590.93 275.31 L591.50 275.88 L592.13 276.45 L592.82 277.01 L593.57 277.55 L594.40 278.07 L595.29 278.56 L596.23 279.03 L597.21 279.48 L598.22 279.89 L599.26 280.28 L600.33 280.65 L601.41 281.00 L602.50 281.33 L603.60 281.66 L604.71 281.97 L605.82 282.28 L606.94 282.58 L608.06 282.86 L609.19 283.14 L610.33 283.41 L611.47 283.66 L612.61 283.91 L613.76 284.14 L614.92 284.36 L616.08 284.57 L617.24 284.76 L618.41 284.94 L619.59 285.11 L620.76 285.28 L621.94 285.44 L623.12 285.59 L624.30 285.73 L625.49 285.87 L626.67 286.00 L627.86 286.13 L629.04 286.25 L630.23 286.37 L631.42 286.48 L632.61 286.59 L633.80 286.70 L634.99 286.81 L636.18 286.91 L637.37 287.01 L638.56 287.10 L639.76 287.20 L640.95 287.29 L642.14 287.37 L643.34 287.46 L644.53 287.54 L645.72 287.62 L646.92 287.70 L648.11 287.78 L649.31 287.86 L650.50 287.93 L651.70 288.01 L652.89 288.08 L654.09 288.15 L655.29 288.22 L656.48 288.30 L657.68 288.37 L658.87 288.44 L660.07 288.51 L661.26 288.58 L662.46 288.65 L663.66 288.72 L664.85 288.79 L666.05 288.86 L667.24 288.93 L668.44 288.99 L669.64 289.06 L670.83 289.13 L672.03 289.19 L673.23 289.25 L674.42 289.32 L675.62 289.38 L676.82 289.44 L678.01 289.50 L679.21 289.56 L680.41 289.62 L681.60 289.67 L682.80 289.73 L684.00 289.79 L685.20 289.84 L686.39 289.89 L687.59 289.94 L688.79 289.99 L689.99 290.04 L691.19 290.09 L692.38 290.14 L693.58 290.18 L694.78 290.23 L695.98 290.27 L697.18 290.31 L698.38 290.35 L699.58 290.39 L700.77 290.42 L701.97 290.46 L703.17 290.49 L704.37 290.53 L705.57 290.56 L706.77 290.59 L707.97 290.63 L709.17 290.66 L710.37 290.69 L711.57 290.72 L712.77 290.75 L713.96 290.78 L715.16 290.81 L716.36 290.84 L717.56 290.86 L718.76 290.89 L719.96 290.92 L721.16 290.94 L722.36 290.97 L723.56 290.99 L724.76 291.02 L725.96 291.04 L727.16 291.07 L728.36 291.09 L729.56 291.12 L730.76 291.14 L731.96 291.16 L733.16 291.19 L734.36 291.21 L735.55 291.23 L736.75 291.26 L737.95 291.28 L739.15 291.30 L740.35 291.32 L741.55 291.34 L742.75 291.37 L743.95 291.39 L745.15 291.41 L746.35 291.43 L747.55 291.46 L748.75 291.48 L749.95 291.50 L751.15 291.53 L752.35 291.55 L753.55 291.57 L754.75 291.59 L755.95 291.62 L757.15 291.64 L758.35 291.67 L759.55 291.69 L760.75 291.72 L761.94 291.74 L763.14 291.76 L764.34 291.79 L765.54 291.81 L766.74 291.84 L767.94 291.86 L769.14 291.89 L770.34 291.91 L771.54 291.94 L772.74 291.96 L773.94 291.98 L775.14 292.01 L776.34 292.03 L777.54 292.06 L778.74 292.08 L779.94 292.10 L781.14 292.13 L782.34 292.15 L783.54 292.18 L784.74 292.20 L785.94 292.22 L787.13 292.25 L788.33 292.27 L789.53 292.29 L790.73 292.32 L791.93 292.34 L793.13 292.37 L794.33 292.39 L795.53 292.41 L796.73 292.44 L797.93 292.46 L799.13 292.48 L800.33 292.50 L801.53 292.53 L802.73 292.55 L803.93 292.57 L805.13 292.60 L806.33 292.62 L807.53 292.64 L808.73 292.67 L809.93 292.69 L811.13 292.71 L812.33 292.73 L813.52 292.76 L814.72 292.78 L815.92 292.80 L817.12 292.82 L818.32 292.85 L819.52 292.87 L820.72 292.89 L821.20 292.90" stroke="#00ffff" stroke-dasharray="7.9 3.95" stroke-dashoffset="5.15"/>
<path d="M579.01 370.87 L579.75 370.29 L580.50 369.71 L581.25 369.13 L582.00 368.55 L582.76 367.97 L583.52 367.39 L584.29 366.81 L585.05 366.23 L585.83 365.66 L586.60 365.09 L587.38 364.51 L588.16 363.94 L588.95 363.37 L589.74 362.80 L590.54 362.23 L591.34 361.67 L592.15 361.11 L592.96 360.54 L593.78 359.98 L594.60 359.42 L595.42 358.87 L596.26 358.31 L597.09 357.76 L597.94 357.21 L598.79 356.67 L599.64 356.12 L600.50 355.58 L601.37 355.05 L602.25 354.51 L603.13 353.98 L604.02 353.45 L604.91 352.93 L605.82 352.41 L606.73 351.90 L607.64 351.39 L608.57 350.88 L609.50 350.38 L610.43 349.88 L611.37 349.38 L612.32 348.89 L613.27 348.40 L614.22 347.92 L615.18 347.43 L616.15 346.96 L617.11 346.48 L618.09 346.01 L619.06 345.54 L620.04 345.07 L621.02 344.60 L622.00 344.13 L622.98 343.67 L623.97 343.20 L624.95 342.74 L625.94 342.28 L626.93 341.82 L627.92 341.36 L628.91 340.90 L629.90 340.44 L630.89 339.98 L631.88 339.52 L632.87 339.06 L633.85 338.60 L634.84 338.14 L635.83 337.67 L636.81 337.21 L637.80 336.74 L638.78 336.28 L639.77 335.82 L640.76 335.36 L641.75 334.90 L642.75 334.44 L643.74 333.99 L644.74 333.54 L645.75 333.09 L646.75 332.64 L647.76 332.19 L648.77 331.75 L649.79 331.32 L650.81 330.88 L651.83 330.45 L652.85 330.02 L653.88 329.59 L654.90 329.16 L655.93 328.73 L656.96 328.31 L657.99 327.89 L659.03 327.47 L660.07 327.05 L661.11 326.64 L662.16 326.23 L663.21 325.83 L664.26 325.43 L665.31 325.03 L666.37 324.64 L667.44 324.25 L668.50 323.86 L669.56 323.48 L670.63 323.09 L671.70 322.71 L672.76 322.33 L673.83 321.95 L674.90 321.57 L675.97 321.19 L677.05 320.82 L678.12 320.44 L679.20 320.07 L680.28 319.71 L681.36 319.34 L682.44 318.98 L683.53 318.62 L684.62 318.26 L685.71 317.91 L686.80 317.56 L687.90 317.21 L689.00 316.87 L690.10 316.53 L691.20 316.19 L692.31 315.86 L693.42 315.53 L694.53 315.21 L695.65 314.89 L696.76 314.58 L697.88 314.27 L699.01 313.96 L700.13 313.66 L701.25 313.37 L702.38 313.08 L703.51 312.79 L704.64 312.50 L705.77 312.21 L706.90 311.93 L708.03 311.65 L709.17 311.37 L710.31 311.10 L711.44 310.83 L712.58 310.56 L713.73 310.30 L714.87 310.04 L716.02 309.78 L717.17 309.53 L718.32 309.28 L719.47 309.03 L720.62 308.79 L721.78 308.56 L722.94 308.33 L724.10 308.10 L725.26 307.88 L726.43 307.67 L727.59 307.46 L728.76 307.25 L729.93 307.05 L731.10 306.85 L732.27 306.66 L733.44 306.46 L734.61 306.27 L735.79 306.08 L736.96 305.90 L738.13 305.72 L739.31 305.54 L740.48 305.36 L741.66 305.18 L742.84 305.01 L744.02 304.85 L745.20 304.68 L746.38 304.52 L747.56 304.36 L748.75 304.21 L749.93 304.06 L751.12 303.91 L752.30 303.76 L753.49 303.62 L754.68 303.49 L755.87 303.35 L757.06 303.22 L758.25 303.10 L759.44 302.98 L760.63 302.86 L761.82 302.75 L763.01 302.63 L764.20 302.52 L765.40 302.41 L766.59 302.31 L767.78 302.20 L768.98 302.10 L770.17 302.00 L771.36 301.90 L772.56 301.81 L773.75 301.71 L774.95 301.62 L776.14 301.53 L777.34 301.44 L778.53 301.36 L779.73 301.27 L780.92 301.19 L782.12 301.10 L783.32 301.02 L784.51 300.95 L785.71 300.87 L786.91 300.79 L788.10 300.72 L789.30 300.65 L790.50 300.57 L791.69 300.50 L792.89 300.43 L794.09 300.36 L795.28 300.30 L796.48 300.23 L797.68 300.16 L798.88 300.10 L800.07 300.03 L801.27 299.97 L802.47 299.91 L803.67 299.85 L804.86 299.79 L806.06 299.73 L807.26 299.67 L808.46 299.61 L809.66 299.56 L810.86 299.50 L812.06 299.45 L813.26 299.40 L814.46 299.35 L815.66 299.30 L816.86 299.25 L818.06 299.21 L819.25 299.17 L820.45 299.12 L821.15 299.10" stroke="#000000" stroke-dasharray="12.16 4.05 2.03 4.05" stroke-dashoffset="1.15"/>
<path d="M579.50 371.50 L580.24 370.92 L580.99 370.34 L581.74 369.76 L582.49 369.18 L583.25 368.60 L584.01 368.03 L584.77 367.45 L585.53 366.88 L586.30 366.30 L587.08 365.73 L587.85 365.16 L588.63 364.59 L589.42 364.02 L590.21 363.45 L591.00 362.89 L591.80 362.32 L592.61 361.76 L593.41 361.20 L594.23 360.64 L595.04 360.09 L595.87 359.53 L596.70 358.98 L597.53 358.43 L598.37 357.89 L599.22 357.34 L600.07 356.80 L600.93 356.26 L601.79 355.73 L602.66 355.20 L603.54 354.67 L604.42 354.14 L605.31 353.62 L606.21 353.11 L607.12 352.59 L608.03 352.09 L608.95 351.58 L609.87 351.08 L610.81 350.58 L611.74 350.09 L612.68 349.60 L613.63 349.11 L614.58 348.63 L615.54 348.15 L616.50 347.67 L617.47 347.20 L618.43 346.73 L619.41 346.26 L620.38 345.79 L621.36 345.33 L622.34 344.87 L623.33 344.41 L624.31 343.95 L625.30 343.50 L626.29 343.04 L627.28 342.59 L628.27 342.13 L629.27 341.68 L630.26 341.22 L631.25 340.77 L632.24 340.32 L633.24 339.86 L634.23 339.41 L635.22 338.95 L636.21 338.49 L637.19 338.03 L638.18 337.57 L639.17 337.12 L640.16 336.66 L641.15 336.21 L642.14 335.76 L643.14 335.30 L644.13 334.86 L645.13 334.41 L646.13 333.97 L647.14 333.53 L648.15 333.09 L649.16 332.66 L650.17 332.23 L651.19 331.80 L652.22 331.37 L653.24 330.95 L654.26 330.52 L655.29 330.10 L656.32 329.68 L657.35 329.27 L658.38 328.85 L659.41 328.44 L660.45 328.03 L661.49 327.63 L662.54 327.23 L663.58 326.83 L664.63 326.44 L665.69 326.05 L666.75 325.66 L667.81 325.28 L668.87 324.90 L669.94 324.52 L671.00 324.15 L672.07 323.77 L673.14 323.39 L674.21 323.02 L675.28 322.65 L676.35 322.28 L677.42 321.91 L678.50 321.55 L679.57 321.19 L680.65 320.83 L681.73 320.47 L682.81 320.11 L683.90 319.76 L684.99 319.41 L686.07 319.06 L687.17 318.72 L688.26 318.38 L689.35 318.05 L690.45 317.72 L691.55 317.39 L692.66 317.06 L693.76 316.75 L694.87 316.43 L695.98 316.12 L697.10 315.82 L698.22 315.52 L699.34 315.22 L700.46 314.92 L701.58 314.63 L702.71 314.34 L703.83 314.05 L704.96 313.76 L706.08 313.47 L707.21 313.19 L708.34 312.91 L709.47 312.64 L710.61 312.36 L711.74 312.09 L712.88 311.83 L714.02 311.56 L715.16 311.30 L716.30 311.05 L717.44 310.80 L718.59 310.55 L719.74 310.31 L720.88 310.07 L722.04 309.83 L723.19 309.60 L724.34 309.38 L725.50 309.16 L726.66 308.94 L727.82 308.74 L728.99 308.53 L730.15 308.33 L731.32 308.14 L732.48 307.94 L733.65 307.75 L734.82 307.56 L735.99 307.37 L737.16 307.18 L738.33 307.00 L739.50 306.82 L740.68 306.64 L741.85 306.47 L743.02 306.30 L744.20 306.13 L745.38 305.97 L746.55 305.81 L747.73 305.65 L748.91 305.50 L750.09 305.34 L751.27 305.20 L752.46 305.05 L753.64 304.91 L754.82 304.78 L756.01 304.65 L757.19 304.52 L758.38 304.39 L759.57 304.27 L760.76 304.16 L761.94 304.04 L763.13 303.93 L764.32 303.82 L765.51 303.71 L766.70 303.60 L767.89 303.50 L769.09 303.40 L770.28 303.30 L771.47 303.20 L772.66 303.10 L773.85 303.01 L775.05 302.92 L776.24 302.83 L777.43 302.74 L778.63 302.65 L779.82 302.57 L781.01 302.48 L782.21 302.40 L783.40 302.32 L784.60 302.24 L785.79 302.17 L786.99 302.09 L788.18 302.02 L789.38 301.94 L790.57 301.87 L791.77 301.80 L792.96 301.73 L794.16 301.66 L795.36 301.59 L796.55 301.53 L797.75 301.46 L798.95 301.39 L800.14 301.33 L801.34 301.27 L802.54 301.20 L803.73 301.14 L804.93 301.08 L806.13 301.02 L807.32 300.97 L808.52 300.91 L809.72 300.86 L810.92 300.80 L812.11 300.75 L813.31 300.70 L814.51 300.65 L815.71 300.60 L816.91 300.55 L818.10 300.51 L819.30 300.47 L820.50 300.42 L821.20 300.40" stroke="#ffff00" stroke-dasharray="11.85 3.95 1.98 3.95" stroke-dashoffset="0.72"/>
<path d="M579.40 372.00 L821.20 372.00" stroke="#ff0000"/>
</g>
<path d="M52.39 188.2 v-2.5 M52.39 18.5 v2.5 M83.47 188.2 v-5 M83.47 18.5 v5 M114.56 188.2 v-2.5 M114.56 18.5 v2.5 M145.65 188.2 v-5 M145.65 18.5 v5 M176.74 188.2 v-2.5 M176.74 18.5 v2.5 M207.82 188.2 v-5 M207.82 18.5 v5 M238.91 188.2 v-2.5 M238.91 18.5 v2.5 M21.3 183.36 h2.5 M270 183.36 h-2.5 M21.3 179.27 h2.5 M270 179.27 h-2.5 M21.3 175.73 h2.5 M270 175.73 h-2.5 M21.3 172.61 h2.5 M270 172.61 h-2.5 M21.3 169.81 h5 M270 169.81 h-5 M21.3 151.42 h2.5 M270 151.42 h-2.5 M21.3 140.67 h2.5 M270 140.67 h-2.5 M21.3 133.04 h2.5 M270 133.04 h-2.5 M21.3 127.12 h2.5 M270 127.12 h-2.5 M21.3 122.28 h2.5 M270 122.28 h-2.5 M21.3 118.19 h2.5 M270 118.19 h-2.5 M21.3 114.65 h2.5 M270 114.65 h-2.5 M21.3 111.52 h2.5 M270 111.52 h-2.5 M21.3 108.73 h5 M270 108.73 h-5 M21.3 90.34 h2.5 M270 90.34 h-2.5 M21.3 79.58 h2.5 M270 79.58 h-2.5 M21.3 71.95 h2.5 M270 71.95 h-2.5 M21.3 66.03 h2.5 M270 66.03 h-2.5 M21.3 61.2 h2.5 M270 61.2 h-2.5 M21.3 57.11 h2.5 M270 57.11 h-2.5 M21.3 53.56 h2.5 M270 53.56 h-2.5 M21.3 50.44 h2.5 M270 50.44 h-2.5 M21.3 47.64 h5 M270 47.64 h-5 M21.3 29.26 h2.5 M270 29.26 h-2.5" stroke="#000" stroke-width="1.3" fill="none"/>
<rect x="21.3" y="18.5" width="248.7" height="169.7" fill="none" stroke="#000" stroke-width="1.6"/>
<path d="M52.39 370 v-2.5 M52.39 200.3 v2.5 M83.47 370 v-5 M83.47 200.3 v5 M114.56 370 v-2.5 M114.56 200.3 v2.5 M145.65 370 v-5 M145.65 200.3 v5 M176.74 370 v-2.5 M176.74 200.3 v2.5 M207.82 370 v-5 M207.82 200.3 v5 M238.91 370 v-2.5 M238.91 200.3 v2.5 M21.3 365.16 h2.5 M270 365.16 h-2.5 M21.3 361.07 h2.5 M270 361.07 h-2.5 M21.3 357.53 h2.5 M270 357.53 h-2.5 M21.3 354.41 h2.5 M270 354.41 h-2.5 M21.3 351.61 h5 M270 351.61 h-5 M21.3 333.22 h2.5 M270 333.22 h-2.5 M21.3 322.47 h2.5 M270 322.47 h-2.5 M21.3 314.84 h2.5 M270 314.84 h-2.5 M21.3 308.92 h2.5 M270 308.92 h-2.5 M21.3 304.08 h2.5 M270 304.08 h-2.5 M21.3 299.99 h2.5 M270 299.99 h-2.5 M21.3 296.45 h2.5 M270 296.45 h-2.5 M21.3 293.32 h2.5 M270 293.32 h-2.5 M21.3 290.53 h5 M270 290.53 h-5 M21.3 272.14 h2.5 M270 272.14 h-2.5 M21.3 261.38 h2.5 M270 261.38 h-2.5 M21.3 253.75 h2.5 M270 253.75 h-2.5 M21.3 247.83 h2.5 M270 247.83 h-2.5 M21.3 243 h2.5 M270 243 h-2.5 M21.3 238.91 h2.5 M270 238.91 h-2.5 M21.3 235.36 h2.5 M270 235.36 h-2.5 M21.3 232.24 h2.5 M270 232.24 h-2.5 M21.3 229.44 h5 M270 229.44 h-5 M21.3 211.06 h2.5 M270 211.06 h-2.5" stroke="#000" stroke-width="1.3" fill="none"/>
<rect x="21.3" y="200.3" width="248.7" height="169.7" fill="none" stroke="#000" stroke-width="1.6"/>
<path d="M335.1 190.2 v-2.5 M335.1 19.6 v2.5 M365.3 190.2 v-5 M365.3 19.6 v5 M395.5 190.2 v-2.5 M395.5 19.6 v2.5 M425.7 190.2 v-5 M425.7 19.6 v5 M455.9 190.2 v-2.5 M455.9 19.6 v2.5 M486.1 190.2 v-5 M486.1 19.6 v5 M516.3 190.2 v-2.5 M516.3 19.6 v2.5 M304.9 168.88 h2.5 M546.5 168.88 h-2.5 M304.9 147.55 h5 M546.5 147.55 h-5 M304.9 126.22 h2.5 M546.5 126.22 h-2.5 M304.9 104.9 h5 M546.5 104.9 h-5 M304.9 83.57 h2.5 M546.5 83.57 h-2.5 M304.9 62.25 h5 M546.5 62.25 h-5 M304.9 40.92 h2.5 M546.5 40.92 h-2.5" stroke="#000" stroke-width="1.3" fill="none"/>
<rect x="304.9" y="19.6" width="241.6" height="170.6" fill="none" stroke="#000" stroke-width="1.6"/>
<path d="M335.1 372 v-2.5 M335.1 201.7 v2.5 M365.3 372 v-5 M365.3 201.7 v5 M395.5 372 v-2.5 M395.5 201.7 v2.5 M425.7 372 v-5 M425.7 201.7 v5 M455.9 372 v-2.5 M455.9 201.7 v2.5 M486.1 372 v-5 M486.1 201.7 v5 M516.3 372 v-2.5 M516.3 201.7 v2.5 M304.9 350.71 h2.5 M546.5 350.71 h-2.5 M304.9 329.43 h5 M546.5 329.43 h-5 M304.9 308.14 h2.5 M546.5 308.14 h-2.5 M304.9 286.85 h5 M546.5 286.85 h-5 M304.9 265.56 h2.5 M546.5 265.56 h-2.5 M304.9 244.27 h5 M546.5 244.27 h-5 M304.9 222.99 h2.5 M546.5 222.99 h-2.5" stroke="#000" stroke-width="1.3" fill="none"/>
<rect x="304.9" y="201.7" width="241.6" height="170.3" fill="none" stroke="#000" stroke-width="1.6"/>
<path d="M609.62 190.2 v-2.5 M609.62 19.6 v2.5 M639.85 190.2 v-5 M639.85 19.6 v5 M670.08 190.2 v-2.5 M670.08 19.6 v2.5 M700.3 190.2 v-5 M700.3 19.6 v5 M730.53 190.2 v-2.5 M730.53 19.6 v2.5 M760.75 190.2 v-5 M760.75 19.6 v5 M790.98 190.2 v-2.5 M790.98 19.6 v2.5 M579.4 168.88 h2.5 M821.2 168.88 h-2.5 M579.4 147.55 h5 M821.2 147.55 h-5 M579.4 126.22 h2.5 M821.2 126.22 h-2.5 M579.4 104.9 h5 M821.2 104.9 h-5 M579.4 83.57 h2.5 M821.2 83.57 h-2.5 M579.4 62.25 h5 M821.2 62.25 h-5 M579.4 40.92 h2.5 M821.2 40.92 h-2.5" stroke="#000" stroke-width="1.3" fill="none"/>
<rect x="579.4" y="19.6" width="241.8" height="170.6" fill="none" stroke="#000" stroke-width="1.6"/>
<path d="M609.62 372 v-2.5 M609.62 201.7 v2.5 M639.85 372 v-5 M639.85 201.7 v5 M670.08 372 v-2.5 M670.08 201.7 v2.5 M700.3 372 v-5 M700.3 201.7 v5 M730.53 372 v-2.5 M730.53 201.7 v2.5 M760.75 372 v-5 M760.75 201.7 v5 M790.98 372 v-2.5 M790.98 201.7 v2.5 M579.4 350.71 h2.5 M821.2 350.71 h-2.5 M579.4 329.43 h5 M821.2 329.43 h-5 M579.4 308.14 h2.5 M821.2 308.14 h-2.5 M579.4 286.85 h5 M821.2 286.85 h-5 M579.4 265.56 h2.5 M821.2 265.56 h-2.5 M579.4 244.27 h5 M821.2 244.27 h-5 M579.4 222.99 h2.5 M821.2 222.99 h-2.5" stroke="#000" stroke-width="1.3" fill="none"/>
<rect x="579.4" y="201.7" width="241.8" height="170.3" fill="none" stroke="#000" stroke-width="1.6"/>
<g font-family="'Liberation Sans', sans-serif" fill="#000" opacity="0.999" style="text-rendering:geometricPrecision">
<text transform="translate(19.4 51.24) scale(1.0 1)" font-size="11" text-anchor="end">10</text>
<text transform="translate(19.4 112.33) scale(1.0 1)" font-size="11" text-anchor="end">1</text>
<text transform="translate(19.4 173.41) scale(1.0 1)" font-size="11" text-anchor="end">0.1</text>
<text transform="translate(19.4 233.04) scale(1.0 1)" font-size="11" text-anchor="end">10</text>
<text transform="translate(19.4 294.13) scale(1.0 1)" font-size="11" text-anchor="end">1</text>
<text transform="translate(19.4 355.21) scale(1.0 1)" font-size="11" text-anchor="end">0.1</text>
<text transform="translate(22.7 382) scale(1.0 1)" font-size="11" text-anchor="middle">0</text>
<text transform="translate(84.88 382) scale(1.0 1)" font-size="11" text-anchor="middle">0.05</text>
<text transform="translate(147.05 382) scale(1.0 1)" font-size="11" text-anchor="middle">0.1</text>
<text transform="translate(209.22 382) scale(1.0 1)" font-size="11" text-anchor="middle">0.15</text>
<text transform="translate(271.4 382) scale(1.0 1)" font-size="11" text-anchor="middle">0.2</text>
<text transform="translate(302.5 193.8) scale(1.0 1)" font-size="11" text-anchor="end">0</text>
<text transform="translate(302.5 151.15) scale(1.0 1)" font-size="11" text-anchor="end">0.5</text>
<text transform="translate(302.5 108.5) scale(1.0 1)" font-size="11" text-anchor="end">1</text>
<text transform="translate(302.5 65.85) scale(1.0 1)" font-size="11" text-anchor="end">1.5</text>
<text transform="translate(302.5 23.2) scale(1.0 1)" font-size="11" text-anchor="end">2</text>
<text transform="translate(302.5 375.6) scale(1.0 1)" font-size="11" text-anchor="end">0</text>
<text transform="translate(302.5 333.03) scale(1.0 1)" font-size="11" text-anchor="end">0.5</text>
<text transform="translate(302.5 290.45) scale(1.0 1)" font-size="11" text-anchor="end">1</text>
<text transform="translate(302.5 247.87) scale(1.0 1)" font-size="11" text-anchor="end">1.5</text>
<text transform="translate(302.5 205.3) scale(1.0 1)" font-size="11" text-anchor="end">2</text>
<text transform="translate(306.3 384) scale(1.0 1)" font-size="11" text-anchor="middle">0</text>
<text transform="translate(366.7 384) scale(1.0 1)" font-size="11" text-anchor="middle">0.05</text>
<text transform="translate(427.1 384) scale(1.0 1)" font-size="11" text-anchor="middle">0.1</text>
<text transform="translate(487.5 384) scale(1.0 1)" font-size="11" text-anchor="middle">0.15</text>
<text transform="translate(547.9 384) scale(1.0 1)" font-size="11" text-anchor="middle">0.2</text>
<text transform="translate(576.4 193.8) scale(1.0 1)" font-size="11" text-anchor="end">0</text>
<text transform="translate(576.4 151.15) scale(1.0 1)" font-size="11" text-anchor="end">0.5</text>
<text transform="translate(576.4 108.5) scale(1.0 1)" font-size="11" text-anchor="end">1</text>
<text transform="translate(576.4 65.85) scale(1.0 1)" font-size="11" text-anchor="end">1.5</text>
<text transform="translate(576.4 23.2) scale(1.0 1)" font-size="11" text-anchor="end">2</text>
<text transform="translate(576.4 375.6) scale(1.0 1)" font-size="11" text-anchor="end">0</text>
<text transform="translate(576.4 333.03) scale(1.0 1)" font-size="11" text-anchor="end">0.5</text>
<text transform="translate(576.4 290.45) scale(1.0 1)" font-size="11" text-anchor="end">1</text>
<text transform="translate(576.4 247.87) scale(1.0 1)" font-size="11" text-anchor="end">1.5</text>
<text transform="translate(576.4 205.3) scale(1.0 1)" font-size="11" text-anchor="end">2</text>
<text transform="translate(580.8 384) scale(1.0 1)" font-size="11" text-anchor="middle">0</text>
<text transform="translate(641.25 384) scale(1.0 1)" font-size="11" text-anchor="middle">0.05</text>
<text transform="translate(701.7 384) scale(1.0 1)" font-size="11" text-anchor="middle">0.1</text>
<text transform="translate(762.15 384) scale(1.0 1)" font-size="11" text-anchor="middle">0.15</text>
<text transform="translate(822.6 384) scale(1.0 1)" font-size="11" text-anchor="middle">0.2</text>
<text transform="translate(175.9 389.6) scale(1.0 1)" font-size="11.6" text-anchor="middle">1/(2&#964;&#916;<tspan dy="3" font-size="9.3">b</tspan><tspan dy="-3">)</tspan></text>
<text transform="translate(455.7 391.4) scale(1.0 1)" font-size="11.6" text-anchor="middle">1/(2&#964;&#916;<tspan dy="3" font-size="9.3">b</tspan><tspan dy="-3">)</tspan></text>
<text transform="translate(730 391.4) scale(1.0 1)" font-size="11.6" text-anchor="middle">1/(2&#964;&#916;<tspan dy="3" font-size="9.3">b</tspan><tspan dy="-3">)</tspan></text>
<text transform="translate(9.7 104.5) scale(1.0 1) rotate(-90)" font-size="11.6" text-anchor="middle">&#963;<tspan dy="3" font-size="9.3">S</tspan><tspan dy="-3">(E=0)/&#963;</tspan><tspan dy="3" font-size="9.3">N</tspan></text>
<text transform="translate(9.7 286.3) scale(1.0 1) rotate(-90)" font-size="11.6" text-anchor="middle">&#963;<tspan dy="3" font-size="9.3">S</tspan><tspan dy="-3">(E=0)/&#963;</tspan><tspan dy="3" font-size="9.3">N</tspan></text>
<text transform="translate(284.5 105.3) scale(1.0 1) rotate(-90)" font-size="11.85" text-anchor="middle">P<tspan dy="3" font-size="9.3">S</tspan><tspan dy="-3">(E=0)/(e</tspan><tspan dy="-5" font-size="9.3">3</tspan><tspan dy="5">/h)</tspan></text>
<text transform="translate(284.5 287.3) scale(1.0 1) rotate(-90)" font-size="11.85" text-anchor="middle">P<tspan dy="3" font-size="9.3">S</tspan><tspan dy="-3">(E=0)/(e</tspan><tspan dy="-5" font-size="9.3">3</tspan><tspan dy="5">/h)</tspan></text>
<text transform="translate(558.9 106.3) scale(1.0 1) rotate(-90)" font-size="11.6" text-anchor="middle">P<tspan dy="3" font-size="9.3">S</tspan><tspan dy="-3">/(2e&#963;</tspan><tspan dy="3" font-size="9.3">S</tspan><tspan dy="-3">)</tspan></text>
<text transform="translate(558.9 288.3) scale(1.0 1) rotate(-90)" font-size="11.6" text-anchor="middle">P<tspan dy="3" font-size="9.3">S</tspan><tspan dy="-3">/(2e&#963;</tspan><tspan dy="3" font-size="9.3">S</tspan><tspan dy="-3">)</tspan></text>
</g>
<g font-family="'Liberation Serif', serif" font-size="16.5" fill="#000" opacity="0.999" style="text-rendering:geometricPrecision">
<text x="-1.4" y="28.6">(a)</text>
<text x="-0.8" y="209.1">(b)</text>
</g>
<g font-family="'Liberation Sans', sans-serif" font-size="10" fill="#000" opacity="0.999" style="text-rendering:geometricPrecision">
<path d="M58.7 7 h44.6" stroke="#ff0000" stroke-width="3.65" fill="none"/>
<text transform="translate(38.9 10.6) scale(1.1 1)">p<tspan dy="3.1" font-size="8">x</tspan></text>
<path d="M154.1 7 h44.6" stroke="#ffff00" stroke-width="3.65" fill="none" stroke-dasharray="15.64 5.21 2.61 5.21"/>
<text transform="translate(136.9 10.6) scale(1.1 1)">f<tspan dy="3.1" font-size="8">x</tspan></text>
<path d="M258.1 7 h44.6" stroke="#000000" stroke-width="3.65" fill="none" stroke-dasharray="15.64 5.21 2.61 5.21"/>
<text transform="translate(233.5 10.6) scale(1.1 1)">d<tspan dy="3.1" font-size="8">xy</tspan></text>
<path d="M356.4 7 h44.6" stroke="#00ffff" stroke-width="3.65" fill="none" stroke-dasharray="10.43 5.21"/>
<text transform="translate(336.2 10.6) scale(1.1 1)">p<tspan dy="3.1" font-size="8">y</tspan></text>
<path d="M466.3 7 h44.6" stroke="#0000ff" stroke-width="3.65" fill="none" stroke-dasharray="10.43 5.21"/>
<text transform="translate(431.4 10.6) scale(1.1 1)">d<tspan dy="2.9" font-size="6.8">x</tspan><tspan dy="-3.6" font-size="5.8">2</tspan><tspan dy="3.6" font-size="6.8">-y</tspan><tspan dy="-3.6" font-size="5.8">2</tspan></text>
<path d="M563.2 7 h44.6" stroke="#ff00ff" stroke-width="3.65" fill="none" stroke-dasharray="5.19 7.78"/>
<text transform="translate(542.4 10.6) scale(1.1 1)">&#967;<tspan dy="3.1" font-size="8">p</tspan></text>
<path d="M661.8 7 h44.6" stroke="#00ff00" stroke-width="3.65" fill="none" stroke-dasharray="5.19 7.78"/>
<text transform="translate(641.4 10.6) scale(1.1 1)">&#967;<tspan dy="3.1" font-size="8">d</tspan></text>
<path d="M758.8 7 h44.6" stroke="#ffa500" stroke-width="3.65" fill="none" stroke-dasharray="5.19 7.78"/>
<text transform="translate(740.4 10.6) scale(1.1 1)">&#967;<tspan dy="3.1" font-size="8">f</tspan></text>
</g>
</svg>
</body></html>
